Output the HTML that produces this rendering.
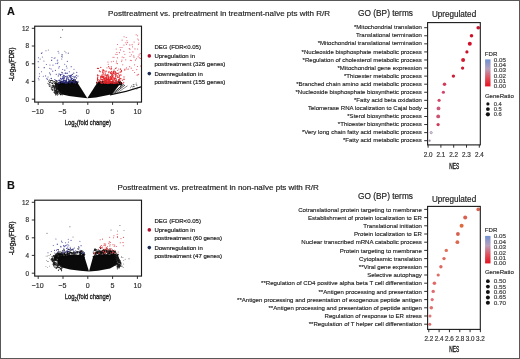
<!DOCTYPE html>
<html><head><meta charset="utf-8"><style>
html,body{margin:0;padding:0;background:#fff;}
body{width:520px;height:359px;position:relative;overflow:hidden;font-family:"Liberation Sans", sans-serif;}
</style></head><body>
<svg width="520" height="359" viewBox="0 0 520 359" style="position:absolute;left:0;top:0;will-change:transform">
<defs>
<clipPath id="clipV0"><rect x="35.2" y="26.7" width="105.8" height="74.9"/></clipPath>
<clipPath id="clipV174"><rect x="35.2" y="200.7" width="105.8" height="74.9"/></clipPath>
<linearGradient id="gA" x1="0" y1="0" x2="0" y2="1"><stop offset="0" stop-color="#6c8fd2"/><stop offset="0.35" stop-color="#b8a0bc"/><stop offset="0.68" stop-color="#e0505c"/><stop offset="1" stop-color="#e4101e"/></linearGradient>
<linearGradient id="gB" x1="0" y1="0" x2="0" y2="1"><stop offset="0" stop-color="#6c8fd2"/><stop offset="0.35" stop-color="#b8a0bc"/><stop offset="0.68" stop-color="#e0505c"/><stop offset="1" stop-color="#e4101e"/></linearGradient>
</defs>
<g font-family='"Liberation Sans", sans-serif'>
<rect x="0.5" y="0.5" width="519" height="358" fill="#fff" stroke="#585858" stroke-width="1"/>
<text x="6.90" y="14.80" font-size="10.9" text-anchor="start" fill="#111" font-weight="bold" stroke="#111" stroke-width="0.1" >A</text>
<text x="7.10" y="188.70" font-size="10.9" text-anchor="start" fill="#111" font-weight="bold" stroke="#111" stroke-width="0.1" >B</text>
<text x="108.10" y="15.80" font-size="8" text-anchor="start" fill="#222" font-weight="normal" stroke="#222" stroke-width="0.18" >Posttreatment vs. pretreatment in treatment-naïve pts with R/R</text>
<text x="117.40" y="190.20" font-size="8" text-anchor="start" fill="#222" font-weight="normal" stroke="#222" stroke-width="0.18" >Posttreatment vs. pretreatment in non-naïve pts with R/R</text>
<g clip-path="url(#clipV0)">
<path d="M55.6,83.7 L64.2,82.2 L73.8,81.7 L77.7,83.0 L87.3,98.3 L78.7,97.2 L69.0,95.9 L62.3,94.4 L57.5,89.6 L55.3,85.8Z" fill="#0a0a0a"/>
<path d="M87.3,98.3 L97.1,83.0 L105.0,82.6 L119.5,82.6 L120.5,83.4 L112.0,94.3 L96.0,97.5Z" fill="#0a0a0a"/>
<path d="M110.0,94.3 L126.0,90.7 L141.5,86.1 L141.5,87.4 L126.0,92.0 L110.0,95.5Z" fill="#0a0a0a"/>
<line x1="112.2" y1="94.0" x2="123.8" y2="84.0" stroke="#111" stroke-width="0.9"/>
<line x1="114.3" y1="93.6" x2="125.0" y2="85.0" stroke="#111" stroke-width="0.8"/>
<line x1="117.0" y1="93.0" x2="127.5" y2="85.8" stroke="#111" stroke-width="0.5"/>
<circle cx="73.20" cy="82.21" r="0.60" fill="#0a0a0a" />
<circle cx="73.41" cy="81.02" r="0.60" fill="#0a0a0a" />
<circle cx="55.78" cy="84.29" r="0.60" fill="#0a0a0a" />
<circle cx="60.82" cy="83.68" r="0.60" fill="#0a0a0a" />
<circle cx="60.90" cy="82.89" r="0.60" fill="#0a0a0a" />
<circle cx="75.47" cy="82.43" r="0.60" fill="#0a0a0a" />
<circle cx="58.21" cy="84.07" r="0.60" fill="#0a0a0a" />
<circle cx="69.50" cy="81.75" r="0.60" fill="#0a0a0a" />
<circle cx="75.94" cy="83.67" r="0.60" fill="#0a0a0a" />
<circle cx="60.11" cy="82.39" r="0.60" fill="#0a0a0a" />
<circle cx="75.26" cy="83.73" r="0.60" fill="#0a0a0a" />
<circle cx="67.67" cy="82.88" r="0.60" fill="#0a0a0a" />
<circle cx="56.16" cy="85.16" r="0.60" fill="#0a0a0a" />
<circle cx="70.94" cy="84.83" r="0.60" fill="#0a0a0a" />
<circle cx="60.19" cy="84.07" r="0.60" fill="#0a0a0a" />
<circle cx="68.40" cy="82.14" r="0.60" fill="#0a0a0a" />
<circle cx="76.28" cy="82.08" r="0.60" fill="#0a0a0a" />
<circle cx="74.45" cy="82.46" r="0.60" fill="#0a0a0a" />
<circle cx="63.25" cy="82.30" r="0.60" fill="#0a0a0a" />
<circle cx="74.01" cy="81.22" r="0.60" fill="#0a0a0a" />
<circle cx="77.82" cy="82.46" r="0.60" fill="#0a0a0a" />
<circle cx="72.17" cy="83.99" r="0.60" fill="#0a0a0a" />
<circle cx="65.92" cy="82.57" r="0.60" fill="#0a0a0a" />
<circle cx="65.45" cy="83.34" r="0.60" fill="#0a0a0a" />
<circle cx="64.49" cy="82.76" r="0.60" fill="#0a0a0a" />
<circle cx="62.86" cy="82.12" r="0.60" fill="#0a0a0a" />
<circle cx="73.51" cy="81.11" r="0.60" fill="#0a0a0a" />
<circle cx="57.03" cy="84.58" r="0.60" fill="#0a0a0a" />
<circle cx="55.83" cy="83.62" r="0.60" fill="#0a0a0a" />
<circle cx="63.90" cy="82.87" r="0.60" fill="#0a0a0a" />
<circle cx="75.60" cy="83.79" r="0.60" fill="#0a0a0a" />
<circle cx="76.33" cy="81.68" r="0.60" fill="#0a0a0a" />
<circle cx="76.60" cy="83.59" r="0.60" fill="#0a0a0a" />
<circle cx="59.53" cy="83.71" r="0.60" fill="#0a0a0a" />
<circle cx="59.81" cy="84.27" r="0.60" fill="#0a0a0a" />
<circle cx="55.71" cy="84.58" r="0.60" fill="#0a0a0a" />
<circle cx="70.34" cy="82.45" r="0.60" fill="#0a0a0a" />
<circle cx="65.62" cy="83.26" r="0.60" fill="#0a0a0a" />
<circle cx="69.10" cy="82.98" r="0.60" fill="#0a0a0a" />
<circle cx="68.73" cy="82.72" r="0.60" fill="#0a0a0a" />
<circle cx="75.07" cy="84.28" r="0.60" fill="#0a0a0a" />
<circle cx="60.31" cy="85.64" r="0.60" fill="#0a0a0a" />
<circle cx="65.52" cy="82.28" r="0.60" fill="#0a0a0a" />
<circle cx="74.85" cy="82.02" r="0.60" fill="#0a0a0a" />
<circle cx="69.49" cy="81.68" r="0.60" fill="#0a0a0a" />
<circle cx="60.25" cy="82.36" r="0.60" fill="#0a0a0a" />
<circle cx="61.03" cy="81.46" r="0.60" fill="#0a0a0a" />
<circle cx="62.81" cy="81.26" r="0.60" fill="#0a0a0a" />
<circle cx="56.67" cy="83.91" r="0.60" fill="#0a0a0a" />
<circle cx="62.14" cy="82.89" r="0.60" fill="#0a0a0a" />
<circle cx="76.64" cy="83.91" r="0.60" fill="#0a0a0a" />
<circle cx="73.18" cy="82.55" r="0.60" fill="#0a0a0a" />
<circle cx="59.40" cy="84.33" r="0.60" fill="#0a0a0a" />
<circle cx="76.50" cy="83.20" r="0.60" fill="#0a0a0a" />
<circle cx="73.66" cy="80.25" r="0.60" fill="#0a0a0a" />
<circle cx="76.48" cy="82.99" r="0.60" fill="#0a0a0a" />
<circle cx="75.43" cy="79.86" r="0.60" fill="#0a0a0a" />
<circle cx="68.64" cy="81.79" r="0.60" fill="#0a0a0a" />
<circle cx="57.22" cy="84.30" r="0.60" fill="#0a0a0a" />
<circle cx="72.40" cy="83.56" r="0.60" fill="#0a0a0a" />
<circle cx="70.21" cy="83.16" r="0.60" fill="#0a0a0a" />
<circle cx="55.98" cy="82.63" r="0.60" fill="#0a0a0a" />
<circle cx="60.52" cy="82.82" r="0.60" fill="#0a0a0a" />
<circle cx="62.78" cy="83.45" r="0.60" fill="#0a0a0a" />
<circle cx="69.04" cy="81.31" r="0.60" fill="#0a0a0a" />
<circle cx="76.03" cy="84.11" r="0.60" fill="#0a0a0a" />
<circle cx="72.43" cy="80.47" r="0.60" fill="#0a0a0a" />
<circle cx="75.85" cy="81.92" r="0.60" fill="#0a0a0a" />
<circle cx="73.58" cy="82.05" r="0.60" fill="#0a0a0a" />
<circle cx="60.87" cy="82.54" r="0.60" fill="#0a0a0a" />
<circle cx="59.59" cy="82.09" r="0.60" fill="#0a0a0a" />
<circle cx="70.30" cy="81.91" r="0.60" fill="#0a0a0a" />
<circle cx="63.44" cy="82.84" r="0.60" fill="#0a0a0a" />
<circle cx="61.73" cy="82.75" r="0.60" fill="#0a0a0a" />
<circle cx="59.05" cy="82.63" r="0.60" fill="#0a0a0a" />
<circle cx="74.50" cy="83.41" r="0.60" fill="#0a0a0a" />
<circle cx="69.08" cy="83.41" r="0.60" fill="#0a0a0a" />
<circle cx="73.27" cy="81.61" r="0.60" fill="#0a0a0a" />
<circle cx="65.83" cy="83.09" r="0.60" fill="#0a0a0a" />
<circle cx="61.12" cy="83.29" r="0.60" fill="#0a0a0a" />
<circle cx="71.91" cy="81.74" r="0.60" fill="#0a0a0a" />
<circle cx="76.11" cy="83.34" r="0.60" fill="#0a0a0a" />
<circle cx="64.11" cy="84.88" r="0.60" fill="#0a0a0a" />
<circle cx="73.00" cy="83.31" r="0.60" fill="#0a0a0a" />
<circle cx="56.55" cy="84.41" r="0.60" fill="#0a0a0a" />
<circle cx="68.14" cy="82.58" r="0.60" fill="#0a0a0a" />
<circle cx="63.98" cy="82.03" r="0.60" fill="#0a0a0a" />
<circle cx="58.57" cy="83.42" r="0.60" fill="#0a0a0a" />
<circle cx="56.82" cy="83.64" r="0.60" fill="#0a0a0a" />
<circle cx="56.20" cy="86.20" r="0.60" fill="#0a0a0a" />
<circle cx="58.21" cy="84.47" r="0.60" fill="#0a0a0a" />
<circle cx="76.98" cy="83.55" r="0.60" fill="#0a0a0a" />
<circle cx="75.97" cy="82.27" r="0.60" fill="#0a0a0a" />
<circle cx="62.82" cy="84.70" r="0.60" fill="#0a0a0a" />
<circle cx="72.73" cy="80.68" r="0.60" fill="#0a0a0a" />
<circle cx="60.88" cy="83.88" r="0.60" fill="#0a0a0a" />
<circle cx="59.23" cy="84.46" r="0.60" fill="#0a0a0a" />
<circle cx="70.77" cy="82.57" r="0.60" fill="#0a0a0a" />
<circle cx="63.92" cy="83.09" r="0.60" fill="#0a0a0a" />
<circle cx="69.97" cy="82.02" r="0.60" fill="#0a0a0a" />
<circle cx="69.16" cy="83.03" r="0.60" fill="#0a0a0a" />
<circle cx="64.23" cy="82.45" r="0.60" fill="#0a0a0a" />
<circle cx="76.12" cy="83.71" r="0.60" fill="#0a0a0a" />
<circle cx="65.40" cy="81.39" r="0.60" fill="#0a0a0a" />
<circle cx="70.25" cy="80.47" r="0.60" fill="#0a0a0a" />
<circle cx="71.17" cy="82.02" r="0.60" fill="#0a0a0a" />
<circle cx="77.41" cy="85.20" r="0.60" fill="#0a0a0a" />
<circle cx="63.36" cy="82.82" r="0.60" fill="#0a0a0a" />
<circle cx="68.89" cy="82.73" r="0.60" fill="#0a0a0a" />
<circle cx="72.40" cy="81.34" r="0.60" fill="#0a0a0a" />
<circle cx="61.80" cy="83.13" r="0.60" fill="#0a0a0a" />
<circle cx="68.39" cy="84.77" r="0.60" fill="#0a0a0a" />
<circle cx="75.87" cy="82.83" r="0.60" fill="#0a0a0a" />
<circle cx="59.06" cy="83.56" r="0.60" fill="#0a0a0a" />
<circle cx="66.71" cy="81.66" r="0.60" fill="#0a0a0a" />
<circle cx="56.47" cy="83.53" r="0.60" fill="#0a0a0a" />
<circle cx="74.30" cy="82.17" r="0.60" fill="#0a0a0a" />
<circle cx="57.08" cy="83.53" r="0.60" fill="#0a0a0a" />
<circle cx="61.08" cy="81.01" r="0.60" fill="#0a0a0a" />
<circle cx="71.45" cy="80.95" r="0.60" fill="#0a0a0a" />
<circle cx="71.08" cy="81.88" r="0.60" fill="#0a0a0a" />
<circle cx="76.83" cy="81.90" r="0.60" fill="#0a0a0a" />
<circle cx="73.87" cy="81.99" r="0.60" fill="#0a0a0a" />
<circle cx="61.98" cy="81.65" r="0.60" fill="#0a0a0a" />
<circle cx="77.42" cy="82.82" r="0.60" fill="#0a0a0a" />
<circle cx="56.62" cy="84.32" r="0.60" fill="#0a0a0a" />
<circle cx="69.17" cy="81.17" r="0.60" fill="#0a0a0a" />
<circle cx="74.72" cy="83.39" r="0.60" fill="#0a0a0a" />
<circle cx="61.54" cy="82.83" r="0.60" fill="#0a0a0a" />
<circle cx="75.84" cy="81.50" r="0.60" fill="#0a0a0a" />
<circle cx="62.94" cy="84.35" r="0.60" fill="#0a0a0a" />
<circle cx="62.42" cy="82.69" r="0.60" fill="#0a0a0a" />
<circle cx="65.22" cy="81.93" r="0.60" fill="#0a0a0a" />
<circle cx="60.81" cy="82.78" r="0.60" fill="#0a0a0a" />
<circle cx="58.10" cy="82.35" r="0.60" fill="#0a0a0a" />
<circle cx="76.16" cy="82.71" r="0.60" fill="#0a0a0a" />
<circle cx="73.76" cy="82.42" r="0.60" fill="#0a0a0a" />
<circle cx="66.55" cy="82.17" r="0.60" fill="#0a0a0a" />
<circle cx="72.07" cy="82.04" r="0.60" fill="#0a0a0a" />
<circle cx="73.66" cy="81.94" r="0.60" fill="#0a0a0a" />
<circle cx="63.64" cy="82.24" r="0.60" fill="#0a0a0a" />
<circle cx="68.71" cy="81.09" r="0.60" fill="#0a0a0a" />
<circle cx="60.91" cy="84.10" r="0.60" fill="#0a0a0a" />
<circle cx="65.68" cy="81.27" r="0.60" fill="#0a0a0a" />
<circle cx="61.75" cy="85.05" r="0.60" fill="#0a0a0a" />
<circle cx="68.51" cy="84.30" r="0.60" fill="#0a0a0a" />
<circle cx="75.49" cy="83.06" r="0.60" fill="#0a0a0a" />
<circle cx="68.07" cy="82.87" r="0.60" fill="#0a0a0a" />
<circle cx="71.51" cy="81.67" r="0.60" fill="#0a0a0a" />
<circle cx="62.00" cy="82.44" r="0.60" fill="#0a0a0a" />
<circle cx="64.20" cy="83.66" r="0.60" fill="#0a0a0a" />
<circle cx="58.41" cy="83.90" r="0.60" fill="#0a0a0a" />
<circle cx="58.57" cy="84.16" r="0.60" fill="#0a0a0a" />
<circle cx="77.45" cy="83.91" r="0.60" fill="#0a0a0a" />
<circle cx="75.13" cy="80.64" r="0.60" fill="#0a0a0a" />
<circle cx="72.90" cy="80.74" r="0.60" fill="#0a0a0a" />
<circle cx="75.92" cy="82.35" r="0.60" fill="#0a0a0a" />
<circle cx="75.24" cy="82.13" r="0.60" fill="#0a0a0a" />
<circle cx="69.29" cy="81.54" r="0.60" fill="#0a0a0a" />
<circle cx="59.47" cy="84.05" r="0.60" fill="#0a0a0a" />
<circle cx="120.37" cy="82.85" r="0.60" fill="#0a0a0a" />
<circle cx="99.10" cy="82.67" r="0.60" fill="#0a0a0a" />
<circle cx="102.60" cy="83.35" r="0.60" fill="#0a0a0a" />
<circle cx="112.64" cy="82.97" r="0.60" fill="#0a0a0a" />
<circle cx="110.91" cy="82.46" r="0.60" fill="#0a0a0a" />
<circle cx="100.05" cy="83.40" r="0.60" fill="#0a0a0a" />
<circle cx="116.76" cy="82.95" r="0.60" fill="#0a0a0a" />
<circle cx="110.54" cy="81.99" r="0.60" fill="#0a0a0a" />
<circle cx="110.20" cy="82.97" r="0.60" fill="#0a0a0a" />
<circle cx="106.26" cy="82.60" r="0.60" fill="#0a0a0a" />
<circle cx="98.15" cy="82.55" r="0.60" fill="#0a0a0a" />
<circle cx="120.91" cy="82.78" r="0.60" fill="#0a0a0a" />
<circle cx="97.50" cy="83.89" r="0.60" fill="#0a0a0a" />
<circle cx="118.88" cy="82.82" r="0.60" fill="#0a0a0a" />
<circle cx="121.08" cy="83.70" r="0.60" fill="#0a0a0a" />
<circle cx="99.49" cy="85.25" r="0.60" fill="#0a0a0a" />
<circle cx="104.44" cy="81.21" r="0.60" fill="#0a0a0a" />
<circle cx="106.24" cy="82.57" r="0.60" fill="#0a0a0a" />
<circle cx="99.44" cy="82.37" r="0.60" fill="#0a0a0a" />
<circle cx="118.61" cy="81.92" r="0.60" fill="#0a0a0a" />
<circle cx="115.25" cy="82.99" r="0.60" fill="#0a0a0a" />
<circle cx="121.03" cy="84.66" r="0.60" fill="#0a0a0a" />
<circle cx="118.20" cy="82.02" r="0.60" fill="#0a0a0a" />
<circle cx="118.39" cy="81.16" r="0.60" fill="#0a0a0a" />
<circle cx="112.54" cy="82.63" r="0.60" fill="#0a0a0a" />
<circle cx="115.19" cy="82.94" r="0.60" fill="#0a0a0a" />
<circle cx="117.73" cy="82.45" r="0.60" fill="#0a0a0a" />
<circle cx="102.63" cy="82.47" r="0.60" fill="#0a0a0a" />
<circle cx="102.52" cy="81.85" r="0.60" fill="#0a0a0a" />
<circle cx="108.06" cy="81.07" r="0.60" fill="#0a0a0a" />
<circle cx="119.33" cy="82.90" r="0.60" fill="#0a0a0a" />
<circle cx="99.04" cy="84.72" r="0.60" fill="#0a0a0a" />
<circle cx="106.19" cy="81.66" r="0.60" fill="#0a0a0a" />
<circle cx="101.05" cy="82.73" r="0.60" fill="#0a0a0a" />
<circle cx="119.50" cy="83.41" r="0.60" fill="#0a0a0a" />
<circle cx="119.85" cy="83.08" r="0.60" fill="#0a0a0a" />
<circle cx="111.44" cy="81.85" r="0.60" fill="#0a0a0a" />
<circle cx="105.31" cy="82.23" r="0.60" fill="#0a0a0a" />
<circle cx="101.81" cy="82.63" r="0.60" fill="#0a0a0a" />
<circle cx="114.35" cy="83.40" r="0.60" fill="#0a0a0a" />
<circle cx="111.54" cy="82.94" r="0.60" fill="#0a0a0a" />
<circle cx="100.07" cy="82.85" r="0.60" fill="#0a0a0a" />
<circle cx="100.14" cy="82.12" r="0.60" fill="#0a0a0a" />
<circle cx="106.20" cy="81.98" r="0.60" fill="#0a0a0a" />
<circle cx="121.01" cy="84.79" r="0.60" fill="#0a0a0a" />
<circle cx="104.82" cy="83.58" r="0.60" fill="#0a0a0a" />
<circle cx="105.73" cy="82.69" r="0.60" fill="#0a0a0a" />
<circle cx="99.12" cy="80.91" r="0.60" fill="#0a0a0a" />
<circle cx="109.76" cy="84.81" r="0.60" fill="#0a0a0a" />
<circle cx="99.10" cy="82.19" r="0.60" fill="#0a0a0a" />
<circle cx="109.22" cy="81.34" r="0.60" fill="#0a0a0a" />
<circle cx="121.61" cy="84.68" r="0.60" fill="#0a0a0a" />
<circle cx="101.81" cy="82.25" r="0.60" fill="#0a0a0a" />
<circle cx="117.08" cy="81.81" r="0.60" fill="#0a0a0a" />
<circle cx="104.73" cy="84.29" r="0.60" fill="#0a0a0a" />
<circle cx="119.87" cy="82.63" r="0.60" fill="#0a0a0a" />
<circle cx="99.53" cy="83.86" r="0.60" fill="#0a0a0a" />
<circle cx="119.84" cy="84.48" r="0.60" fill="#0a0a0a" />
<circle cx="100.05" cy="82.03" r="0.60" fill="#0a0a0a" />
<circle cx="120.81" cy="82.93" r="0.60" fill="#0a0a0a" />
<circle cx="99.35" cy="83.27" r="0.60" fill="#0a0a0a" />
<circle cx="119.58" cy="82.69" r="0.60" fill="#0a0a0a" />
<circle cx="99.96" cy="81.92" r="0.60" fill="#0a0a0a" />
<circle cx="120.41" cy="81.78" r="0.60" fill="#0a0a0a" />
<circle cx="108.91" cy="82.26" r="0.60" fill="#0a0a0a" />
<circle cx="119.65" cy="83.35" r="0.60" fill="#0a0a0a" />
<circle cx="98.70" cy="82.23" r="0.60" fill="#0a0a0a" />
<circle cx="105.94" cy="83.36" r="0.60" fill="#0a0a0a" />
<circle cx="120.06" cy="81.72" r="0.60" fill="#0a0a0a" />
<circle cx="97.18" cy="83.43" r="0.60" fill="#0a0a0a" />
<circle cx="118.58" cy="82.99" r="0.60" fill="#0a0a0a" />
<circle cx="96.89" cy="82.06" r="0.60" fill="#0a0a0a" />
<circle cx="103.89" cy="84.08" r="0.60" fill="#0a0a0a" />
<circle cx="113.84" cy="81.26" r="0.60" fill="#0a0a0a" />
<circle cx="97.48" cy="82.35" r="0.60" fill="#0a0a0a" />
<circle cx="97.33" cy="83.43" r="0.60" fill="#0a0a0a" />
<circle cx="105.46" cy="80.41" r="0.60" fill="#0a0a0a" />
<circle cx="103.24" cy="83.23" r="0.60" fill="#0a0a0a" />
<circle cx="120.17" cy="84.88" r="0.60" fill="#0a0a0a" />
<circle cx="119.63" cy="84.35" r="0.60" fill="#0a0a0a" />
<circle cx="120.21" cy="83.12" r="0.60" fill="#0a0a0a" />
<circle cx="100.08" cy="85.92" r="0.60" fill="#0a0a0a" />
<circle cx="120.29" cy="82.92" r="0.60" fill="#0a0a0a" />
<circle cx="120.76" cy="83.96" r="0.60" fill="#0a0a0a" />
<circle cx="114.03" cy="83.37" r="0.60" fill="#0a0a0a" />
<circle cx="100.64" cy="83.35" r="0.60" fill="#0a0a0a" />
<circle cx="100.64" cy="82.21" r="0.60" fill="#0a0a0a" />
<circle cx="98.34" cy="83.30" r="0.60" fill="#0a0a0a" />
<circle cx="106.01" cy="81.95" r="0.60" fill="#0a0a0a" />
<circle cx="119.62" cy="83.49" r="0.60" fill="#0a0a0a" />
<circle cx="104.77" cy="83.38" r="0.60" fill="#0a0a0a" />
<circle cx="99.54" cy="82.76" r="0.60" fill="#0a0a0a" />
<circle cx="109.12" cy="81.77" r="0.60" fill="#0a0a0a" />
<circle cx="103.70" cy="81.38" r="0.60" fill="#0a0a0a" />
<circle cx="102.50" cy="81.72" r="0.60" fill="#0a0a0a" />
<circle cx="120.89" cy="83.26" r="0.60" fill="#0a0a0a" />
<circle cx="97.65" cy="82.96" r="0.60" fill="#0a0a0a" />
<circle cx="106.80" cy="84.23" r="0.60" fill="#0a0a0a" />
<circle cx="96.80" cy="82.53" r="0.60" fill="#0a0a0a" />
<circle cx="102.20" cy="83.69" r="0.60" fill="#0a0a0a" />
<circle cx="112.74" cy="82.10" r="0.60" fill="#0a0a0a" />
<circle cx="109.47" cy="83.65" r="0.60" fill="#0a0a0a" />
<circle cx="111.40" cy="82.77" r="0.60" fill="#0a0a0a" />
<circle cx="120.55" cy="84.22" r="0.60" fill="#0a0a0a" />
<circle cx="120.43" cy="83.90" r="0.60" fill="#0a0a0a" />
<circle cx="111.15" cy="83.07" r="0.60" fill="#0a0a0a" />
<circle cx="105.88" cy="83.04" r="0.60" fill="#0a0a0a" />
<circle cx="98.04" cy="84.83" r="0.60" fill="#0a0a0a" />
<circle cx="116.14" cy="82.73" r="0.60" fill="#0a0a0a" />
<circle cx="120.44" cy="82.44" r="0.60" fill="#0a0a0a" />
<circle cx="104.52" cy="82.65" r="0.60" fill="#0a0a0a" />
<circle cx="99.09" cy="82.95" r="0.60" fill="#0a0a0a" />
<circle cx="102.47" cy="82.09" r="0.60" fill="#0a0a0a" />
<circle cx="113.85" cy="83.61" r="0.60" fill="#0a0a0a" />
<circle cx="120.00" cy="82.62" r="0.60" fill="#0a0a0a" />
<circle cx="120.42" cy="84.12" r="0.60" fill="#0a0a0a" />
<circle cx="120.21" cy="83.66" r="0.60" fill="#0a0a0a" />
<circle cx="100.08" cy="82.35" r="0.60" fill="#0a0a0a" />
<circle cx="118.33" cy="84.31" r="0.60" fill="#0a0a0a" />
<circle cx="103.92" cy="83.33" r="0.60" fill="#0a0a0a" />
<circle cx="112.32" cy="81.71" r="0.60" fill="#0a0a0a" />
<circle cx="98.32" cy="82.61" r="0.60" fill="#0a0a0a" />
<circle cx="120.58" cy="86.80" r="0.60" fill="#0a0a0a" />
<circle cx="119.64" cy="83.34" r="0.60" fill="#0a0a0a" />
<circle cx="98.49" cy="82.78" r="0.60" fill="#0a0a0a" />
<circle cx="119.14" cy="80.90" r="0.60" fill="#0a0a0a" />
<circle cx="121.41" cy="82.92" r="0.60" fill="#0a0a0a" />
<circle cx="119.88" cy="83.96" r="0.60" fill="#0a0a0a" />
<circle cx="110.97" cy="82.92" r="0.60" fill="#0a0a0a" />
<circle cx="108.25" cy="82.47" r="0.60" fill="#0a0a0a" />
<circle cx="101.42" cy="84.01" r="0.60" fill="#0a0a0a" />
<circle cx="119.37" cy="82.40" r="0.60" fill="#0a0a0a" />
<circle cx="100.10" cy="82.46" r="0.60" fill="#0a0a0a" />
<circle cx="104.51" cy="83.21" r="0.60" fill="#0a0a0a" />
<circle cx="97.97" cy="84.33" r="0.60" fill="#0a0a0a" />
<circle cx="110.82" cy="82.83" r="0.60" fill="#0a0a0a" />
<circle cx="121.15" cy="82.95" r="0.60" fill="#0a0a0a" />
<circle cx="120.77" cy="82.71" r="0.60" fill="#0a0a0a" />
<circle cx="98.55" cy="83.10" r="0.60" fill="#0a0a0a" />
<circle cx="100.32" cy="83.30" r="0.60" fill="#0a0a0a" />
<circle cx="54.43" cy="83.18" r="0.55" fill="#111" />
<circle cx="55.44" cy="86.28" r="0.55" fill="#111" />
<circle cx="61.26" cy="94.58" r="0.55" fill="#111" />
<circle cx="60.90" cy="92.74" r="0.55" fill="#111" />
<circle cx="61.50" cy="93.31" r="0.55" fill="#111" />
<circle cx="57.24" cy="89.74" r="0.55" fill="#111" />
<circle cx="55.74" cy="85.08" r="0.55" fill="#111" />
<circle cx="60.50" cy="94.72" r="0.55" fill="#111" />
<circle cx="61.54" cy="91.49" r="0.55" fill="#111" />
<circle cx="60.54" cy="92.71" r="0.55" fill="#111" />
<circle cx="56.52" cy="83.72" r="0.55" fill="#111" />
<circle cx="56.91" cy="88.60" r="0.55" fill="#111" />
<circle cx="58.71" cy="94.09" r="0.55" fill="#111" />
<circle cx="59.31" cy="92.10" r="0.55" fill="#111" />
<circle cx="56.06" cy="85.08" r="0.55" fill="#111" />
<circle cx="60.45" cy="94.55" r="0.55" fill="#111" />
<circle cx="55.94" cy="84.96" r="0.55" fill="#111" />
<circle cx="56.09" cy="86.29" r="0.55" fill="#111" />
<circle cx="55.62" cy="84.55" r="0.55" fill="#111" />
<circle cx="57.19" cy="89.06" r="0.55" fill="#111" />
<circle cx="58.57" cy="90.48" r="0.55" fill="#111" />
<circle cx="56.85" cy="87.39" r="0.55" fill="#111" />
<circle cx="57.60" cy="91.04" r="0.55" fill="#111" />
<circle cx="57.61" cy="88.63" r="0.55" fill="#111" />
<circle cx="56.47" cy="88.22" r="0.55" fill="#111" />
<circle cx="55.88" cy="83.13" r="0.55" fill="#111" />
<circle cx="58.51" cy="91.55" r="0.55" fill="#111" />
<circle cx="62.42" cy="94.79" r="0.55" fill="#111" />
<circle cx="60.41" cy="92.65" r="0.55" fill="#111" />
<circle cx="60.58" cy="93.02" r="0.55" fill="#111" />
<circle cx="60.03" cy="93.12" r="0.55" fill="#111" />
<circle cx="56.51" cy="89.56" r="0.55" fill="#111" />
<circle cx="56.24" cy="88.70" r="0.55" fill="#111" />
<circle cx="55.93" cy="85.33" r="0.55" fill="#111" />
<circle cx="58.60" cy="92.32" r="0.55" fill="#111" />
<circle cx="55.94" cy="88.15" r="0.55" fill="#111" />
<circle cx="60.37" cy="94.45" r="0.55" fill="#111" />
<circle cx="56.77" cy="88.08" r="0.55" fill="#111" />
<circle cx="56.85" cy="86.86" r="0.55" fill="#111" />
<circle cx="56.14" cy="88.73" r="0.55" fill="#111" />
<circle cx="61.44" cy="92.76" r="0.55" fill="#111" />
<circle cx="55.89" cy="87.43" r="0.55" fill="#111" />
<circle cx="56.33" cy="85.69" r="0.55" fill="#111" />
<circle cx="57.03" cy="89.55" r="0.55" fill="#111" />
<circle cx="55.89" cy="86.71" r="0.55" fill="#111" />
<circle cx="60.30" cy="92.25" r="0.55" fill="#111" />
<circle cx="60.43" cy="93.97" r="0.55" fill="#111" />
<circle cx="59.58" cy="91.49" r="0.55" fill="#111" />
<circle cx="55.93" cy="83.36" r="0.55" fill="#111" />
<circle cx="57.34" cy="88.04" r="0.55" fill="#111" />
<circle cx="57.66" cy="91.41" r="0.55" fill="#111" />
<circle cx="55.57" cy="84.33" r="0.55" fill="#111" />
<circle cx="57.19" cy="88.03" r="0.55" fill="#111" />
<circle cx="59.19" cy="92.91" r="0.55" fill="#111" />
<circle cx="57.94" cy="91.13" r="0.55" fill="#111" />
<circle cx="60.96" cy="94.18" r="0.55" fill="#111" />
<circle cx="59.73" cy="93.35" r="0.55" fill="#111" />
<circle cx="57.07" cy="92.37" r="0.55" fill="#111" />
<circle cx="60.89" cy="92.29" r="0.55" fill="#111" />
<circle cx="56.19" cy="87.05" r="0.55" fill="#111" />
<circle cx="105.74" cy="75.06" r="0.60" fill="#e3262b" />
<circle cx="114.11" cy="79.59" r="0.60" fill="#e3262b" />
<circle cx="110.92" cy="73.44" r="0.60" fill="#e3262b" />
<circle cx="105.88" cy="79.91" r="0.60" fill="#e3262b" />
<circle cx="103.14" cy="80.19" r="0.60" fill="#e3262b" />
<circle cx="104.55" cy="78.89" r="0.60" fill="#e3262b" />
<circle cx="102.73" cy="70.13" r="0.60" fill="#e3262b" />
<circle cx="112.57" cy="74.85" r="0.60" fill="#e3262b" />
<circle cx="110.05" cy="77.15" r="0.60" fill="#e3262b" />
<circle cx="97.50" cy="82.38" r="0.60" fill="#e3262b" />
<circle cx="116.30" cy="81.57" r="0.60" fill="#e3262b" />
<circle cx="114.56" cy="73.89" r="0.60" fill="#e3262b" />
<circle cx="115.76" cy="80.63" r="0.60" fill="#e3262b" />
<circle cx="115.31" cy="78.46" r="0.60" fill="#e3262b" />
<circle cx="99.78" cy="80.87" r="0.60" fill="#e3262b" />
<circle cx="100.46" cy="82.79" r="0.60" fill="#e3262b" />
<circle cx="112.47" cy="76.56" r="0.60" fill="#e3262b" />
<circle cx="97.50" cy="75.06" r="0.60" fill="#e3262b" />
<circle cx="111.26" cy="73.94" r="0.60" fill="#e3262b" />
<circle cx="101.06" cy="76.61" r="0.60" fill="#e3262b" />
<circle cx="121.44" cy="70.45" r="0.60" fill="#e3262b" />
<circle cx="107.74" cy="81.75" r="0.60" fill="#e3262b" />
<circle cx="108.08" cy="77.01" r="0.60" fill="#e3262b" />
<circle cx="115.23" cy="82.93" r="0.60" fill="#e3262b" />
<circle cx="100.85" cy="78.68" r="0.60" fill="#e3262b" />
<circle cx="106.18" cy="79.41" r="0.60" fill="#e3262b" />
<circle cx="110.58" cy="72.95" r="0.60" fill="#e3262b" />
<circle cx="115.83" cy="80.57" r="0.60" fill="#e3262b" />
<circle cx="111.09" cy="72.03" r="0.60" fill="#e3262b" />
<circle cx="105.78" cy="80.68" r="0.60" fill="#e3262b" />
<circle cx="116.14" cy="75.33" r="0.60" fill="#e3262b" />
<circle cx="112.11" cy="74.92" r="0.60" fill="#e3262b" />
<circle cx="101.43" cy="81.89" r="0.60" fill="#e3262b" />
<circle cx="111.32" cy="66.94" r="0.60" fill="#e3262b" />
<circle cx="103.83" cy="76.10" r="0.60" fill="#e3262b" />
<circle cx="113.62" cy="72.64" r="0.60" fill="#e3262b" />
<circle cx="104.09" cy="82.42" r="0.60" fill="#e3262b" />
<circle cx="106.04" cy="82.50" r="0.60" fill="#e3262b" />
<circle cx="111.82" cy="78.24" r="0.60" fill="#e3262b" />
<circle cx="111.80" cy="79.36" r="0.60" fill="#e3262b" />
<circle cx="105.73" cy="80.01" r="0.60" fill="#e3262b" />
<circle cx="105.56" cy="81.63" r="0.60" fill="#e3262b" />
<circle cx="118.60" cy="83.32" r="0.60" fill="#e3262b" />
<circle cx="108.12" cy="78.72" r="0.60" fill="#e3262b" />
<circle cx="106.81" cy="76.46" r="0.60" fill="#e3262b" />
<circle cx="101.30" cy="79.48" r="0.60" fill="#e3262b" />
<circle cx="105.93" cy="78.31" r="0.60" fill="#e3262b" />
<circle cx="119.62" cy="77.97" r="0.60" fill="#e3262b" />
<circle cx="119.54" cy="79.22" r="0.60" fill="#e3262b" />
<circle cx="117.72" cy="77.15" r="0.60" fill="#e3262b" />
<circle cx="116.19" cy="74.03" r="0.60" fill="#e3262b" />
<circle cx="108.30" cy="82.66" r="0.60" fill="#e3262b" />
<circle cx="123.74" cy="82.35" r="0.60" fill="#e3262b" />
<circle cx="106.46" cy="79.41" r="0.60" fill="#e3262b" />
<circle cx="111.68" cy="81.35" r="0.60" fill="#e3262b" />
<circle cx="110.07" cy="72.31" r="0.60" fill="#e3262b" />
<circle cx="107.03" cy="80.42" r="0.60" fill="#e3262b" />
<circle cx="117.76" cy="76.97" r="0.60" fill="#e3262b" />
<circle cx="115.23" cy="71.59" r="0.60" fill="#e3262b" />
<circle cx="100.87" cy="76.37" r="0.60" fill="#e3262b" />
<circle cx="102.77" cy="71.50" r="0.60" fill="#e3262b" />
<circle cx="111.72" cy="71.43" r="0.60" fill="#e3262b" />
<circle cx="111.99" cy="74.05" r="0.60" fill="#e3262b" />
<circle cx="99.31" cy="81.44" r="0.60" fill="#e3262b" />
<circle cx="97.50" cy="78.44" r="0.60" fill="#e3262b" />
<circle cx="104.58" cy="81.77" r="0.60" fill="#e3262b" />
<circle cx="109.33" cy="79.96" r="0.60" fill="#e3262b" />
<circle cx="106.92" cy="83.40" r="0.60" fill="#e3262b" />
<circle cx="105.72" cy="82.75" r="0.60" fill="#e3262b" />
<circle cx="101.96" cy="83.09" r="0.60" fill="#e3262b" />
<circle cx="97.50" cy="80.31" r="0.60" fill="#e3262b" />
<circle cx="120.49" cy="82.98" r="0.60" fill="#e3262b" />
<circle cx="101.44" cy="81.83" r="0.60" fill="#e3262b" />
<circle cx="103.17" cy="72.77" r="0.60" fill="#e3262b" />
<circle cx="104.58" cy="78.71" r="0.60" fill="#e3262b" />
<circle cx="111.30" cy="82.87" r="0.60" fill="#e3262b" />
<circle cx="103.44" cy="76.49" r="0.60" fill="#e3262b" />
<circle cx="117.10" cy="81.91" r="0.60" fill="#e3262b" />
<circle cx="103.29" cy="69.78" r="0.60" fill="#e3262b" />
<circle cx="100.78" cy="67.41" r="0.60" fill="#e3262b" />
<circle cx="102.11" cy="83.00" r="0.60" fill="#e3262b" />
<circle cx="110.26" cy="82.48" r="0.60" fill="#e3262b" />
<circle cx="107.33" cy="74.57" r="0.60" fill="#e3262b" />
<circle cx="102.69" cy="72.52" r="0.60" fill="#e3262b" />
<circle cx="104.46" cy="78.00" r="0.60" fill="#e3262b" />
<circle cx="98.84" cy="81.72" r="0.60" fill="#e3262b" />
<circle cx="110.57" cy="76.76" r="0.60" fill="#e3262b" />
<circle cx="102.26" cy="79.63" r="0.60" fill="#e3262b" />
<circle cx="111.32" cy="78.71" r="0.60" fill="#e3262b" />
<circle cx="111.86" cy="77.66" r="0.60" fill="#e3262b" />
<circle cx="104.22" cy="83.38" r="0.60" fill="#e3262b" />
<circle cx="97.50" cy="82.79" r="0.60" fill="#e3262b" />
<circle cx="103.00" cy="73.99" r="0.60" fill="#e3262b" />
<circle cx="106.45" cy="78.54" r="0.60" fill="#e3262b" />
<circle cx="106.57" cy="75.27" r="0.60" fill="#e3262b" />
<circle cx="102.04" cy="74.97" r="0.60" fill="#e3262b" />
<circle cx="118.31" cy="80.91" r="0.60" fill="#e3262b" />
<circle cx="114.67" cy="78.13" r="0.60" fill="#e3262b" />
<circle cx="113.83" cy="81.81" r="0.60" fill="#e3262b" />
<circle cx="112.89" cy="83.34" r="0.60" fill="#e3262b" />
<circle cx="116.24" cy="79.28" r="0.60" fill="#e3262b" />
<circle cx="103.22" cy="73.90" r="0.60" fill="#e3262b" />
<circle cx="115.96" cy="78.70" r="0.60" fill="#e3262b" />
<circle cx="102.74" cy="77.39" r="0.60" fill="#e3262b" />
<circle cx="106.33" cy="75.24" r="0.60" fill="#e3262b" />
<circle cx="107.26" cy="79.42" r="0.60" fill="#e3262b" />
<circle cx="105.69" cy="77.26" r="0.60" fill="#e3262b" />
<circle cx="109.22" cy="80.50" r="0.60" fill="#e3262b" />
<circle cx="109.69" cy="81.88" r="0.60" fill="#e3262b" />
<circle cx="111.04" cy="69.27" r="0.60" fill="#e3262b" />
<circle cx="105.79" cy="78.33" r="0.60" fill="#e3262b" />
<circle cx="113.65" cy="73.24" r="0.60" fill="#e3262b" />
<circle cx="104.71" cy="81.59" r="0.60" fill="#e3262b" />
<circle cx="106.98" cy="77.06" r="0.60" fill="#e3262b" />
<circle cx="106.34" cy="77.23" r="0.60" fill="#e3262b" />
<circle cx="100.21" cy="71.72" r="0.60" fill="#e3262b" />
<circle cx="116.32" cy="80.67" r="0.60" fill="#e3262b" />
<circle cx="111.93" cy="82.70" r="0.60" fill="#e3262b" />
<circle cx="111.91" cy="75.60" r="0.60" fill="#e3262b" />
<circle cx="114.69" cy="80.04" r="0.60" fill="#e3262b" />
<circle cx="114.91" cy="82.93" r="0.60" fill="#e3262b" />
<circle cx="97.50" cy="75.13" r="0.60" fill="#e3262b" />
<circle cx="115.77" cy="82.61" r="0.60" fill="#e3262b" />
<circle cx="106.63" cy="81.92" r="0.60" fill="#e3262b" />
<circle cx="106.45" cy="79.96" r="0.60" fill="#e3262b" />
<circle cx="109.61" cy="82.56" r="0.60" fill="#e3262b" />
<circle cx="118.10" cy="83.20" r="0.60" fill="#e3262b" />
<circle cx="120.28" cy="71.78" r="0.60" fill="#e3262b" />
<circle cx="119.30" cy="76.60" r="0.60" fill="#e3262b" />
<circle cx="109.78" cy="82.61" r="0.60" fill="#e3262b" />
<circle cx="108.14" cy="78.75" r="0.60" fill="#e3262b" />
<circle cx="108.60" cy="79.33" r="0.60" fill="#e3262b" />
<circle cx="118.84" cy="80.03" r="0.60" fill="#e3262b" />
<circle cx="106.32" cy="71.05" r="0.60" fill="#e3262b" />
<circle cx="108.68" cy="80.79" r="0.60" fill="#e3262b" />
<circle cx="102.49" cy="76.11" r="0.60" fill="#e3262b" />
<circle cx="97.50" cy="79.80" r="0.60" fill="#e3262b" />
<circle cx="108.61" cy="66.72" r="0.60" fill="#e3262b" />
<circle cx="108.81" cy="82.54" r="0.60" fill="#e3262b" />
<circle cx="117.67" cy="82.63" r="0.60" fill="#e3262b" />
<circle cx="110.00" cy="81.08" r="0.60" fill="#e3262b" />
<circle cx="105.37" cy="73.75" r="0.60" fill="#e3262b" />
<circle cx="115.00" cy="72.35" r="0.60" fill="#e3262b" />
<circle cx="106.90" cy="83.30" r="0.60" fill="#e3262b" />
<circle cx="103.72" cy="77.21" r="0.60" fill="#e3262b" />
<circle cx="100.64" cy="79.83" r="0.60" fill="#e3262b" />
<circle cx="115.58" cy="74.33" r="0.60" fill="#e3262b" />
<circle cx="103.36" cy="76.42" r="0.60" fill="#e3262b" />
<circle cx="104.72" cy="78.58" r="0.60" fill="#e3262b" />
<circle cx="101.06" cy="75.99" r="0.60" fill="#e3262b" />
<circle cx="118.89" cy="79.64" r="0.60" fill="#e3262b" />
<circle cx="104.44" cy="81.30" r="0.60" fill="#e3262b" />
<circle cx="124.00" cy="76.97" r="0.60" fill="#e3262b" />
<circle cx="105.74" cy="71.84" r="0.60" fill="#e3262b" />
<circle cx="104.96" cy="75.78" r="0.60" fill="#e3262b" />
<circle cx="120.21" cy="81.77" r="0.60" fill="#e3262b" />
<circle cx="104.85" cy="80.19" r="0.60" fill="#e3262b" />
<circle cx="97.69" cy="77.60" r="0.60" fill="#e3262b" />
<circle cx="102.49" cy="76.59" r="0.60" fill="#e3262b" />
<circle cx="98.75" cy="75.24" r="0.60" fill="#e3262b" />
<circle cx="110.73" cy="78.54" r="0.60" fill="#e3262b" />
<circle cx="113.69" cy="83.45" r="0.60" fill="#e3262b" />
<circle cx="101.95" cy="79.46" r="0.60" fill="#e3262b" />
<circle cx="114.05" cy="71.07" r="0.60" fill="#e3262b" />
<circle cx="119.96" cy="80.27" r="0.60" fill="#e3262b" />
<circle cx="113.56" cy="71.41" r="0.60" fill="#e3262b" />
<circle cx="104.68" cy="81.23" r="0.60" fill="#e3262b" />
<circle cx="115.46" cy="74.01" r="0.60" fill="#e3262b" />
<circle cx="103.70" cy="70.31" r="0.60" fill="#e3262b" />
<circle cx="107.55" cy="81.25" r="0.60" fill="#e3262b" />
<circle cx="98.88" cy="79.66" r="0.60" fill="#e3262b" />
<circle cx="112.06" cy="73.19" r="0.60" fill="#e3262b" />
<circle cx="112.98" cy="81.53" r="0.60" fill="#e3262b" />
<circle cx="101.93" cy="77.41" r="0.60" fill="#e3262b" />
<circle cx="105.01" cy="82.54" r="0.60" fill="#e3262b" />
<circle cx="108.70" cy="72.66" r="0.60" fill="#e3262b" />
<circle cx="110.72" cy="76.53" r="0.60" fill="#e3262b" />
<circle cx="118.27" cy="77.33" r="0.60" fill="#e3262b" />
<circle cx="109.61" cy="78.81" r="0.60" fill="#e3262b" />
<circle cx="97.78" cy="76.86" r="0.60" fill="#e3262b" />
<circle cx="114.47" cy="78.28" r="0.60" fill="#e3262b" />
<circle cx="101.08" cy="82.23" r="0.60" fill="#e3262b" />
<circle cx="110.46" cy="79.56" r="0.60" fill="#e3262b" />
<circle cx="112.93" cy="74.34" r="0.60" fill="#e3262b" />
<circle cx="103.96" cy="77.14" r="0.60" fill="#e3262b" />
<circle cx="103.08" cy="78.99" r="0.60" fill="#e3262b" />
<circle cx="110.07" cy="81.92" r="0.60" fill="#e3262b" />
<circle cx="114.81" cy="83.39" r="0.60" fill="#e3262b" />
<circle cx="115.67" cy="77.81" r="0.60" fill="#e3262b" />
<circle cx="109.81" cy="79.82" r="0.60" fill="#e3262b" />
<circle cx="104.48" cy="80.07" r="0.60" fill="#e3262b" />
<circle cx="107.79" cy="83.34" r="0.60" fill="#e3262b" />
<circle cx="124.00" cy="79.35" r="0.60" fill="#e3262b" />
<circle cx="113.62" cy="77.91" r="0.60" fill="#e3262b" />
<circle cx="104.74" cy="81.43" r="0.60" fill="#e3262b" />
<circle cx="110.15" cy="76.77" r="0.60" fill="#e3262b" />
<circle cx="118.67" cy="79.84" r="0.60" fill="#e3262b" />
<circle cx="115.47" cy="68.32" r="0.60" fill="#e3262b" />
<circle cx="108.96" cy="81.69" r="0.60" fill="#e3262b" />
<circle cx="110.15" cy="79.59" r="0.60" fill="#e3262b" />
<circle cx="110.68" cy="82.44" r="0.60" fill="#e3262b" />
<circle cx="97.64" cy="78.86" r="0.60" fill="#e3262b" />
<circle cx="97.50" cy="79.41" r="0.60" fill="#e3262b" />
<circle cx="110.84" cy="82.23" r="0.60" fill="#e3262b" />
<circle cx="104.07" cy="79.72" r="0.60" fill="#e3262b" />
<circle cx="120.07" cy="72.25" r="0.60" fill="#e3262b" />
<circle cx="108.65" cy="75.13" r="0.60" fill="#e3262b" />
<circle cx="99.47" cy="70.92" r="0.60" fill="#e3262b" />
<circle cx="106.10" cy="77.81" r="0.60" fill="#e3262b" />
<circle cx="105.65" cy="82.28" r="0.60" fill="#e3262b" />
<circle cx="124.00" cy="79.20" r="0.60" fill="#e3262b" />
<circle cx="109.30" cy="81.70" r="0.60" fill="#e3262b" />
<circle cx="108.79" cy="77.45" r="0.60" fill="#e3262b" />
<circle cx="119.65" cy="75.42" r="0.60" fill="#e3262b" />
<circle cx="109.97" cy="81.78" r="0.60" fill="#e3262b" />
<circle cx="111.14" cy="73.54" r="0.60" fill="#e3262b" />
<circle cx="98.45" cy="68.44" r="0.60" fill="#e3262b" />
<circle cx="112.15" cy="82.25" r="0.60" fill="#e3262b" />
<circle cx="109.44" cy="68.12" r="0.60" fill="#e3262b" />
<circle cx="106.76" cy="78.59" r="0.60" fill="#e3262b" />
<circle cx="100.52" cy="77.55" r="0.60" fill="#e3262b" />
<circle cx="113.19" cy="79.96" r="0.60" fill="#e3262b" />
<circle cx="108.86" cy="80.16" r="0.60" fill="#e3262b" />
<circle cx="105.38" cy="83.04" r="0.60" fill="#e3262b" />
<circle cx="109.24" cy="79.90" r="0.60" fill="#e3262b" />
<circle cx="108.58" cy="82.57" r="0.60" fill="#e3262b" />
<circle cx="108.19" cy="79.31" r="0.60" fill="#e3262b" />
<circle cx="122.40" cy="80.16" r="0.60" fill="#e3262b" />
<circle cx="111.57" cy="68.60" r="0.60" fill="#e3262b" />
<circle cx="117.42" cy="73.38" r="0.60" fill="#e3262b" />
<circle cx="113.17" cy="78.05" r="0.60" fill="#e3262b" />
<circle cx="120.31" cy="74.95" r="0.60" fill="#e3262b" />
<circle cx="113.62" cy="75.85" r="0.60" fill="#e3262b" />
<circle cx="103.78" cy="81.75" r="0.60" fill="#e3262b" />
<circle cx="112.03" cy="76.86" r="0.60" fill="#e3262b" />
<circle cx="106.69" cy="80.90" r="0.60" fill="#e3262b" />
<circle cx="109.36" cy="81.31" r="0.60" fill="#e3262b" />
<circle cx="107.28" cy="75.46" r="0.60" fill="#e3262b" />
<circle cx="116.46" cy="73.13" r="0.60" fill="#e3262b" />
<circle cx="108.36" cy="76.84" r="0.60" fill="#e3262b" />
<circle cx="111.67" cy="79.21" r="0.60" fill="#e3262b" />
<circle cx="111.89" cy="78.54" r="0.60" fill="#e3262b" />
<circle cx="112.44" cy="76.93" r="0.60" fill="#e3262b" />
<circle cx="103.62" cy="70.72" r="0.60" fill="#e3262b" />
<circle cx="121.54" cy="71.65" r="0.60" fill="#e3262b" />
<circle cx="120.94" cy="78.67" r="0.60" fill="#e3262b" />
<circle cx="106.97" cy="79.60" r="0.60" fill="#e3262b" />
<circle cx="104.12" cy="82.75" r="0.60" fill="#e3262b" />
<circle cx="108.80" cy="79.14" r="0.60" fill="#e3262b" />
<circle cx="97.50" cy="68.47" r="0.60" fill="#e3262b" />
<circle cx="122.66" cy="83.32" r="0.60" fill="#e3262b" />
<circle cx="113.06" cy="80.41" r="0.60" fill="#e3262b" />
<circle cx="110.64" cy="82.14" r="0.60" fill="#e3262b" />
<circle cx="108.26" cy="78.14" r="0.60" fill="#e3262b" />
<circle cx="110.07" cy="83.34" r="0.60" fill="#e3262b" />
<circle cx="110.92" cy="77.94" r="0.60" fill="#e3262b" />
<circle cx="109.24" cy="83.19" r="0.60" fill="#e3262b" />
<circle cx="112.63" cy="76.59" r="0.60" fill="#e3262b" />
<circle cx="111.52" cy="77.11" r="0.60" fill="#e3262b" />
<circle cx="112.58" cy="81.10" r="0.60" fill="#e3262b" />
<circle cx="106.05" cy="81.96" r="0.60" fill="#e3262b" />
<circle cx="113.38" cy="73.41" r="0.60" fill="#e3262b" />
<circle cx="108.05" cy="79.32" r="0.60" fill="#e3262b" />
<circle cx="111.25" cy="82.17" r="0.60" fill="#e3262b" />
<circle cx="103.55" cy="78.71" r="0.60" fill="#e3262b" />
<circle cx="108.39" cy="79.13" r="0.60" fill="#e3262b" />
<circle cx="101.84" cy="76.88" r="0.60" fill="#e3262b" />
<circle cx="111.99" cy="75.54" r="0.60" fill="#e3262b" />
<circle cx="109.65" cy="81.21" r="0.60" fill="#e3262b" />
<circle cx="108.33" cy="76.88" r="0.60" fill="#e3262b" />
<circle cx="108.64" cy="81.34" r="0.60" fill="#e3262b" />
<circle cx="111.02" cy="78.05" r="0.60" fill="#e3262b" />
<circle cx="115.55" cy="72.61" r="0.60" fill="#e3262b" />
<circle cx="107.94" cy="83.45" r="0.60" fill="#e3262b" />
<circle cx="114.77" cy="79.55" r="0.60" fill="#e3262b" />
<circle cx="112.28" cy="79.82" r="0.60" fill="#e3262b" />
<circle cx="113.43" cy="72.21" r="0.60" fill="#e3262b" />
<circle cx="106.59" cy="80.62" r="0.60" fill="#e3262b" />
<circle cx="103.44" cy="77.17" r="0.60" fill="#e3262b" />
<circle cx="116.26" cy="83.27" r="0.60" fill="#e3262b" />
<circle cx="102.19" cy="80.88" r="0.60" fill="#e3262b" />
<circle cx="115.89" cy="76.42" r="0.60" fill="#e3262b" />
<circle cx="113.88" cy="71.60" r="0.60" fill="#e3262b" />
<circle cx="104.92" cy="74.26" r="0.60" fill="#e3262b" />
<circle cx="101.64" cy="76.15" r="0.60" fill="#e3262b" />
<circle cx="120.29" cy="78.55" r="0.60" fill="#e3262b" />
<circle cx="115.72" cy="81.34" r="0.60" fill="#e3262b" />
<circle cx="101.65" cy="82.83" r="0.60" fill="#e3262b" />
<circle cx="107.81" cy="83.19" r="0.60" fill="#e3262b" />
<circle cx="113.18" cy="82.56" r="0.60" fill="#e3262b" />
<circle cx="110.15" cy="80.74" r="0.60" fill="#e3262b" />
<circle cx="108.97" cy="71.52" r="0.60" fill="#e3262b" />
<circle cx="111.65" cy="82.95" r="0.60" fill="#e3262b" />
<circle cx="107.75" cy="79.44" r="0.60" fill="#e3262b" />
<circle cx="117.07" cy="82.52" r="0.60" fill="#e3262b" />
<circle cx="102.53" cy="79.84" r="0.60" fill="#e3262b" />
<circle cx="108.18" cy="80.60" r="0.60" fill="#e3262b" />
<circle cx="115.51" cy="75.95" r="0.60" fill="#e3262b" />
<circle cx="111.95" cy="82.57" r="0.60" fill="#e3262b" />
<circle cx="101.93" cy="83.19" r="0.60" fill="#e3262b" />
<circle cx="126.44" cy="44.30" r="0.55" fill="#e4505a" />
<circle cx="124.93" cy="69.89" r="0.55" fill="#e4505a" />
<circle cx="134.60" cy="64.85" r="0.55" fill="#e4505a" />
<circle cx="118.40" cy="73.25" r="0.55" fill="#e4505a" />
<circle cx="118.76" cy="68.95" r="0.55" fill="#e4505a" />
<circle cx="115.23" cy="73.42" r="0.55" fill="#e4505a" />
<circle cx="127.64" cy="42.58" r="0.55" fill="#e4505a" />
<circle cx="137.09" cy="75.17" r="0.55" fill="#e4505a" />
<circle cx="106.97" cy="67.86" r="0.55" fill="#e4505a" />
<circle cx="118.51" cy="73.11" r="0.55" fill="#e4505a" />
<circle cx="125.76" cy="59.84" r="0.55" fill="#e4505a" />
<circle cx="115.88" cy="54.21" r="0.55" fill="#e4505a" />
<circle cx="138.05" cy="74.67" r="0.55" fill="#e4505a" />
<circle cx="104.81" cy="70.91" r="0.55" fill="#e4505a" />
<circle cx="130.33" cy="60.23" r="0.55" fill="#e4505a" />
<circle cx="112.14" cy="72.67" r="0.55" fill="#e4505a" />
<circle cx="139.08" cy="54.89" r="0.55" fill="#e4505a" />
<circle cx="132.10" cy="44.65" r="0.55" fill="#e4505a" />
<circle cx="112.31" cy="74.07" r="0.55" fill="#e4505a" />
<circle cx="116.86" cy="52.52" r="0.55" fill="#e4505a" />
<circle cx="126.21" cy="37.45" r="0.55" fill="#e4505a" />
<circle cx="120.49" cy="49.89" r="0.55" fill="#e4505a" />
<circle cx="125.04" cy="68.95" r="0.55" fill="#e4505a" />
<circle cx="131.29" cy="60.62" r="0.55" fill="#e4505a" />
<circle cx="129.80" cy="52.28" r="0.55" fill="#e4505a" />
<circle cx="119.42" cy="52.63" r="0.55" fill="#e4505a" />
<circle cx="124.34" cy="69.92" r="0.55" fill="#e4505a" />
<circle cx="140.15" cy="53.62" r="0.55" fill="#e4505a" />
<circle cx="137.80" cy="38.98" r="0.55" fill="#e4505a" />
<circle cx="123.86" cy="51.36" r="0.55" fill="#e4505a" />
<circle cx="107.86" cy="74.21" r="0.55" fill="#e4505a" />
<circle cx="132.41" cy="46.83" r="0.55" fill="#e4505a" />
<circle cx="131.21" cy="68.13" r="0.55" fill="#e4505a" />
<circle cx="122.74" cy="64.70" r="0.55" fill="#e4505a" />
<circle cx="137.53" cy="66.54" r="0.55" fill="#e4505a" />
<circle cx="139.37" cy="57.78" r="0.55" fill="#e4505a" />
<circle cx="133.99" cy="57.17" r="0.55" fill="#e4505a" />
<circle cx="117.73" cy="70.40" r="0.55" fill="#e4505a" />
<circle cx="132.90" cy="51.90" r="0.55" fill="#e4505a" />
<circle cx="129.85" cy="44.89" r="0.55" fill="#e4505a" />
<circle cx="134.97" cy="48.92" r="0.55" fill="#e4505a" />
<circle cx="120.38" cy="69.38" r="0.55" fill="#e4505a" />
<circle cx="122.07" cy="40.11" r="0.55" fill="#e4505a" />
<circle cx="112.99" cy="57.32" r="0.55" fill="#e4505a" />
<circle cx="134.59" cy="72.49" r="0.55" fill="#e4505a" />
<circle cx="104.75" cy="72.07" r="0.55" fill="#e4505a" />
<circle cx="138.12" cy="56.86" r="0.55" fill="#e4505a" />
<circle cx="140.44" cy="66.03" r="0.55" fill="#e4505a" />
<circle cx="131.41" cy="54.77" r="0.55" fill="#e4505a" />
<circle cx="129.93" cy="49.14" r="0.55" fill="#e4505a" />
<circle cx="111.32" cy="61.76" r="0.55" fill="#e4505a" />
<circle cx="129.21" cy="48.47" r="0.55" fill="#e4505a" />
<circle cx="118.82" cy="74.44" r="0.55" fill="#e4505a" />
<circle cx="116.33" cy="67.90" r="0.55" fill="#e4505a" />
<circle cx="121.48" cy="75.05" r="0.55" fill="#e4505a" />
<circle cx="117.75" cy="75.57" r="0.55" fill="#e4505a" />
<circle cx="117.15" cy="54.51" r="0.55" fill="#e4505a" />
<circle cx="140.31" cy="58.54" r="0.55" fill="#e4505a" />
<circle cx="121.96" cy="60.01" r="0.55" fill="#e4505a" />
<circle cx="129.73" cy="66.66" r="0.55" fill="#e4505a" />
<circle cx="128.54" cy="69.05" r="0.55" fill="#e4505a" />
<circle cx="130.02" cy="56.34" r="0.55" fill="#e4505a" />
<circle cx="114.02" cy="57.28" r="0.55" fill="#e4505a" />
<circle cx="124.04" cy="36.69" r="0.55" fill="#e4505a" />
<circle cx="136.17" cy="34.73" r="0.55" fill="#e4505a" />
<circle cx="121.96" cy="47.57" r="0.55" fill="#e4505a" />
<circle cx="123.82" cy="57.62" r="0.55" fill="#e4505a" />
<circle cx="137.66" cy="48.97" r="0.55" fill="#e4505a" />
<circle cx="138.91" cy="42.97" r="0.55" fill="#e4505a" />
<circle cx="136.83" cy="69.61" r="0.55" fill="#e4505a" />
<circle cx="126.41" cy="67.90" r="0.55" fill="#e4505a" />
<circle cx="138.56" cy="74.24" r="0.55" fill="#e4505a" />
<circle cx="117.49" cy="63.61" r="0.55" fill="#e4505a" />
<circle cx="132.88" cy="70.51" r="0.55" fill="#e4505a" />
<circle cx="125.84" cy="42.71" r="0.55" fill="#e4505a" />
<circle cx="116.22" cy="48.97" r="0.55" fill="#e4505a" />
<circle cx="120.10" cy="47.45" r="0.55" fill="#e4505a" />
<circle cx="117.59" cy="44.48" r="0.55" fill="#e4505a" />
<circle cx="113.39" cy="61.23" r="0.55" fill="#e4505a" />
<circle cx="116.38" cy="63.06" r="0.55" fill="#e4505a" />
<circle cx="120.53" cy="68.74" r="0.55" fill="#e4505a" />
<circle cx="110.32" cy="68.80" r="0.55" fill="#e4505a" />
<circle cx="124.84" cy="54.21" r="0.55" fill="#e4505a" />
<circle cx="117.57" cy="57.85" r="0.55" fill="#e4505a" />
<circle cx="136.56" cy="58.76" r="0.55" fill="#e4505a" />
<circle cx="133.78" cy="55.87" r="0.55" fill="#e4505a" />
<circle cx="122.20" cy="56.98" r="0.55" fill="#e4505a" />
<circle cx="137.61" cy="35.79" r="0.55" fill="#e4505a" />
<circle cx="123.95" cy="45.07" r="0.55" fill="#e4505a" />
<circle cx="134.13" cy="41.96" r="0.55" fill="#e4505a" />
<circle cx="138.34" cy="44.42" r="0.55" fill="#e4505a" />
<circle cx="114.13" cy="69.90" r="0.55" fill="#e4505a" />
<circle cx="121.64" cy="61.20" r="0.55" fill="#e4505a" />
<circle cx="116.45" cy="61.00" r="0.55" fill="#e4505a" />
<circle cx="127.09" cy="69.26" r="0.55" fill="#e4505a" />
<circle cx="138.62" cy="39.99" r="0.55" fill="#e4505a" />
<circle cx="108.21" cy="64.30" r="0.55" fill="#e4505a" />
<circle cx="126.96" cy="40.72" r="0.55" fill="#e4505a" />
<circle cx="135.44" cy="60.09" r="0.55" fill="#e4505a" />
<circle cx="107.98" cy="62.11" r="0.55" fill="#e4505a" />
<circle cx="71.25" cy="75.28" r="0.55" fill="#303088" />
<circle cx="65.60" cy="81.91" r="0.55" fill="#303088" />
<circle cx="70.99" cy="77.53" r="0.55" fill="#303088" />
<circle cx="70.30" cy="82.29" r="0.55" fill="#303088" />
<circle cx="74.13" cy="77.24" r="0.55" fill="#303088" />
<circle cx="69.30" cy="71.68" r="0.55" fill="#303088" />
<circle cx="65.99" cy="81.17" r="0.55" fill="#303088" />
<circle cx="63.96" cy="78.33" r="0.55" fill="#303088" />
<circle cx="65.83" cy="73.17" r="0.55" fill="#303088" />
<circle cx="65.49" cy="81.16" r="0.55" fill="#303088" />
<circle cx="71.95" cy="81.59" r="0.55" fill="#303088" />
<circle cx="74.33" cy="79.92" r="0.55" fill="#303088" />
<circle cx="65.19" cy="73.17" r="0.55" fill="#303088" />
<circle cx="61.43" cy="79.15" r="0.55" fill="#303088" />
<circle cx="74.75" cy="80.65" r="0.55" fill="#303088" />
<circle cx="59.53" cy="80.63" r="0.55" fill="#303088" />
<circle cx="68.82" cy="82.25" r="0.55" fill="#303088" />
<circle cx="66.13" cy="81.86" r="0.55" fill="#303088" />
<circle cx="62.82" cy="73.98" r="0.55" fill="#303088" />
<circle cx="65.47" cy="76.60" r="0.55" fill="#303088" />
<circle cx="74.39" cy="82.00" r="0.55" fill="#303088" />
<circle cx="61.62" cy="82.36" r="0.55" fill="#303088" />
<circle cx="71.26" cy="81.61" r="0.55" fill="#303088" />
<circle cx="62.58" cy="81.56" r="0.55" fill="#303088" />
<circle cx="64.79" cy="80.73" r="0.55" fill="#303088" />
<circle cx="63.61" cy="75.60" r="0.55" fill="#303088" />
<circle cx="66.34" cy="79.42" r="0.55" fill="#303088" />
<circle cx="59.52" cy="82.92" r="0.55" fill="#303088" />
<circle cx="71.14" cy="81.49" r="0.55" fill="#303088" />
<circle cx="62.19" cy="72.61" r="0.55" fill="#303088" />
<circle cx="70.85" cy="77.99" r="0.55" fill="#303088" />
<circle cx="60.47" cy="74.75" r="0.55" fill="#303088" />
<circle cx="56.32" cy="80.72" r="0.55" fill="#303088" />
<circle cx="70.32" cy="76.38" r="0.55" fill="#303088" />
<circle cx="60.57" cy="79.95" r="0.55" fill="#303088" />
<circle cx="67.15" cy="73.18" r="0.55" fill="#303088" />
<circle cx="69.73" cy="80.50" r="0.55" fill="#303088" />
<circle cx="63.39" cy="80.63" r="0.55" fill="#303088" />
<circle cx="70.53" cy="81.85" r="0.55" fill="#303088" />
<circle cx="69.04" cy="75.41" r="0.55" fill="#303088" />
<circle cx="63.22" cy="82.64" r="0.55" fill="#303088" />
<circle cx="62.96" cy="77.98" r="0.55" fill="#303088" />
<circle cx="63.63" cy="80.97" r="0.55" fill="#303088" />
<circle cx="66.80" cy="83.15" r="0.55" fill="#303088" />
<circle cx="75.98" cy="83.05" r="0.55" fill="#303088" />
<circle cx="74.24" cy="79.10" r="0.55" fill="#303088" />
<circle cx="73.67" cy="82.62" r="0.55" fill="#303088" />
<circle cx="71.39" cy="79.48" r="0.55" fill="#303088" />
<circle cx="62.43" cy="82.07" r="0.55" fill="#303088" />
<circle cx="65.25" cy="83.31" r="0.55" fill="#303088" />
<circle cx="73.55" cy="79.67" r="0.55" fill="#303088" />
<circle cx="56.25" cy="74.24" r="0.55" fill="#303088" />
<circle cx="63.38" cy="80.07" r="0.55" fill="#303088" />
<circle cx="66.08" cy="80.50" r="0.55" fill="#303088" />
<circle cx="76.20" cy="81.86" r="0.55" fill="#303088" />
<circle cx="68.68" cy="79.60" r="0.55" fill="#303088" />
<circle cx="69.36" cy="76.29" r="0.55" fill="#303088" />
<circle cx="73.76" cy="73.13" r="0.55" fill="#303088" />
<circle cx="71.15" cy="75.10" r="0.55" fill="#303088" />
<circle cx="70.78" cy="75.57" r="0.55" fill="#303088" />
<circle cx="64.22" cy="80.39" r="0.55" fill="#303088" />
<circle cx="68.40" cy="79.20" r="0.55" fill="#303088" />
<circle cx="60.85" cy="78.38" r="0.55" fill="#303088" />
<circle cx="58.29" cy="75.90" r="0.55" fill="#303088" />
<circle cx="66.12" cy="81.91" r="0.55" fill="#303088" />
<circle cx="58.29" cy="80.34" r="0.55" fill="#303088" />
<circle cx="69.98" cy="75.71" r="0.55" fill="#303088" />
<circle cx="77.96" cy="76.07" r="0.55" fill="#303088" />
<circle cx="58.94" cy="83.27" r="0.55" fill="#303088" />
<circle cx="68.78" cy="79.62" r="0.55" fill="#303088" />
<circle cx="63.86" cy="82.40" r="0.55" fill="#303088" />
<circle cx="64.64" cy="80.46" r="0.55" fill="#303088" />
<circle cx="51.13" cy="78.42" r="0.55" fill="#303088" />
<circle cx="67.45" cy="82.66" r="0.55" fill="#303088" />
<circle cx="62.37" cy="82.17" r="0.55" fill="#303088" />
<circle cx="65.92" cy="83.09" r="0.55" fill="#303088" />
<circle cx="72.37" cy="74.40" r="0.55" fill="#303088" />
<circle cx="67.45" cy="77.86" r="0.55" fill="#303088" />
<circle cx="64.17" cy="75.58" r="0.55" fill="#303088" />
<circle cx="59.75" cy="82.97" r="0.55" fill="#303088" />
<circle cx="62.59" cy="78.48" r="0.55" fill="#303088" />
<circle cx="60.35" cy="74.61" r="0.55" fill="#303088" />
<circle cx="68.96" cy="81.63" r="0.55" fill="#303088" />
<circle cx="64.16" cy="77.79" r="0.55" fill="#303088" />
<circle cx="60.88" cy="81.53" r="0.55" fill="#303088" />
<circle cx="66.85" cy="81.32" r="0.55" fill="#303088" />
<circle cx="63.02" cy="78.03" r="0.55" fill="#303088" />
<circle cx="78.00" cy="81.34" r="0.55" fill="#303088" />
<circle cx="76.77" cy="72.36" r="0.55" fill="#303088" />
<circle cx="74.11" cy="81.68" r="0.55" fill="#303088" />
<circle cx="66.79" cy="81.71" r="0.55" fill="#303088" />
<circle cx="62.33" cy="76.75" r="0.55" fill="#303088" />
<circle cx="63.73" cy="76.65" r="0.55" fill="#303088" />
<circle cx="72.57" cy="81.66" r="0.55" fill="#303088" />
<circle cx="62.96" cy="79.79" r="0.55" fill="#303088" />
<circle cx="59.09" cy="73.97" r="0.55" fill="#303088" />
<circle cx="69.82" cy="82.88" r="0.55" fill="#303088" />
<circle cx="63.17" cy="78.10" r="0.55" fill="#303088" />
<circle cx="73.59" cy="79.38" r="0.55" fill="#303088" />
<circle cx="60.51" cy="78.28" r="0.55" fill="#303088" />
<circle cx="59.62" cy="80.11" r="0.55" fill="#303088" />
<circle cx="60.46" cy="81.31" r="0.55" fill="#303088" />
<circle cx="68.85" cy="81.22" r="0.55" fill="#303088" />
<circle cx="71.83" cy="79.08" r="0.55" fill="#303088" />
<circle cx="75.09" cy="76.40" r="0.55" fill="#303088" />
<circle cx="65.94" cy="81.04" r="0.55" fill="#303088" />
<circle cx="61.52" cy="82.70" r="0.55" fill="#303088" />
<circle cx="58.39" cy="83.03" r="0.55" fill="#303088" />
<circle cx="67.15" cy="76.41" r="0.55" fill="#303088" />
<circle cx="71.46" cy="79.20" r="0.55" fill="#303088" />
<circle cx="63.92" cy="82.31" r="0.55" fill="#303088" />
<circle cx="64.04" cy="82.33" r="0.55" fill="#303088" />
<circle cx="54.88" cy="79.43" r="0.55" fill="#303088" />
<circle cx="56.97" cy="80.78" r="0.55" fill="#303088" />
<circle cx="66.13" cy="80.79" r="0.55" fill="#303088" />
<circle cx="75.58" cy="82.98" r="0.55" fill="#303088" />
<circle cx="75.05" cy="77.30" r="0.55" fill="#303088" />
<circle cx="63.14" cy="81.38" r="0.55" fill="#303088" />
<circle cx="73.48" cy="81.74" r="0.55" fill="#303088" />
<circle cx="66.51" cy="80.55" r="0.55" fill="#303088" />
<circle cx="66.34" cy="81.63" r="0.55" fill="#303088" />
<circle cx="66.48" cy="78.21" r="0.55" fill="#303088" />
<circle cx="74.02" cy="82.80" r="0.55" fill="#303088" />
<circle cx="67.16" cy="78.98" r="0.55" fill="#303088" />
<circle cx="64.33" cy="77.91" r="0.55" fill="#303088" />
<circle cx="72.40" cy="78.56" r="0.55" fill="#303088" />
<circle cx="71.36" cy="78.41" r="0.55" fill="#303088" />
<circle cx="76.54" cy="77.99" r="0.55" fill="#303088" />
<circle cx="70.89" cy="75.58" r="0.55" fill="#303088" />
<circle cx="60.46" cy="75.66" r="0.55" fill="#303088" />
<circle cx="61.26" cy="74.18" r="0.55" fill="#303088" />
<circle cx="70.16" cy="79.80" r="0.55" fill="#303088" />
<circle cx="64.83" cy="70.17" r="0.55" fill="#303088" />
<circle cx="65.68" cy="81.89" r="0.55" fill="#303088" />
<circle cx="63.82" cy="81.97" r="0.55" fill="#303088" />
<circle cx="55.69" cy="80.51" r="0.55" fill="#303088" />
<circle cx="76.37" cy="75.33" r="0.55" fill="#303088" />
<circle cx="63.92" cy="79.74" r="0.55" fill="#303088" />
<circle cx="68.28" cy="77.89" r="0.55" fill="#303088" />
<circle cx="70.17" cy="77.33" r="0.55" fill="#303088" />
<circle cx="41.39" cy="53.41" r="0.55" fill="#5656a6" />
<circle cx="59.01" cy="74.02" r="0.55" fill="#5656a6" />
<circle cx="67.32" cy="61.42" r="0.55" fill="#5656a6" />
<circle cx="66.41" cy="66.15" r="0.55" fill="#5656a6" />
<circle cx="51.51" cy="78.46" r="0.55" fill="#5656a6" />
<circle cx="39.37" cy="76.19" r="0.55" fill="#5656a6" />
<circle cx="55.43" cy="70.39" r="0.55" fill="#5656a6" />
<circle cx="49.83" cy="68.33" r="0.55" fill="#5656a6" />
<circle cx="44.06" cy="67.68" r="0.55" fill="#5656a6" />
<circle cx="57.21" cy="60.83" r="0.55" fill="#5656a6" />
<circle cx="38.20" cy="61.64" r="0.55" fill="#5656a6" />
<circle cx="38.73" cy="67.37" r="0.55" fill="#5656a6" />
<circle cx="58.11" cy="51.36" r="0.55" fill="#5656a6" />
<circle cx="54.18" cy="58.18" r="0.55" fill="#5656a6" />
<circle cx="55.03" cy="57.86" r="0.55" fill="#5656a6" />
<circle cx="67.11" cy="73.13" r="0.55" fill="#5656a6" />
<circle cx="51.12" cy="68.99" r="0.55" fill="#5656a6" />
<circle cx="64.34" cy="76.18" r="0.55" fill="#5656a6" />
<circle cx="61.67" cy="72.19" r="0.55" fill="#5656a6" />
<circle cx="51.47" cy="60.51" r="0.55" fill="#5656a6" />
<circle cx="46.41" cy="64.44" r="0.55" fill="#5656a6" />
<circle cx="42.34" cy="57.04" r="0.55" fill="#5656a6" />
<circle cx="57.48" cy="63.59" r="0.55" fill="#5656a6" />
<circle cx="40.17" cy="59.07" r="0.55" fill="#5656a6" />
<circle cx="61.74" cy="59.04" r="0.55" fill="#5656a6" />
<circle cx="44.37" cy="67.50" r="0.55" fill="#5656a6" />
<circle cx="48.03" cy="76.97" r="0.55" fill="#5656a6" />
<circle cx="45.97" cy="50.69" r="0.55" fill="#5656a6" />
<circle cx="52.74" cy="71.13" r="0.55" fill="#5656a6" />
<circle cx="45.59" cy="75.92" r="0.55" fill="#5656a6" />
<circle cx="66.99" cy="68.03" r="0.55" fill="#5656a6" />
<circle cx="43.29" cy="76.27" r="0.55" fill="#5656a6" />
<circle cx="73.71" cy="76.26" r="0.55" fill="#5656a6" />
<circle cx="61.77" cy="56.37" r="0.55" fill="#5656a6" />
<circle cx="62.66" cy="69.47" r="0.55" fill="#5656a6" />
<circle cx="51.69" cy="60.13" r="0.55" fill="#5656a6" />
<circle cx="57.74" cy="60.04" r="0.55" fill="#5656a6" />
<circle cx="38.44" cy="57.71" r="0.55" fill="#5656a6" />
<circle cx="76.73" cy="77.76" r="0.55" fill="#5656a6" />
<circle cx="41.47" cy="71.72" r="0.55" fill="#5656a6" />
<circle cx="61.89" cy="54.69" r="0.55" fill="#5656a6" />
<circle cx="57.98" cy="62.70" r="0.55" fill="#5656a6" />
<circle cx="59.25" cy="66.65" r="0.55" fill="#5656a6" />
<circle cx="49.60" cy="72.90" r="0.55" fill="#5656a6" />
<circle cx="55.93" cy="63.59" r="0.55" fill="#5656a6" />
<circle cx="38.36" cy="78.23" r="0.55" fill="#5656a6" />
<circle cx="64.71" cy="64.27" r="0.55" fill="#5656a6" />
<circle cx="42.08" cy="52.70" r="0.55" fill="#5656a6" />
<circle cx="71.20" cy="66.66" r="0.55" fill="#5656a6" />
<circle cx="43.92" cy="60.97" r="0.55" fill="#5656a6" />
<circle cx="62.28" cy="54.86" r="0.55" fill="#5656a6" />
<circle cx="49.96" cy="64.97" r="0.55" fill="#5656a6" />
<circle cx="50.28" cy="74.02" r="0.55" fill="#5656a6" />
<circle cx="66.59" cy="77.11" r="0.55" fill="#5656a6" />
<circle cx="46.83" cy="78.35" r="0.55" fill="#5656a6" />
<circle cx="51.94" cy="57.56" r="0.55" fill="#5656a6" />
<circle cx="62.24" cy="56.94" r="0.55" fill="#5656a6" />
<circle cx="74.04" cy="69.28" r="0.55" fill="#5656a6" />
<circle cx="67.03" cy="76.08" r="0.55" fill="#5656a6" />
<circle cx="50.64" cy="74.68" r="0.55" fill="#5656a6" />
<circle cx="58.72" cy="67.93" r="0.55" fill="#5656a6" />
<circle cx="72.26" cy="76.49" r="0.55" fill="#5656a6" />
<circle cx="71.32" cy="75.90" r="0.55" fill="#5656a6" />
<circle cx="38.98" cy="79.84" r="0.55" fill="#5656a6" />
<circle cx="58.84" cy="52.93" r="0.55" fill="#5656a6" />
<circle cx="65.97" cy="52.71" r="0.55" fill="#5656a6" />
<circle cx="47.33" cy="79.39" r="0.55" fill="#5656a6" />
<circle cx="39.43" cy="73.76" r="0.55" fill="#5656a6" />
<circle cx="52.98" cy="65.14" r="0.55" fill="#5656a6" />
<circle cx="68.32" cy="53.15" r="0.55" fill="#5656a6" />
<circle cx="49.97" cy="84.75" r="0.55" fill="#1a1a1a" />
<circle cx="53.25" cy="81.81" r="0.55" fill="#1a1a1a" />
<circle cx="53.95" cy="82.04" r="0.55" fill="#1a1a1a" />
<circle cx="51.22" cy="82.68" r="0.55" fill="#1a1a1a" />
<circle cx="50.38" cy="82.22" r="0.55" fill="#1a1a1a" />
<circle cx="57.08" cy="87.51" r="0.55" fill="#1a1a1a" />
<circle cx="54.06" cy="85.30" r="0.55" fill="#1a1a1a" />
<circle cx="56.72" cy="93.78" r="0.55" fill="#1a1a1a" />
<circle cx="48.01" cy="83.23" r="0.55" fill="#1a1a1a" />
<circle cx="55.24" cy="93.25" r="0.55" fill="#1a1a1a" />
<circle cx="56.52" cy="84.09" r="0.55" fill="#1a1a1a" />
<circle cx="57.21" cy="83.97" r="0.55" fill="#1a1a1a" />
<circle cx="52.69" cy="80.65" r="0.55" fill="#1a1a1a" />
<circle cx="53.76" cy="86.12" r="0.55" fill="#1a1a1a" />
<circle cx="57.48" cy="85.44" r="0.55" fill="#1a1a1a" />
<circle cx="54.46" cy="90.32" r="0.55" fill="#1a1a1a" />
<circle cx="54.43" cy="88.16" r="0.55" fill="#1a1a1a" />
<circle cx="52.35" cy="90.35" r="0.55" fill="#1a1a1a" />
<circle cx="55.24" cy="93.11" r="0.55" fill="#1a1a1a" />
<circle cx="55.67" cy="85.99" r="0.55" fill="#1a1a1a" />
<circle cx="49.86" cy="86.29" r="0.55" fill="#1a1a1a" />
<circle cx="55.12" cy="85.81" r="0.55" fill="#1a1a1a" />
<circle cx="56.86" cy="86.15" r="0.55" fill="#1a1a1a" />
<circle cx="57.50" cy="94.98" r="0.55" fill="#1a1a1a" />
<circle cx="52.00" cy="89.12" r="0.55" fill="#1a1a1a" />
<circle cx="52.49" cy="83.82" r="0.55" fill="#1a1a1a" />
<circle cx="56.19" cy="85.65" r="0.55" fill="#1a1a1a" />
<circle cx="56.89" cy="82.98" r="0.55" fill="#1a1a1a" />
<circle cx="54.75" cy="92.65" r="0.55" fill="#1a1a1a" />
<circle cx="57.44" cy="93.63" r="0.55" fill="#1a1a1a" />
<circle cx="56.29" cy="90.41" r="0.55" fill="#1a1a1a" />
<circle cx="54.89" cy="89.69" r="0.55" fill="#1a1a1a" />
<circle cx="48.91" cy="84.73" r="0.55" fill="#1a1a1a" />
<circle cx="49.30" cy="80.01" r="0.55" fill="#1a1a1a" />
<circle cx="55.97" cy="92.80" r="0.55" fill="#1a1a1a" />
<circle cx="51.32" cy="88.88" r="0.55" fill="#1a1a1a" />
<circle cx="52.18" cy="83.52" r="0.55" fill="#1a1a1a" />
<circle cx="56.15" cy="91.15" r="0.55" fill="#1a1a1a" />
<circle cx="56.00" cy="90.68" r="0.55" fill="#1a1a1a" />
<circle cx="53.87" cy="87.89" r="0.55" fill="#1a1a1a" />
<circle cx="56.26" cy="90.16" r="0.55" fill="#1a1a1a" />
<circle cx="54.85" cy="89.43" r="0.55" fill="#1a1a1a" />
<circle cx="52.31" cy="83.35" r="0.55" fill="#1a1a1a" />
<circle cx="49.18" cy="83.97" r="0.55" fill="#1a1a1a" />
<circle cx="52.67" cy="87.10" r="0.55" fill="#1a1a1a" />
<circle cx="54.86" cy="87.83" r="0.55" fill="#1a1a1a" />
<circle cx="56.72" cy="83.32" r="0.55" fill="#1a1a1a" />
<circle cx="56.21" cy="93.91" r="0.55" fill="#1a1a1a" />
<circle cx="54.50" cy="87.86" r="0.55" fill="#1a1a1a" />
<circle cx="56.87" cy="92.20" r="0.55" fill="#1a1a1a" />
<circle cx="49.50" cy="82.59" r="0.55" fill="#1a1a1a" />
<circle cx="53.29" cy="86.90" r="0.55" fill="#1a1a1a" />
<circle cx="54.10" cy="92.41" r="0.55" fill="#1a1a1a" />
<circle cx="57.44" cy="93.02" r="0.55" fill="#1a1a1a" />
<circle cx="50.98" cy="85.72" r="0.55" fill="#1a1a1a" />
<circle cx="57.24" cy="92.27" r="0.55" fill="#1a1a1a" />
<circle cx="55.75" cy="82.31" r="0.55" fill="#1a1a1a" />
<circle cx="54.62" cy="81.54" r="0.55" fill="#1a1a1a" />
<circle cx="55.71" cy="92.05" r="0.55" fill="#1a1a1a" />
<circle cx="57.18" cy="86.79" r="0.55" fill="#1a1a1a" />
<circle cx="49.39" cy="85.93" r="0.55" fill="#1a1a1a" />
<circle cx="55.65" cy="90.43" r="0.55" fill="#1a1a1a" />
<circle cx="52.03" cy="87.18" r="0.55" fill="#1a1a1a" />
<circle cx="57.11" cy="91.38" r="0.55" fill="#1a1a1a" />
<circle cx="56.04" cy="90.20" r="0.55" fill="#1a1a1a" />
<circle cx="56.43" cy="87.81" r="0.55" fill="#1a1a1a" />
<circle cx="55.44" cy="85.56" r="0.55" fill="#1a1a1a" />
<circle cx="57.46" cy="85.72" r="0.55" fill="#1a1a1a" />
<circle cx="52.66" cy="83.01" r="0.55" fill="#1a1a1a" />
<circle cx="56.28" cy="80.87" r="0.55" fill="#1a1a1a" />
<circle cx="56.57" cy="90.77" r="0.55" fill="#1a1a1a" />
<circle cx="56.10" cy="84.86" r="0.55" fill="#1a1a1a" />
<circle cx="57.33" cy="92.51" r="0.55" fill="#1a1a1a" />
<circle cx="52.74" cy="89.54" r="0.55" fill="#1a1a1a" />
<circle cx="54.22" cy="83.03" r="0.55" fill="#1a1a1a" />
<circle cx="55.21" cy="91.88" r="0.55" fill="#1a1a1a" />
<circle cx="57.36" cy="85.57" r="0.55" fill="#1a1a1a" />
<circle cx="55.41" cy="86.64" r="0.55" fill="#1a1a1a" />
<circle cx="56.47" cy="90.69" r="0.55" fill="#1a1a1a" />
<circle cx="52.93" cy="86.12" r="0.55" fill="#1a1a1a" />
<circle cx="56.44" cy="92.16" r="0.55" fill="#1a1a1a" />
<circle cx="53.45" cy="85.78" r="0.55" fill="#1a1a1a" />
<circle cx="57.15" cy="93.87" r="0.55" fill="#1a1a1a" />
<circle cx="55.87" cy="94.57" r="0.55" fill="#1a1a1a" />
<circle cx="52.57" cy="85.59" r="0.55" fill="#1a1a1a" />
<circle cx="57.22" cy="84.94" r="0.55" fill="#1a1a1a" />
<circle cx="56.19" cy="91.34" r="0.55" fill="#1a1a1a" />
<circle cx="54.73" cy="87.89" r="0.55" fill="#1a1a1a" />
<circle cx="55.26" cy="93.52" r="0.55" fill="#1a1a1a" />
<circle cx="51.55" cy="80.38" r="0.55" fill="#1a1a1a" />
<circle cx="54.75" cy="86.94" r="0.55" fill="#1a1a1a" />
<circle cx="56.28" cy="92.59" r="0.55" fill="#1a1a1a" />
<circle cx="51.15" cy="87.10" r="0.55" fill="#1a1a1a" />
<circle cx="54.44" cy="86.60" r="0.55" fill="#1a1a1a" />
<circle cx="52.04" cy="87.68" r="0.55" fill="#1a1a1a" />
<circle cx="53.80" cy="90.06" r="0.55" fill="#1a1a1a" />
<circle cx="57.37" cy="86.03" r="0.55" fill="#1a1a1a" />
<circle cx="55.01" cy="90.20" r="0.55" fill="#1a1a1a" />
<circle cx="54.30" cy="91.54" r="0.55" fill="#1a1a1a" />
<circle cx="55.98" cy="81.77" r="0.55" fill="#1a1a1a" />
<circle cx="48.84" cy="81.16" r="0.55" fill="#1a1a1a" />
<circle cx="57.03" cy="81.53" r="0.55" fill="#1a1a1a" />
<circle cx="55.29" cy="91.30" r="0.55" fill="#1a1a1a" />
<circle cx="50.54" cy="80.83" r="0.55" fill="#1a1a1a" />
<circle cx="55.53" cy="90.67" r="0.55" fill="#1a1a1a" />
<circle cx="50.41" cy="80.82" r="0.55" fill="#1a1a1a" />
<circle cx="53.56" cy="86.27" r="0.55" fill="#1a1a1a" />
<circle cx="55.76" cy="94.97" r="0.55" fill="#1a1a1a" />
<circle cx="57.21" cy="93.08" r="0.55" fill="#1a1a1a" />
<circle cx="53.78" cy="85.02" r="0.55" fill="#1a1a1a" />
<circle cx="136.14" cy="83.04" r="0.45" fill="#333" />
<circle cx="134.09" cy="84.84" r="0.45" fill="#333" />
<circle cx="132.37" cy="89.01" r="0.45" fill="#333" />
<circle cx="133.19" cy="85.94" r="0.45" fill="#333" />
<circle cx="136.34" cy="89.07" r="0.45" fill="#333" />
<circle cx="133.07" cy="84.80" r="0.45" fill="#333" />
<circle cx="133.64" cy="86.76" r="0.45" fill="#333" />
<circle cx="133.16" cy="86.42" r="0.45" fill="#333" />
<circle cx="137.12" cy="88.61" r="0.45" fill="#333" />
<circle cx="132.28" cy="86.89" r="0.45" fill="#333" />
<circle cx="134.48" cy="86.73" r="0.45" fill="#333" />
<circle cx="136.80" cy="85.26" r="0.45" fill="#333" />
<circle cx="136.90" cy="85.04" r="0.45" fill="#333" />
<circle cx="137.43" cy="87.14" r="0.45" fill="#333" />
<circle cx="131.24" cy="86.11" r="0.45" fill="#333" />
<circle cx="131.29" cy="86.04" r="0.45" fill="#333" />
<circle cx="133.33" cy="89.04" r="0.45" fill="#333" />
<circle cx="136.07" cy="84.26" r="0.45" fill="#333" />
<circle cx="134.44" cy="88.60" r="0.45" fill="#333" />
<circle cx="130.44" cy="87.72" r="0.45" fill="#333" />
<circle cx="137.07" cy="88.87" r="0.45" fill="#333" />
<circle cx="133.77" cy="84.45" r="0.45" fill="#333" />
<circle cx="62.60" cy="29.80" r="0.60" fill="#555" />
<circle cx="60.80" cy="37.30" r="0.60" fill="#555" />
<circle cx="48.30" cy="50.10" r="0.50" fill="#666" />
<circle cx="64.90" cy="51.30" r="0.50" fill="#666" />
</g>
<rect x="34.7" y="26.2" width="106.80" height="75.90" fill="none" stroke="#1a1a1a" stroke-width="1.15"/>
<line x1="31.8" y1="28.30" x2="34.7" y2="28.30" stroke="#1a1a1a" stroke-width="0.9"/>
<text x="29.00" y="30.60" font-size="6.4" text-anchor="end" fill="#333" font-weight="normal" stroke="#333" stroke-width="0.18" >12</text>
<line x1="31.8" y1="46.00" x2="34.7" y2="46.00" stroke="#1a1a1a" stroke-width="0.9"/>
<text x="29.00" y="48.30" font-size="6.4" text-anchor="end" fill="#333" font-weight="normal" stroke="#333" stroke-width="0.18" >8</text>
<line x1="31.8" y1="63.80" x2="34.7" y2="63.80" stroke="#1a1a1a" stroke-width="0.9"/>
<text x="29.00" y="66.10" font-size="6.4" text-anchor="end" fill="#333" font-weight="normal" stroke="#333" stroke-width="0.18" >6</text>
<line x1="31.8" y1="81.40" x2="34.7" y2="81.40" stroke="#1a1a1a" stroke-width="0.9"/>
<text x="29.00" y="83.70" font-size="6.4" text-anchor="end" fill="#333" font-weight="normal" stroke="#333" stroke-width="0.18" >4</text>
<line x1="31.8" y1="99.20" x2="34.7" y2="99.20" stroke="#1a1a1a" stroke-width="0.9"/>
<text x="29.00" y="101.50" font-size="6.4" text-anchor="end" fill="#333" font-weight="normal" stroke="#333" stroke-width="0.18" >0</text>
<line x1="38.2" y1="102.1" x2="38.2" y2="104.90" stroke="#1a1a1a" stroke-width="0.9"/>
<text x="37.60" y="113.80" font-size="7.1" text-anchor="middle" fill="#333" font-weight="normal" stroke="#333" stroke-width="0.18" >−10</text>
<line x1="63.0" y1="102.1" x2="63.0" y2="104.90" stroke="#1a1a1a" stroke-width="0.9"/>
<text x="62.40" y="113.80" font-size="7.1" text-anchor="middle" fill="#333" font-weight="normal" stroke="#333" stroke-width="0.18" >−5</text>
<line x1="87.8" y1="102.1" x2="87.8" y2="104.90" stroke="#1a1a1a" stroke-width="0.9"/>
<text x="87.80" y="113.80" font-size="7.1" text-anchor="middle" fill="#333" font-weight="normal" stroke="#333" stroke-width="0.18" >0</text>
<line x1="112.6" y1="102.1" x2="112.6" y2="104.90" stroke="#1a1a1a" stroke-width="0.9"/>
<text x="112.60" y="113.80" font-size="7.1" text-anchor="middle" fill="#333" font-weight="normal" stroke="#333" stroke-width="0.18" >5</text>
<line x1="137.4" y1="102.1" x2="137.4" y2="104.90" stroke="#1a1a1a" stroke-width="0.9"/>
<text x="137.40" y="113.80" font-size="7.1" text-anchor="middle" fill="#333" font-weight="normal" stroke="#333" stroke-width="0.18" >10</text>
<text x="64.8" y="125.40" font-size="8" fill="#222" stroke="#222" stroke-width="0.35" textLength="46.2" lengthAdjust="spacingAndGlyphs">Log<tspan font-size="5.5" dy="1.6">2</tspan><tspan dy="-1.6">(fold change)</tspan></text>
<text transform="translate(13.9,64.30) rotate(-90)" x="0" y="0" font-size="7" text-anchor="middle" fill="#222" stroke="#222" stroke-width="0.35" textLength="33.5" lengthAdjust="spacingAndGlyphs">-Log<tspan font-size="5" dy="1.4">10</tspan><tspan dy="-1.4">(FDR)</tspan></text>
<g clip-path="url(#clipV174)">
<path d="M60.0,256.5 L66.0,255.2 L72.0,254.8 L80.0,254.8 L84.0,255.5 L89.0,271.5 L80.0,270.8 L70.0,269.6 L62.0,267.5 L58.0,264.0 L57.0,260.0Z" fill="#0a0a0a"/>
<path d="M89.0,271.5 L93.3,256.0 L100.0,254.3 L108.0,254.3 L112.0,255.0 L116.0,258.5 L118.0,264.0 L110.0,268.6 L98.0,270.8Z" fill="#0a0a0a"/>
<circle cx="56.79" cy="257.65" r="0.60" fill="#0a0a0a" />
<circle cx="66.86" cy="254.54" r="0.60" fill="#0a0a0a" />
<circle cx="58.01" cy="257.11" r="0.60" fill="#0a0a0a" />
<circle cx="73.05" cy="256.04" r="0.60" fill="#0a0a0a" />
<circle cx="67.52" cy="252.10" r="0.60" fill="#0a0a0a" />
<circle cx="64.84" cy="253.21" r="0.60" fill="#0a0a0a" />
<circle cx="60.33" cy="255.81" r="0.60" fill="#0a0a0a" />
<circle cx="63.45" cy="254.03" r="0.60" fill="#0a0a0a" />
<circle cx="71.78" cy="255.10" r="0.60" fill="#0a0a0a" />
<circle cx="71.34" cy="252.57" r="0.60" fill="#0a0a0a" />
<circle cx="62.89" cy="253.60" r="0.60" fill="#0a0a0a" />
<circle cx="67.31" cy="254.40" r="0.60" fill="#0a0a0a" />
<circle cx="54.67" cy="260.07" r="0.60" fill="#0a0a0a" />
<circle cx="82.54" cy="254.21" r="0.60" fill="#0a0a0a" />
<circle cx="68.31" cy="249.42" r="0.60" fill="#0a0a0a" />
<circle cx="84.76" cy="254.49" r="0.60" fill="#0a0a0a" />
<circle cx="56.48" cy="256.97" r="0.60" fill="#0a0a0a" />
<circle cx="54.15" cy="260.34" r="0.60" fill="#0a0a0a" />
<circle cx="68.55" cy="256.93" r="0.60" fill="#0a0a0a" />
<circle cx="68.33" cy="251.52" r="0.60" fill="#0a0a0a" />
<circle cx="80.87" cy="254.99" r="0.60" fill="#0a0a0a" />
<circle cx="53.77" cy="258.82" r="0.60" fill="#0a0a0a" />
<circle cx="59.83" cy="254.70" r="0.60" fill="#0a0a0a" />
<circle cx="59.26" cy="254.72" r="0.60" fill="#0a0a0a" />
<circle cx="58.01" cy="254.84" r="0.60" fill="#0a0a0a" />
<circle cx="59.51" cy="256.52" r="0.60" fill="#0a0a0a" />
<circle cx="59.59" cy="255.03" r="0.60" fill="#0a0a0a" />
<circle cx="72.25" cy="253.18" r="0.60" fill="#0a0a0a" />
<circle cx="65.20" cy="256.06" r="0.60" fill="#0a0a0a" />
<circle cx="63.03" cy="252.76" r="0.60" fill="#0a0a0a" />
<circle cx="82.12" cy="253.38" r="0.60" fill="#0a0a0a" />
<circle cx="56.22" cy="255.02" r="0.60" fill="#0a0a0a" />
<circle cx="59.08" cy="259.25" r="0.60" fill="#0a0a0a" />
<circle cx="55.42" cy="257.05" r="0.60" fill="#0a0a0a" />
<circle cx="84.47" cy="255.24" r="0.60" fill="#0a0a0a" />
<circle cx="59.12" cy="253.27" r="0.60" fill="#0a0a0a" />
<circle cx="57.94" cy="257.34" r="0.60" fill="#0a0a0a" />
<circle cx="53.26" cy="256.80" r="0.60" fill="#0a0a0a" />
<circle cx="65.07" cy="252.09" r="0.60" fill="#0a0a0a" />
<circle cx="58.81" cy="255.23" r="0.60" fill="#0a0a0a" />
<circle cx="70.43" cy="252.39" r="0.60" fill="#0a0a0a" />
<circle cx="83.14" cy="255.24" r="0.60" fill="#0a0a0a" />
<circle cx="59.90" cy="254.31" r="0.60" fill="#0a0a0a" />
<circle cx="58.23" cy="253.80" r="0.60" fill="#0a0a0a" />
<circle cx="75.11" cy="254.01" r="0.60" fill="#0a0a0a" />
<circle cx="82.90" cy="256.37" r="0.60" fill="#0a0a0a" />
<circle cx="69.36" cy="255.46" r="0.60" fill="#0a0a0a" />
<circle cx="66.97" cy="251.72" r="0.60" fill="#0a0a0a" />
<circle cx="72.24" cy="249.31" r="0.60" fill="#0a0a0a" />
<circle cx="57.69" cy="253.64" r="0.60" fill="#0a0a0a" />
<circle cx="79.80" cy="255.21" r="0.60" fill="#0a0a0a" />
<circle cx="82.15" cy="252.84" r="0.60" fill="#0a0a0a" />
<circle cx="54.57" cy="255.27" r="0.60" fill="#0a0a0a" />
<circle cx="58.08" cy="254.30" r="0.60" fill="#0a0a0a" />
<circle cx="77.28" cy="251.62" r="0.60" fill="#0a0a0a" />
<circle cx="55.87" cy="254.35" r="0.60" fill="#0a0a0a" />
<circle cx="68.32" cy="254.15" r="0.60" fill="#0a0a0a" />
<circle cx="68.00" cy="252.64" r="0.60" fill="#0a0a0a" />
<circle cx="61.89" cy="254.52" r="0.60" fill="#0a0a0a" />
<circle cx="56.70" cy="256.68" r="0.60" fill="#0a0a0a" />
<circle cx="65.38" cy="255.23" r="0.60" fill="#0a0a0a" />
<circle cx="64.95" cy="254.22" r="0.60" fill="#0a0a0a" />
<circle cx="62.54" cy="257.49" r="0.60" fill="#0a0a0a" />
<circle cx="73.50" cy="253.02" r="0.60" fill="#0a0a0a" />
<circle cx="62.17" cy="255.94" r="0.60" fill="#0a0a0a" />
<circle cx="59.33" cy="256.41" r="0.60" fill="#0a0a0a" />
<circle cx="59.74" cy="253.91" r="0.60" fill="#0a0a0a" />
<circle cx="72.40" cy="257.12" r="0.60" fill="#0a0a0a" />
<circle cx="80.99" cy="252.31" r="0.60" fill="#0a0a0a" />
<circle cx="80.26" cy="252.46" r="0.60" fill="#0a0a0a" />
<circle cx="60.04" cy="253.90" r="0.60" fill="#0a0a0a" />
<circle cx="68.71" cy="253.51" r="0.60" fill="#0a0a0a" />
<circle cx="83.55" cy="256.24" r="0.60" fill="#0a0a0a" />
<circle cx="68.32" cy="255.12" r="0.60" fill="#0a0a0a" />
<circle cx="72.47" cy="255.06" r="0.60" fill="#0a0a0a" />
<circle cx="79.48" cy="252.56" r="0.60" fill="#0a0a0a" />
<circle cx="74.88" cy="253.00" r="0.60" fill="#0a0a0a" />
<circle cx="54.97" cy="258.40" r="0.60" fill="#0a0a0a" />
<circle cx="60.92" cy="254.37" r="0.60" fill="#0a0a0a" />
<circle cx="67.74" cy="254.23" r="0.60" fill="#0a0a0a" />
<circle cx="62.26" cy="252.98" r="0.60" fill="#0a0a0a" />
<circle cx="58.48" cy="258.37" r="0.60" fill="#0a0a0a" />
<circle cx="67.09" cy="257.31" r="0.60" fill="#0a0a0a" />
<circle cx="56.83" cy="257.34" r="0.60" fill="#0a0a0a" />
<circle cx="75.68" cy="253.05" r="0.60" fill="#0a0a0a" />
<circle cx="65.06" cy="252.15" r="0.60" fill="#0a0a0a" />
<circle cx="56.92" cy="257.52" r="0.60" fill="#0a0a0a" />
<circle cx="83.87" cy="254.49" r="0.60" fill="#0a0a0a" />
<circle cx="80.58" cy="253.95" r="0.60" fill="#0a0a0a" />
<circle cx="69.90" cy="251.67" r="0.60" fill="#0a0a0a" />
<circle cx="59.79" cy="254.16" r="0.60" fill="#0a0a0a" />
<circle cx="80.93" cy="253.82" r="0.60" fill="#0a0a0a" />
<circle cx="64.29" cy="257.35" r="0.60" fill="#0a0a0a" />
<circle cx="73.17" cy="257.61" r="0.60" fill="#0a0a0a" />
<circle cx="74.62" cy="253.99" r="0.60" fill="#0a0a0a" />
<circle cx="62.17" cy="256.89" r="0.60" fill="#0a0a0a" />
<circle cx="83.12" cy="254.30" r="0.60" fill="#0a0a0a" />
<circle cx="74.48" cy="252.17" r="0.60" fill="#0a0a0a" />
<circle cx="69.44" cy="255.16" r="0.60" fill="#0a0a0a" />
<circle cx="54.64" cy="256.58" r="0.60" fill="#0a0a0a" />
<circle cx="65.39" cy="258.23" r="0.60" fill="#0a0a0a" />
<circle cx="58.40" cy="257.92" r="0.60" fill="#0a0a0a" />
<circle cx="77.91" cy="248.77" r="0.60" fill="#0a0a0a" />
<circle cx="61.69" cy="254.45" r="0.60" fill="#0a0a0a" />
<circle cx="55.60" cy="259.60" r="0.60" fill="#0a0a0a" />
<circle cx="64.47" cy="254.10" r="0.60" fill="#0a0a0a" />
<circle cx="61.66" cy="257.49" r="0.60" fill="#0a0a0a" />
<circle cx="77.04" cy="252.68" r="0.60" fill="#0a0a0a" />
<circle cx="67.72" cy="253.48" r="0.60" fill="#0a0a0a" />
<circle cx="56.89" cy="254.16" r="0.60" fill="#0a0a0a" />
<circle cx="71.95" cy="249.96" r="0.60" fill="#0a0a0a" />
<circle cx="57.97" cy="252.82" r="0.60" fill="#0a0a0a" />
<circle cx="80.46" cy="253.81" r="0.60" fill="#0a0a0a" />
<circle cx="79.63" cy="255.53" r="0.60" fill="#0a0a0a" />
<circle cx="76.08" cy="254.05" r="0.60" fill="#0a0a0a" />
<circle cx="81.33" cy="253.53" r="0.60" fill="#0a0a0a" />
<circle cx="58.58" cy="257.54" r="0.60" fill="#0a0a0a" />
<circle cx="55.34" cy="257.19" r="0.60" fill="#0a0a0a" />
<circle cx="62.44" cy="255.17" r="0.60" fill="#0a0a0a" />
<circle cx="73.56" cy="254.21" r="0.60" fill="#0a0a0a" />
<circle cx="83.36" cy="254.18" r="0.60" fill="#0a0a0a" />
<circle cx="71.29" cy="256.25" r="0.60" fill="#0a0a0a" />
<circle cx="69.15" cy="253.26" r="0.60" fill="#0a0a0a" />
<circle cx="83.56" cy="257.53" r="0.60" fill="#0a0a0a" />
<circle cx="83.51" cy="254.29" r="0.60" fill="#0a0a0a" />
<circle cx="57.16" cy="258.49" r="0.60" fill="#0a0a0a" />
<circle cx="67.10" cy="252.75" r="0.60" fill="#0a0a0a" />
<circle cx="82.82" cy="255.57" r="0.60" fill="#0a0a0a" />
<circle cx="57.91" cy="256.16" r="0.60" fill="#0a0a0a" />
<circle cx="62.15" cy="254.58" r="0.60" fill="#0a0a0a" />
<circle cx="80.50" cy="251.32" r="0.60" fill="#0a0a0a" />
<circle cx="59.67" cy="257.38" r="0.60" fill="#0a0a0a" />
<circle cx="69.59" cy="255.71" r="0.60" fill="#0a0a0a" />
<circle cx="56.16" cy="260.64" r="0.60" fill="#0a0a0a" />
<circle cx="61.50" cy="258.04" r="0.60" fill="#0a0a0a" />
<circle cx="69.69" cy="252.32" r="0.60" fill="#0a0a0a" />
<circle cx="83.38" cy="254.30" r="0.60" fill="#0a0a0a" />
<circle cx="56.51" cy="253.92" r="0.60" fill="#0a0a0a" />
<circle cx="80.76" cy="254.35" r="0.60" fill="#0a0a0a" />
<circle cx="69.85" cy="254.07" r="0.60" fill="#0a0a0a" />
<circle cx="60.59" cy="255.20" r="0.60" fill="#0a0a0a" />
<circle cx="76.86" cy="256.57" r="0.60" fill="#0a0a0a" />
<circle cx="65.82" cy="254.82" r="0.60" fill="#0a0a0a" />
<circle cx="66.89" cy="254.26" r="0.60" fill="#0a0a0a" />
<circle cx="60.80" cy="254.46" r="0.60" fill="#0a0a0a" />
<circle cx="72.09" cy="253.85" r="0.60" fill="#0a0a0a" />
<circle cx="62.96" cy="253.04" r="0.60" fill="#0a0a0a" />
<circle cx="77.67" cy="252.10" r="0.60" fill="#0a0a0a" />
<circle cx="71.89" cy="253.57" r="0.60" fill="#0a0a0a" />
<circle cx="83.57" cy="254.26" r="0.60" fill="#0a0a0a" />
<circle cx="57.47" cy="258.73" r="0.60" fill="#0a0a0a" />
<circle cx="84.11" cy="252.52" r="0.60" fill="#0a0a0a" />
<circle cx="82.40" cy="254.19" r="0.60" fill="#0a0a0a" />
<circle cx="58.24" cy="257.78" r="0.60" fill="#0a0a0a" />
<circle cx="55.78" cy="255.36" r="0.60" fill="#0a0a0a" />
<circle cx="73.59" cy="251.91" r="0.60" fill="#0a0a0a" />
<circle cx="76.46" cy="251.91" r="0.60" fill="#0a0a0a" />
<circle cx="70.77" cy="250.20" r="0.60" fill="#0a0a0a" />
<circle cx="59.25" cy="255.71" r="0.60" fill="#0a0a0a" />
<circle cx="81.48" cy="251.85" r="0.60" fill="#0a0a0a" />
<circle cx="57.32" cy="252.91" r="0.60" fill="#0a0a0a" />
<circle cx="55.92" cy="254.20" r="0.60" fill="#0a0a0a" />
<circle cx="55.42" cy="257.54" r="0.60" fill="#0a0a0a" />
<circle cx="54.72" cy="259.33" r="0.60" fill="#0a0a0a" />
<circle cx="62.08" cy="255.54" r="0.60" fill="#0a0a0a" />
<circle cx="83.64" cy="255.09" r="0.60" fill="#0a0a0a" />
<circle cx="57.22" cy="256.65" r="0.60" fill="#0a0a0a" />
<circle cx="54.92" cy="257.32" r="0.60" fill="#0a0a0a" />
<circle cx="79.29" cy="253.15" r="0.60" fill="#0a0a0a" />
<circle cx="80.73" cy="253.28" r="0.60" fill="#0a0a0a" />
<circle cx="83.48" cy="255.03" r="0.60" fill="#0a0a0a" />
<circle cx="82.48" cy="252.91" r="0.60" fill="#0a0a0a" />
<circle cx="55.98" cy="255.55" r="0.60" fill="#0a0a0a" />
<circle cx="56.37" cy="258.57" r="0.60" fill="#0a0a0a" />
<circle cx="82.85" cy="254.12" r="0.60" fill="#0a0a0a" />
<circle cx="61.78" cy="254.70" r="0.60" fill="#0a0a0a" />
<circle cx="55.97" cy="258.07" r="0.60" fill="#0a0a0a" />
<circle cx="61.61" cy="253.97" r="0.60" fill="#0a0a0a" />
<circle cx="63.95" cy="255.79" r="0.60" fill="#0a0a0a" />
<circle cx="77.42" cy="252.86" r="0.60" fill="#0a0a0a" />
<circle cx="55.48" cy="259.58" r="0.60" fill="#0a0a0a" />
<circle cx="79.13" cy="257.16" r="0.60" fill="#0a0a0a" />
<circle cx="82.63" cy="256.93" r="0.60" fill="#0a0a0a" />
<circle cx="58.31" cy="253.55" r="0.60" fill="#0a0a0a" />
<circle cx="57.84" cy="260.29" r="0.60" fill="#0a0a0a" />
<circle cx="55.53" cy="257.70" r="0.60" fill="#0a0a0a" />
<circle cx="58.78" cy="257.38" r="0.60" fill="#0a0a0a" />
<circle cx="65.31" cy="255.13" r="0.60" fill="#0a0a0a" />
<circle cx="78.96" cy="247.78" r="0.60" fill="#0a0a0a" />
<circle cx="64.19" cy="256.29" r="0.60" fill="#0a0a0a" />
<circle cx="54.64" cy="257.47" r="0.60" fill="#0a0a0a" />
<circle cx="62.09" cy="253.03" r="0.60" fill="#0a0a0a" />
<circle cx="67.99" cy="253.52" r="0.60" fill="#0a0a0a" />
<circle cx="65.25" cy="254.70" r="0.60" fill="#0a0a0a" />
<circle cx="58.38" cy="258.19" r="0.60" fill="#0a0a0a" />
<circle cx="82.59" cy="251.10" r="0.60" fill="#0a0a0a" />
<circle cx="83.10" cy="253.58" r="0.60" fill="#0a0a0a" />
<circle cx="58.93" cy="251.51" r="0.60" fill="#0a0a0a" />
<circle cx="66.88" cy="257.36" r="0.60" fill="#0a0a0a" />
<circle cx="81.28" cy="250.72" r="0.60" fill="#0a0a0a" />
<circle cx="68.03" cy="255.29" r="0.60" fill="#0a0a0a" />
<circle cx="55.13" cy="256.59" r="0.60" fill="#0a0a0a" />
<circle cx="83.19" cy="251.88" r="0.60" fill="#0a0a0a" />
<circle cx="56.16" cy="255.60" r="0.60" fill="#0a0a0a" />
<circle cx="56.61" cy="256.64" r="0.60" fill="#0a0a0a" />
<circle cx="55.28" cy="260.09" r="0.60" fill="#0a0a0a" />
<circle cx="82.55" cy="257.14" r="0.60" fill="#0a0a0a" />
<circle cx="61.57" cy="256.65" r="0.60" fill="#0a0a0a" />
<circle cx="59.73" cy="254.45" r="0.60" fill="#0a0a0a" />
<circle cx="73.52" cy="252.96" r="0.60" fill="#0a0a0a" />
<circle cx="58.62" cy="257.64" r="0.60" fill="#0a0a0a" />
<circle cx="64.74" cy="254.30" r="0.60" fill="#0a0a0a" />
<circle cx="54.06" cy="256.29" r="0.60" fill="#0a0a0a" />
<circle cx="63.67" cy="255.03" r="0.60" fill="#0a0a0a" />
<circle cx="54.93" cy="255.73" r="0.60" fill="#0a0a0a" />
<circle cx="58.07" cy="257.42" r="0.60" fill="#0a0a0a" />
<circle cx="61.13" cy="256.57" r="0.60" fill="#0a0a0a" />
<circle cx="58.70" cy="254.31" r="0.60" fill="#0a0a0a" />
<circle cx="62.49" cy="250.86" r="0.60" fill="#0a0a0a" />
<circle cx="58.14" cy="257.89" r="0.60" fill="#0a0a0a" />
<circle cx="61.62" cy="252.81" r="0.60" fill="#0a0a0a" />
<circle cx="64.42" cy="253.29" r="0.60" fill="#0a0a0a" />
<circle cx="53.42" cy="255.59" r="0.60" fill="#0a0a0a" />
<circle cx="58.22" cy="255.97" r="0.60" fill="#0a0a0a" />
<circle cx="55.75" cy="256.76" r="0.60" fill="#0a0a0a" />
<circle cx="57.49" cy="255.51" r="0.60" fill="#0a0a0a" />
<circle cx="74.62" cy="253.88" r="0.60" fill="#0a0a0a" />
<circle cx="65.60" cy="255.87" r="0.60" fill="#0a0a0a" />
<circle cx="54.51" cy="262.04" r="0.60" fill="#0a0a0a" />
<circle cx="84.28" cy="253.69" r="0.60" fill="#0a0a0a" />
<circle cx="72.02" cy="252.62" r="0.60" fill="#0a0a0a" />
<circle cx="59.39" cy="255.10" r="0.60" fill="#0a0a0a" />
<circle cx="54.16" cy="263.27" r="0.60" fill="#0a0a0a" />
<circle cx="78.83" cy="255.93" r="0.60" fill="#0a0a0a" />
<circle cx="62.51" cy="257.87" r="0.60" fill="#0a0a0a" />
<circle cx="55.39" cy="258.41" r="0.60" fill="#0a0a0a" />
<circle cx="59.02" cy="252.61" r="0.60" fill="#0a0a0a" />
<circle cx="56.50" cy="256.60" r="0.60" fill="#0a0a0a" />
<circle cx="60.87" cy="253.90" r="0.60" fill="#0a0a0a" />
<circle cx="63.80" cy="249.80" r="0.60" fill="#0a0a0a" />
<circle cx="56.27" cy="259.62" r="0.60" fill="#0a0a0a" />
<circle cx="61.68" cy="255.17" r="0.60" fill="#0a0a0a" />
<circle cx="56.18" cy="256.33" r="0.60" fill="#0a0a0a" />
<circle cx="61.12" cy="256.38" r="0.60" fill="#0a0a0a" />
<circle cx="60.77" cy="256.33" r="0.60" fill="#0a0a0a" />
<circle cx="55.15" cy="257.99" r="0.60" fill="#0a0a0a" />
<circle cx="66.98" cy="253.25" r="0.60" fill="#0a0a0a" />
<circle cx="60.80" cy="258.77" r="0.60" fill="#0a0a0a" />
<circle cx="59.38" cy="253.98" r="0.60" fill="#0a0a0a" />
<circle cx="62.62" cy="256.32" r="0.60" fill="#0a0a0a" />
<circle cx="56.35" cy="255.83" r="0.60" fill="#0a0a0a" />
<circle cx="55.03" cy="256.01" r="0.60" fill="#0a0a0a" />
<circle cx="75.52" cy="252.27" r="0.60" fill="#0a0a0a" />
<circle cx="60.12" cy="257.21" r="0.60" fill="#0a0a0a" />
<circle cx="62.46" cy="255.82" r="0.60" fill="#0a0a0a" />
<circle cx="54.38" cy="258.88" r="0.60" fill="#0a0a0a" />
<circle cx="77.88" cy="255.86" r="0.60" fill="#0a0a0a" />
<circle cx="62.05" cy="254.29" r="0.60" fill="#0a0a0a" />
<circle cx="69.59" cy="254.93" r="0.60" fill="#0a0a0a" />
<circle cx="58.83" cy="257.72" r="0.60" fill="#0a0a0a" />
<circle cx="60.62" cy="255.88" r="0.60" fill="#0a0a0a" />
<circle cx="67.91" cy="251.72" r="0.60" fill="#0a0a0a" />
<circle cx="54.80" cy="257.67" r="0.60" fill="#0a0a0a" />
<circle cx="69.70" cy="253.29" r="0.60" fill="#0a0a0a" />
<circle cx="56.35" cy="259.19" r="0.60" fill="#0a0a0a" />
<circle cx="65.44" cy="256.48" r="0.60" fill="#0a0a0a" />
<circle cx="68.60" cy="255.29" r="0.60" fill="#0a0a0a" />
<circle cx="82.90" cy="255.48" r="0.60" fill="#0a0a0a" />
<circle cx="55.05" cy="260.52" r="0.60" fill="#0a0a0a" />
<circle cx="58.90" cy="260.06" r="0.60" fill="#0a0a0a" />
<circle cx="71.87" cy="253.02" r="0.60" fill="#0a0a0a" />
<circle cx="80.09" cy="252.36" r="0.60" fill="#0a0a0a" />
<circle cx="64.28" cy="254.19" r="0.60" fill="#0a0a0a" />
<circle cx="60.84" cy="254.36" r="0.60" fill="#0a0a0a" />
<circle cx="79.85" cy="254.47" r="0.60" fill="#0a0a0a" />
<circle cx="55.19" cy="258.10" r="0.60" fill="#0a0a0a" />
<circle cx="81.18" cy="251.43" r="0.60" fill="#0a0a0a" />
<circle cx="60.83" cy="251.97" r="0.60" fill="#0a0a0a" />
<circle cx="60.41" cy="257.30" r="0.60" fill="#0a0a0a" />
<circle cx="67.97" cy="251.45" r="0.60" fill="#0a0a0a" />
<circle cx="84.32" cy="257.19" r="0.60" fill="#0a0a0a" />
<circle cx="67.34" cy="254.48" r="0.60" fill="#0a0a0a" />
<circle cx="79.25" cy="251.36" r="0.60" fill="#0a0a0a" />
<circle cx="60.91" cy="253.49" r="0.60" fill="#0a0a0a" />
<circle cx="81.16" cy="253.50" r="0.60" fill="#0a0a0a" />
<circle cx="58.35" cy="257.11" r="0.60" fill="#0a0a0a" />
<circle cx="58.49" cy="249.87" r="0.60" fill="#0a0a0a" />
<circle cx="54.39" cy="259.35" r="0.60" fill="#0a0a0a" />
<circle cx="58.10" cy="257.87" r="0.60" fill="#0a0a0a" />
<circle cx="64.31" cy="250.13" r="0.60" fill="#0a0a0a" />
<circle cx="62.85" cy="255.04" r="0.60" fill="#0a0a0a" />
<circle cx="56.29" cy="260.55" r="0.60" fill="#0a0a0a" />
<circle cx="61.07" cy="253.00" r="0.60" fill="#0a0a0a" />
<circle cx="69.50" cy="249.75" r="0.60" fill="#0a0a0a" />
<circle cx="57.45" cy="254.97" r="0.60" fill="#0a0a0a" />
<circle cx="67.92" cy="257.33" r="0.60" fill="#0a0a0a" />
<circle cx="70.50" cy="252.80" r="0.60" fill="#0a0a0a" />
<circle cx="78.19" cy="251.86" r="0.60" fill="#0a0a0a" />
<circle cx="56.46" cy="256.90" r="0.60" fill="#0a0a0a" />
<circle cx="54.44" cy="257.95" r="0.60" fill="#0a0a0a" />
<circle cx="113.92" cy="256.44" r="0.60" fill="#0a0a0a" />
<circle cx="118.37" cy="259.50" r="0.60" fill="#0a0a0a" />
<circle cx="94.65" cy="256.43" r="0.60" fill="#0a0a0a" />
<circle cx="115.90" cy="254.87" r="0.60" fill="#0a0a0a" />
<circle cx="113.32" cy="252.86" r="0.60" fill="#0a0a0a" />
<circle cx="95.17" cy="249.95" r="0.60" fill="#0a0a0a" />
<circle cx="109.31" cy="252.65" r="0.60" fill="#0a0a0a" />
<circle cx="117.60" cy="260.60" r="0.60" fill="#0a0a0a" />
<circle cx="102.70" cy="250.79" r="0.60" fill="#0a0a0a" />
<circle cx="112.52" cy="256.77" r="0.60" fill="#0a0a0a" />
<circle cx="118.82" cy="260.13" r="0.60" fill="#0a0a0a" />
<circle cx="112.12" cy="253.75" r="0.60" fill="#0a0a0a" />
<circle cx="116.07" cy="256.50" r="0.60" fill="#0a0a0a" />
<circle cx="117.18" cy="260.40" r="0.60" fill="#0a0a0a" />
<circle cx="115.48" cy="257.77" r="0.60" fill="#0a0a0a" />
<circle cx="111.79" cy="254.47" r="0.60" fill="#0a0a0a" />
<circle cx="109.87" cy="248.91" r="0.60" fill="#0a0a0a" />
<circle cx="116.24" cy="258.37" r="0.60" fill="#0a0a0a" />
<circle cx="111.99" cy="250.81" r="0.60" fill="#0a0a0a" />
<circle cx="110.87" cy="253.96" r="0.60" fill="#0a0a0a" />
<circle cx="98.14" cy="252.42" r="0.60" fill="#0a0a0a" />
<circle cx="104.03" cy="250.84" r="0.60" fill="#0a0a0a" />
<circle cx="118.02" cy="261.44" r="0.60" fill="#0a0a0a" />
<circle cx="115.41" cy="256.99" r="0.60" fill="#0a0a0a" />
<circle cx="98.31" cy="253.32" r="0.60" fill="#0a0a0a" />
<circle cx="95.09" cy="249.40" r="0.60" fill="#0a0a0a" />
<circle cx="115.94" cy="254.42" r="0.60" fill="#0a0a0a" />
<circle cx="111.37" cy="254.09" r="0.60" fill="#0a0a0a" />
<circle cx="106.79" cy="251.32" r="0.60" fill="#0a0a0a" />
<circle cx="117.86" cy="260.57" r="0.60" fill="#0a0a0a" />
<circle cx="115.52" cy="251.20" r="0.60" fill="#0a0a0a" />
<circle cx="118.42" cy="261.85" r="0.60" fill="#0a0a0a" />
<circle cx="111.27" cy="252.61" r="0.60" fill="#0a0a0a" />
<circle cx="99.01" cy="252.57" r="0.60" fill="#0a0a0a" />
<circle cx="112.62" cy="250.19" r="0.60" fill="#0a0a0a" />
<circle cx="108.46" cy="256.49" r="0.60" fill="#0a0a0a" />
<circle cx="108.92" cy="251.45" r="0.60" fill="#0a0a0a" />
<circle cx="108.80" cy="256.95" r="0.60" fill="#0a0a0a" />
<circle cx="116.15" cy="253.58" r="0.60" fill="#0a0a0a" />
<circle cx="106.37" cy="251.98" r="0.60" fill="#0a0a0a" />
<circle cx="106.27" cy="251.09" r="0.60" fill="#0a0a0a" />
<circle cx="110.13" cy="251.98" r="0.60" fill="#0a0a0a" />
<circle cx="118.65" cy="260.69" r="0.60" fill="#0a0a0a" />
<circle cx="107.10" cy="251.74" r="0.60" fill="#0a0a0a" />
<circle cx="120.17" cy="262.12" r="0.60" fill="#0a0a0a" />
<circle cx="120.30" cy="262.13" r="0.60" fill="#0a0a0a" />
<circle cx="116.51" cy="255.22" r="0.60" fill="#0a0a0a" />
<circle cx="110.17" cy="253.25" r="0.60" fill="#0a0a0a" />
<circle cx="100.13" cy="252.95" r="0.60" fill="#0a0a0a" />
<circle cx="117.14" cy="256.08" r="0.60" fill="#0a0a0a" />
<circle cx="115.22" cy="257.85" r="0.60" fill="#0a0a0a" />
<circle cx="113.10" cy="251.45" r="0.60" fill="#0a0a0a" />
<circle cx="113.42" cy="257.78" r="0.60" fill="#0a0a0a" />
<circle cx="111.70" cy="254.72" r="0.60" fill="#0a0a0a" />
<circle cx="117.05" cy="257.51" r="0.60" fill="#0a0a0a" />
<circle cx="101.17" cy="253.95" r="0.60" fill="#0a0a0a" />
<circle cx="96.95" cy="252.09" r="0.60" fill="#0a0a0a" />
<circle cx="117.91" cy="257.52" r="0.60" fill="#0a0a0a" />
<circle cx="94.45" cy="256.05" r="0.60" fill="#0a0a0a" />
<circle cx="108.80" cy="249.98" r="0.60" fill="#0a0a0a" />
<circle cx="96.78" cy="249.48" r="0.60" fill="#0a0a0a" />
<circle cx="113.42" cy="253.45" r="0.60" fill="#0a0a0a" />
<circle cx="113.58" cy="255.90" r="0.60" fill="#0a0a0a" />
<circle cx="103.93" cy="252.20" r="0.60" fill="#0a0a0a" />
<circle cx="103.75" cy="255.12" r="0.60" fill="#0a0a0a" />
<circle cx="102.32" cy="251.15" r="0.60" fill="#0a0a0a" />
<circle cx="97.97" cy="256.16" r="0.60" fill="#0a0a0a" />
<circle cx="105.31" cy="250.23" r="0.60" fill="#0a0a0a" />
<circle cx="105.02" cy="251.45" r="0.60" fill="#0a0a0a" />
<circle cx="101.04" cy="252.69" r="0.60" fill="#0a0a0a" />
<circle cx="104.78" cy="254.10" r="0.60" fill="#0a0a0a" />
<circle cx="113.68" cy="253.78" r="0.60" fill="#0a0a0a" />
<circle cx="99.11" cy="252.11" r="0.60" fill="#0a0a0a" />
<circle cx="104.48" cy="256.19" r="0.60" fill="#0a0a0a" />
<circle cx="105.27" cy="251.74" r="0.60" fill="#0a0a0a" />
<circle cx="119.49" cy="262.75" r="0.60" fill="#0a0a0a" />
<circle cx="118.56" cy="265.04" r="0.60" fill="#0a0a0a" />
<circle cx="117.94" cy="256.57" r="0.60" fill="#0a0a0a" />
<circle cx="99.97" cy="251.16" r="0.60" fill="#0a0a0a" />
<circle cx="112.46" cy="254.71" r="0.60" fill="#0a0a0a" />
<circle cx="117.90" cy="257.52" r="0.60" fill="#0a0a0a" />
<circle cx="102.33" cy="251.13" r="0.60" fill="#0a0a0a" />
<circle cx="114.51" cy="255.76" r="0.60" fill="#0a0a0a" />
<circle cx="94.08" cy="253.24" r="0.60" fill="#0a0a0a" />
<circle cx="108.06" cy="252.96" r="0.60" fill="#0a0a0a" />
<circle cx="119.07" cy="259.15" r="0.60" fill="#0a0a0a" />
<circle cx="102.83" cy="252.37" r="0.60" fill="#0a0a0a" />
<circle cx="99.96" cy="247.52" r="0.60" fill="#0a0a0a" />
<circle cx="113.33" cy="252.05" r="0.60" fill="#0a0a0a" />
<circle cx="114.10" cy="256.58" r="0.60" fill="#0a0a0a" />
<circle cx="117.77" cy="254.42" r="0.60" fill="#0a0a0a" />
<circle cx="110.26" cy="250.08" r="0.60" fill="#0a0a0a" />
<circle cx="116.12" cy="258.09" r="0.60" fill="#0a0a0a" />
<circle cx="100.14" cy="254.09" r="0.60" fill="#0a0a0a" />
<circle cx="115.15" cy="254.66" r="0.60" fill="#0a0a0a" />
<circle cx="112.57" cy="255.41" r="0.60" fill="#0a0a0a" />
<circle cx="103.42" cy="255.77" r="0.60" fill="#0a0a0a" />
<circle cx="97.81" cy="251.05" r="0.60" fill="#0a0a0a" />
<circle cx="110.40" cy="251.73" r="0.60" fill="#0a0a0a" />
<circle cx="118.12" cy="265.95" r="0.60" fill="#0a0a0a" />
<circle cx="94.83" cy="255.29" r="0.60" fill="#0a0a0a" />
<circle cx="108.18" cy="251.81" r="0.60" fill="#0a0a0a" />
<circle cx="117.54" cy="256.03" r="0.60" fill="#0a0a0a" />
<circle cx="113.58" cy="253.67" r="0.60" fill="#0a0a0a" />
<circle cx="101.64" cy="251.40" r="0.60" fill="#0a0a0a" />
<circle cx="109.73" cy="253.28" r="0.60" fill="#0a0a0a" />
<circle cx="97.94" cy="251.16" r="0.60" fill="#0a0a0a" />
<circle cx="99.43" cy="255.91" r="0.60" fill="#0a0a0a" />
<circle cx="98.86" cy="251.35" r="0.60" fill="#0a0a0a" />
<circle cx="97.46" cy="251.84" r="0.60" fill="#0a0a0a" />
<circle cx="108.08" cy="252.66" r="0.60" fill="#0a0a0a" />
<circle cx="93.18" cy="256.66" r="0.60" fill="#0a0a0a" />
<circle cx="101.16" cy="253.58" r="0.60" fill="#0a0a0a" />
<circle cx="118.39" cy="258.67" r="0.60" fill="#0a0a0a" />
<circle cx="99.13" cy="253.33" r="0.60" fill="#0a0a0a" />
<circle cx="110.05" cy="252.99" r="0.60" fill="#0a0a0a" />
<circle cx="102.44" cy="250.28" r="0.60" fill="#0a0a0a" />
<circle cx="95.15" cy="250.31" r="0.60" fill="#0a0a0a" />
<circle cx="115.29" cy="255.19" r="0.60" fill="#0a0a0a" />
<circle cx="115.94" cy="255.51" r="0.60" fill="#0a0a0a" />
<circle cx="115.20" cy="255.79" r="0.60" fill="#0a0a0a" />
<circle cx="117.07" cy="260.16" r="0.60" fill="#0a0a0a" />
<circle cx="106.96" cy="252.60" r="0.60" fill="#0a0a0a" />
<circle cx="119.77" cy="261.06" r="0.60" fill="#0a0a0a" />
<circle cx="104.45" cy="250.47" r="0.60" fill="#0a0a0a" />
<circle cx="117.82" cy="255.65" r="0.60" fill="#0a0a0a" />
<circle cx="113.40" cy="259.31" r="0.60" fill="#0a0a0a" />
<circle cx="106.69" cy="248.89" r="0.60" fill="#0a0a0a" />
<circle cx="118.16" cy="264.19" r="0.60" fill="#0a0a0a" />
<circle cx="111.46" cy="255.53" r="0.60" fill="#0a0a0a" />
<circle cx="117.94" cy="264.40" r="0.60" fill="#0a0a0a" />
<circle cx="96.82" cy="252.72" r="0.60" fill="#0a0a0a" />
<circle cx="114.48" cy="254.22" r="0.60" fill="#0a0a0a" />
<circle cx="118.25" cy="259.87" r="0.60" fill="#0a0a0a" />
<circle cx="119.46" cy="262.63" r="0.60" fill="#0a0a0a" />
<circle cx="95.92" cy="254.73" r="0.60" fill="#0a0a0a" />
<circle cx="107.68" cy="253.19" r="0.60" fill="#0a0a0a" />
<circle cx="96.61" cy="251.89" r="0.60" fill="#0a0a0a" />
<circle cx="108.15" cy="256.04" r="0.60" fill="#0a0a0a" />
<circle cx="118.56" cy="264.14" r="0.60" fill="#0a0a0a" />
<circle cx="110.81" cy="251.42" r="0.60" fill="#0a0a0a" />
<circle cx="118.29" cy="257.95" r="0.60" fill="#0a0a0a" />
<circle cx="109.26" cy="252.37" r="0.60" fill="#0a0a0a" />
<circle cx="103.75" cy="249.32" r="0.60" fill="#0a0a0a" />
<circle cx="112.97" cy="253.79" r="0.60" fill="#0a0a0a" />
<circle cx="94.46" cy="249.87" r="0.60" fill="#0a0a0a" />
<circle cx="102.47" cy="253.12" r="0.60" fill="#0a0a0a" />
<circle cx="110.18" cy="252.32" r="0.60" fill="#0a0a0a" />
<circle cx="105.22" cy="249.62" r="0.60" fill="#0a0a0a" />
<circle cx="118.54" cy="262.30" r="0.60" fill="#0a0a0a" />
<circle cx="103.93" cy="251.02" r="0.60" fill="#0a0a0a" />
<circle cx="95.85" cy="252.14" r="0.60" fill="#0a0a0a" />
<circle cx="96.06" cy="252.25" r="0.60" fill="#0a0a0a" />
<circle cx="113.07" cy="255.37" r="0.60" fill="#0a0a0a" />
<circle cx="111.39" cy="251.73" r="0.60" fill="#0a0a0a" />
<circle cx="114.40" cy="254.94" r="0.60" fill="#0a0a0a" />
<circle cx="108.39" cy="250.33" r="0.60" fill="#0a0a0a" />
<circle cx="118.03" cy="254.43" r="0.60" fill="#0a0a0a" />
<circle cx="114.89" cy="257.13" r="0.60" fill="#0a0a0a" />
<circle cx="118.95" cy="259.70" r="0.60" fill="#0a0a0a" />
<circle cx="111.06" cy="257.13" r="0.60" fill="#0a0a0a" />
<circle cx="103.84" cy="254.25" r="0.60" fill="#0a0a0a" />
<circle cx="118.29" cy="260.73" r="0.60" fill="#0a0a0a" />
<circle cx="104.52" cy="251.91" r="0.60" fill="#0a0a0a" />
<circle cx="111.97" cy="252.09" r="0.60" fill="#0a0a0a" />
<circle cx="110.88" cy="252.41" r="0.60" fill="#0a0a0a" />
<circle cx="102.35" cy="251.47" r="0.60" fill="#0a0a0a" />
<circle cx="104.96" cy="251.42" r="0.60" fill="#0a0a0a" />
<circle cx="104.69" cy="254.79" r="0.60" fill="#0a0a0a" />
<circle cx="98.43" cy="253.83" r="0.60" fill="#0a0a0a" />
<circle cx="113.84" cy="253.28" r="0.60" fill="#0a0a0a" />
<circle cx="95.57" cy="253.47" r="0.60" fill="#0a0a0a" />
<circle cx="109.47" cy="252.70" r="0.60" fill="#0a0a0a" />
<circle cx="114.16" cy="252.33" r="0.60" fill="#0a0a0a" />
<circle cx="100.25" cy="253.70" r="0.60" fill="#0a0a0a" />
<circle cx="101.39" cy="251.85" r="0.60" fill="#0a0a0a" />
<circle cx="119.03" cy="260.98" r="0.60" fill="#0a0a0a" />
<circle cx="95.03" cy="248.96" r="0.60" fill="#0a0a0a" />
<circle cx="99.64" cy="251.25" r="0.60" fill="#0a0a0a" />
<circle cx="113.41" cy="250.56" r="0.60" fill="#0a0a0a" />
<circle cx="99.13" cy="250.47" r="0.60" fill="#0a0a0a" />
<circle cx="102.69" cy="253.30" r="0.60" fill="#0a0a0a" />
<circle cx="109.57" cy="253.67" r="0.60" fill="#0a0a0a" />
<circle cx="101.00" cy="251.51" r="0.60" fill="#0a0a0a" />
<circle cx="109.60" cy="251.85" r="0.60" fill="#0a0a0a" />
<circle cx="114.85" cy="251.90" r="0.60" fill="#0a0a0a" />
<circle cx="103.49" cy="255.85" r="0.60" fill="#0a0a0a" />
<circle cx="106.30" cy="255.19" r="0.60" fill="#0a0a0a" />
<circle cx="114.53" cy="256.54" r="0.60" fill="#0a0a0a" />
<circle cx="94.21" cy="250.34" r="0.60" fill="#0a0a0a" />
<circle cx="116.97" cy="257.51" r="0.60" fill="#0a0a0a" />
<circle cx="101.50" cy="255.94" r="0.60" fill="#0a0a0a" />
<circle cx="96.88" cy="255.09" r="0.60" fill="#0a0a0a" />
<circle cx="97.38" cy="252.65" r="0.60" fill="#0a0a0a" />
<circle cx="99.69" cy="254.42" r="0.60" fill="#0a0a0a" />
<circle cx="97.66" cy="253.46" r="0.60" fill="#0a0a0a" />
<circle cx="98.04" cy="253.05" r="0.60" fill="#0a0a0a" />
<circle cx="106.71" cy="250.91" r="0.60" fill="#0a0a0a" />
<circle cx="96.73" cy="255.47" r="0.60" fill="#0a0a0a" />
<circle cx="104.67" cy="255.09" r="0.60" fill="#0a0a0a" />
<circle cx="113.47" cy="254.83" r="0.60" fill="#0a0a0a" />
<circle cx="113.15" cy="255.50" r="0.60" fill="#0a0a0a" />
<circle cx="102.62" cy="252.13" r="0.60" fill="#0a0a0a" />
<circle cx="109.55" cy="255.80" r="0.60" fill="#0a0a0a" />
<circle cx="98.97" cy="254.43" r="0.60" fill="#0a0a0a" />
<circle cx="95.42" cy="254.84" r="0.60" fill="#0a0a0a" />
<circle cx="113.36" cy="254.81" r="0.60" fill="#0a0a0a" />
<circle cx="115.49" cy="257.04" r="0.60" fill="#0a0a0a" />
<circle cx="118.54" cy="266.35" r="0.60" fill="#0a0a0a" />
<circle cx="114.29" cy="254.82" r="0.60" fill="#0a0a0a" />
<circle cx="96.10" cy="250.37" r="0.60" fill="#0a0a0a" />
<circle cx="98.71" cy="252.05" r="0.60" fill="#0a0a0a" />
<circle cx="109.55" cy="257.53" r="0.60" fill="#0a0a0a" />
<circle cx="109.48" cy="251.05" r="0.60" fill="#0a0a0a" />
<circle cx="108.34" cy="253.14" r="0.60" fill="#0a0a0a" />
<circle cx="100.49" cy="248.54" r="0.60" fill="#0a0a0a" />
<circle cx="105.25" cy="253.50" r="0.60" fill="#0a0a0a" />
<circle cx="113.45" cy="254.96" r="0.60" fill="#0a0a0a" />
<circle cx="108.05" cy="255.09" r="0.60" fill="#0a0a0a" />
<circle cx="117.37" cy="259.41" r="0.60" fill="#0a0a0a" />
<circle cx="118.13" cy="261.45" r="0.60" fill="#0a0a0a" />
<circle cx="108.01" cy="254.65" r="0.60" fill="#0a0a0a" />
<circle cx="104.73" cy="251.62" r="0.60" fill="#0a0a0a" />
<circle cx="95.96" cy="252.27" r="0.60" fill="#0a0a0a" />
<circle cx="118.56" cy="260.67" r="0.60" fill="#0a0a0a" />
<circle cx="115.52" cy="256.07" r="0.60" fill="#0a0a0a" />
<circle cx="117.72" cy="259.80" r="0.60" fill="#0a0a0a" />
<circle cx="97.53" cy="253.13" r="0.60" fill="#0a0a0a" />
<circle cx="106.65" cy="250.11" r="0.60" fill="#0a0a0a" />
<circle cx="114.48" cy="251.51" r="0.60" fill="#0a0a0a" />
<circle cx="107.45" cy="252.28" r="0.60" fill="#0a0a0a" />
<circle cx="110.95" cy="251.64" r="0.60" fill="#0a0a0a" />
<circle cx="95.00" cy="254.64" r="0.60" fill="#0a0a0a" />
<circle cx="117.31" cy="255.58" r="0.60" fill="#0a0a0a" />
<circle cx="101.47" cy="253.05" r="0.60" fill="#0a0a0a" />
<circle cx="103.47" cy="253.66" r="0.60" fill="#0a0a0a" />
<circle cx="113.67" cy="254.99" r="0.60" fill="#0a0a0a" />
<circle cx="115.69" cy="257.32" r="0.60" fill="#0a0a0a" />
<circle cx="107.97" cy="250.20" r="0.60" fill="#0a0a0a" />
<circle cx="110.79" cy="250.94" r="0.60" fill="#0a0a0a" />
<circle cx="108.31" cy="253.13" r="0.60" fill="#0a0a0a" />
<circle cx="113.88" cy="252.25" r="0.60" fill="#0a0a0a" />
<circle cx="94.09" cy="256.20" r="0.60" fill="#0a0a0a" />
<circle cx="120.27" cy="262.76" r="0.60" fill="#0a0a0a" />
<circle cx="103.80" cy="252.63" r="0.60" fill="#0a0a0a" />
<circle cx="109.19" cy="250.30" r="0.60" fill="#0a0a0a" />
<circle cx="100.74" cy="251.25" r="0.60" fill="#0a0a0a" />
<circle cx="102.83" cy="256.24" r="0.60" fill="#0a0a0a" />
<circle cx="100.97" cy="251.15" r="0.60" fill="#0a0a0a" />
<circle cx="107.74" cy="251.57" r="0.60" fill="#0a0a0a" />
<circle cx="116.65" cy="257.90" r="0.60" fill="#0a0a0a" />
<circle cx="113.59" cy="255.54" r="0.60" fill="#0a0a0a" />
<circle cx="101.52" cy="252.37" r="0.60" fill="#0a0a0a" />
<circle cx="113.31" cy="253.34" r="0.60" fill="#0a0a0a" />
<circle cx="96.23" cy="252.69" r="0.60" fill="#0a0a0a" />
<circle cx="113.77" cy="256.99" r="0.60" fill="#0a0a0a" />
<circle cx="96.76" cy="253.65" r="0.60" fill="#0a0a0a" />
<circle cx="106.78" cy="250.39" r="0.60" fill="#0a0a0a" />
<circle cx="115.78" cy="252.55" r="0.60" fill="#0a0a0a" />
<circle cx="117.25" cy="255.59" r="0.60" fill="#0a0a0a" />
<circle cx="107.13" cy="254.29" r="0.60" fill="#0a0a0a" />
<circle cx="102.08" cy="253.48" r="0.60" fill="#0a0a0a" />
<circle cx="112.15" cy="254.99" r="0.60" fill="#0a0a0a" />
<circle cx="100.41" cy="252.33" r="0.60" fill="#0a0a0a" />
<circle cx="112.72" cy="257.33" r="0.60" fill="#0a0a0a" />
<circle cx="111.42" cy="251.82" r="0.60" fill="#0a0a0a" />
<circle cx="111.14" cy="255.31" r="0.60" fill="#0a0a0a" />
<circle cx="110.68" cy="257.64" r="0.60" fill="#0a0a0a" />
<circle cx="108.51" cy="251.76" r="0.60" fill="#0a0a0a" />
<circle cx="104.07" cy="251.99" r="0.60" fill="#0a0a0a" />
<circle cx="113.55" cy="253.50" r="0.60" fill="#0a0a0a" />
<circle cx="117.63" cy="260.49" r="0.60" fill="#0a0a0a" />
<circle cx="114.93" cy="252.24" r="0.60" fill="#0a0a0a" />
<circle cx="94.07" cy="258.95" r="0.60" fill="#0a0a0a" />
<circle cx="114.80" cy="255.91" r="0.60" fill="#0a0a0a" />
<circle cx="104.78" cy="253.01" r="0.60" fill="#0a0a0a" />
<circle cx="101.80" cy="251.65" r="0.60" fill="#0a0a0a" />
<circle cx="118.05" cy="258.23" r="0.60" fill="#0a0a0a" />
<circle cx="111.37" cy="254.77" r="0.60" fill="#0a0a0a" />
<circle cx="117.18" cy="259.34" r="0.60" fill="#0a0a0a" />
<circle cx="103.34" cy="250.17" r="0.60" fill="#0a0a0a" />
<circle cx="118.46" cy="259.09" r="0.60" fill="#0a0a0a" />
<circle cx="110.85" cy="251.16" r="0.60" fill="#0a0a0a" />
<circle cx="115.34" cy="256.02" r="0.60" fill="#0a0a0a" />
<circle cx="93.27" cy="251.99" r="0.60" fill="#0a0a0a" />
<circle cx="118.65" cy="265.21" r="0.60" fill="#0a0a0a" />
<circle cx="107.41" cy="252.36" r="0.60" fill="#0a0a0a" />
<circle cx="117.82" cy="263.73" r="0.60" fill="#0a0a0a" />
<circle cx="115.48" cy="254.34" r="0.60" fill="#0a0a0a" />
<circle cx="111.54" cy="254.53" r="0.60" fill="#0a0a0a" />
<circle cx="93.60" cy="253.33" r="0.60" fill="#0a0a0a" />
<circle cx="110.95" cy="256.26" r="0.60" fill="#0a0a0a" />
<circle cx="100.02" cy="252.56" r="0.60" fill="#0a0a0a" />
<circle cx="111.04" cy="253.08" r="0.60" fill="#0a0a0a" />
<circle cx="110.67" cy="255.20" r="0.60" fill="#0a0a0a" />
<circle cx="116.87" cy="257.45" r="0.60" fill="#0a0a0a" />
<circle cx="114.43" cy="256.74" r="0.60" fill="#0a0a0a" />
<circle cx="116.84" cy="255.88" r="0.60" fill="#0a0a0a" />
<circle cx="112.02" cy="251.93" r="0.60" fill="#0a0a0a" />
<circle cx="110.07" cy="254.28" r="0.60" fill="#0a0a0a" />
<circle cx="57.81" cy="267.35" r="0.60" fill="#1a1a1a" />
<circle cx="58.21" cy="267.19" r="0.60" fill="#1a1a1a" />
<circle cx="56.15" cy="262.95" r="0.60" fill="#1a1a1a" />
<circle cx="52.29" cy="261.24" r="0.60" fill="#1a1a1a" />
<circle cx="53.97" cy="264.35" r="0.60" fill="#1a1a1a" />
<circle cx="52.60" cy="260.98" r="0.60" fill="#1a1a1a" />
<circle cx="57.24" cy="264.98" r="0.60" fill="#1a1a1a" />
<circle cx="61.03" cy="266.25" r="0.60" fill="#1a1a1a" />
<circle cx="52.94" cy="260.42" r="0.60" fill="#1a1a1a" />
<circle cx="54.56" cy="264.60" r="0.60" fill="#1a1a1a" />
<circle cx="53.85" cy="260.29" r="0.60" fill="#1a1a1a" />
<circle cx="60.68" cy="265.67" r="0.60" fill="#1a1a1a" />
<circle cx="53.11" cy="262.79" r="0.60" fill="#1a1a1a" />
<circle cx="56.97" cy="263.71" r="0.60" fill="#1a1a1a" />
<circle cx="52.08" cy="256.48" r="0.60" fill="#1a1a1a" />
<circle cx="52.76" cy="260.97" r="0.60" fill="#1a1a1a" />
<circle cx="62.33" cy="267.73" r="0.60" fill="#1a1a1a" />
<circle cx="54.04" cy="259.75" r="0.60" fill="#1a1a1a" />
<circle cx="53.84" cy="264.42" r="0.60" fill="#1a1a1a" />
<circle cx="58.16" cy="264.40" r="0.60" fill="#1a1a1a" />
<circle cx="53.44" cy="263.56" r="0.60" fill="#1a1a1a" />
<circle cx="55.24" cy="265.05" r="0.60" fill="#1a1a1a" />
<circle cx="58.82" cy="265.47" r="0.60" fill="#1a1a1a" />
<circle cx="52.73" cy="261.17" r="0.60" fill="#1a1a1a" />
<circle cx="52.79" cy="260.34" r="0.60" fill="#1a1a1a" />
<circle cx="56.62" cy="268.17" r="0.60" fill="#1a1a1a" />
<circle cx="55.81" cy="264.66" r="0.60" fill="#1a1a1a" />
<circle cx="59.54" cy="267.55" r="0.60" fill="#1a1a1a" />
<circle cx="55.03" cy="264.40" r="0.60" fill="#1a1a1a" />
<circle cx="58.46" cy="264.98" r="0.60" fill="#1a1a1a" />
<circle cx="57.07" cy="263.70" r="0.60" fill="#1a1a1a" />
<circle cx="59.06" cy="265.71" r="0.60" fill="#1a1a1a" />
<circle cx="57.58" cy="262.03" r="0.60" fill="#1a1a1a" />
<circle cx="56.90" cy="265.18" r="0.60" fill="#1a1a1a" />
<circle cx="54.66" cy="263.93" r="0.60" fill="#1a1a1a" />
<circle cx="61.22" cy="267.69" r="0.60" fill="#1a1a1a" />
<circle cx="58.56" cy="264.24" r="0.60" fill="#1a1a1a" />
<circle cx="61.21" cy="266.06" r="0.60" fill="#1a1a1a" />
<circle cx="52.39" cy="259.78" r="0.60" fill="#1a1a1a" />
<circle cx="54.62" cy="264.60" r="0.60" fill="#1a1a1a" />
<circle cx="53.67" cy="262.40" r="0.60" fill="#1a1a1a" />
<circle cx="54.98" cy="266.91" r="0.60" fill="#1a1a1a" />
<circle cx="52.32" cy="258.98" r="0.60" fill="#1a1a1a" />
<circle cx="55.08" cy="262.59" r="0.60" fill="#1a1a1a" />
<circle cx="53.16" cy="260.09" r="0.60" fill="#1a1a1a" />
<circle cx="51.63" cy="260.00" r="0.60" fill="#1a1a1a" />
<circle cx="57.26" cy="265.99" r="0.60" fill="#1a1a1a" />
<circle cx="52.23" cy="258.20" r="0.60" fill="#1a1a1a" />
<circle cx="57.50" cy="265.03" r="0.60" fill="#1a1a1a" />
<circle cx="53.84" cy="265.88" r="0.60" fill="#1a1a1a" />
<circle cx="53.36" cy="259.92" r="0.60" fill="#1a1a1a" />
<circle cx="53.98" cy="262.82" r="0.60" fill="#1a1a1a" />
<circle cx="61.34" cy="269.64" r="0.60" fill="#1a1a1a" />
<circle cx="54.86" cy="262.78" r="0.60" fill="#1a1a1a" />
<circle cx="60.37" cy="268.65" r="0.60" fill="#1a1a1a" />
<circle cx="55.19" cy="264.48" r="0.60" fill="#1a1a1a" />
<circle cx="53.68" cy="265.21" r="0.60" fill="#1a1a1a" />
<circle cx="52.31" cy="260.00" r="0.60" fill="#1a1a1a" />
<circle cx="53.62" cy="262.37" r="0.60" fill="#1a1a1a" />
<circle cx="52.70" cy="258.19" r="0.60" fill="#1a1a1a" />
<circle cx="58.47" cy="270.16" r="0.60" fill="#1a1a1a" />
<circle cx="53.33" cy="260.58" r="0.60" fill="#1a1a1a" />
<circle cx="54.78" cy="263.66" r="0.60" fill="#1a1a1a" />
<circle cx="53.67" cy="260.67" r="0.60" fill="#1a1a1a" />
<circle cx="56.91" cy="265.01" r="0.60" fill="#1a1a1a" />
<circle cx="58.94" cy="267.56" r="0.60" fill="#1a1a1a" />
<circle cx="51.70" cy="259.32" r="0.60" fill="#1a1a1a" />
<circle cx="55.05" cy="264.36" r="0.60" fill="#1a1a1a" />
<circle cx="56.47" cy="267.27" r="0.60" fill="#1a1a1a" />
<circle cx="58.78" cy="265.69" r="0.60" fill="#1a1a1a" />
<circle cx="61.55" cy="270.71" r="0.60" fill="#1a1a1a" />
<circle cx="52.08" cy="259.43" r="0.60" fill="#1a1a1a" />
<circle cx="52.50" cy="258.65" r="0.60" fill="#1a1a1a" />
<circle cx="60.41" cy="266.07" r="0.60" fill="#1a1a1a" />
<circle cx="54.92" cy="263.90" r="0.60" fill="#1a1a1a" />
<circle cx="52.06" cy="258.39" r="0.60" fill="#1a1a1a" />
<circle cx="55.89" cy="267.96" r="0.60" fill="#1a1a1a" />
<circle cx="60.11" cy="268.98" r="0.60" fill="#1a1a1a" />
<circle cx="57.12" cy="264.79" r="0.60" fill="#1a1a1a" />
<circle cx="53.66" cy="262.44" r="0.60" fill="#1a1a1a" />
<circle cx="60.75" cy="268.63" r="0.60" fill="#1a1a1a" />
<circle cx="54.78" cy="263.36" r="0.60" fill="#1a1a1a" />
<circle cx="54.87" cy="262.30" r="0.60" fill="#1a1a1a" />
<circle cx="58.09" cy="267.32" r="0.60" fill="#1a1a1a" />
<circle cx="54.34" cy="262.37" r="0.60" fill="#1a1a1a" />
<circle cx="53.96" cy="263.12" r="0.60" fill="#1a1a1a" />
<circle cx="54.08" cy="263.21" r="0.60" fill="#1a1a1a" />
<circle cx="61.73" cy="268.52" r="0.60" fill="#1a1a1a" />
<circle cx="53.87" cy="261.10" r="0.60" fill="#1a1a1a" />
<circle cx="57.42" cy="266.69" r="0.60" fill="#1a1a1a" />
<circle cx="116.91" cy="257.18" r="0.60" fill="#1a1a1a" />
<circle cx="116.81" cy="258.46" r="0.60" fill="#1a1a1a" />
<circle cx="116.65" cy="262.33" r="0.60" fill="#1a1a1a" />
<circle cx="119.33" cy="266.26" r="0.60" fill="#1a1a1a" />
<circle cx="117.52" cy="259.89" r="0.60" fill="#1a1a1a" />
<circle cx="118.48" cy="264.90" r="0.60" fill="#1a1a1a" />
<circle cx="118.91" cy="265.34" r="0.60" fill="#1a1a1a" />
<circle cx="119.11" cy="264.59" r="0.60" fill="#1a1a1a" />
<circle cx="119.19" cy="264.13" r="0.60" fill="#1a1a1a" />
<circle cx="116.98" cy="256.21" r="0.60" fill="#1a1a1a" />
<circle cx="118.91" cy="265.06" r="0.60" fill="#1a1a1a" />
<circle cx="117.94" cy="265.72" r="0.60" fill="#1a1a1a" />
<circle cx="118.88" cy="262.43" r="0.60" fill="#1a1a1a" />
<circle cx="117.05" cy="260.48" r="0.60" fill="#1a1a1a" />
<circle cx="120.41" cy="263.61" r="0.60" fill="#1a1a1a" />
<circle cx="119.22" cy="264.74" r="0.60" fill="#1a1a1a" />
<circle cx="117.91" cy="260.27" r="0.60" fill="#1a1a1a" />
<circle cx="117.53" cy="266.21" r="0.60" fill="#1a1a1a" />
<circle cx="119.54" cy="261.12" r="0.60" fill="#1a1a1a" />
<circle cx="116.96" cy="258.32" r="0.60" fill="#1a1a1a" />
<circle cx="118.09" cy="261.48" r="0.60" fill="#1a1a1a" />
<circle cx="119.35" cy="264.79" r="0.60" fill="#1a1a1a" />
<circle cx="120.04" cy="260.69" r="0.60" fill="#1a1a1a" />
<circle cx="118.95" cy="265.53" r="0.60" fill="#1a1a1a" />
<circle cx="118.81" cy="265.85" r="0.60" fill="#1a1a1a" />
<circle cx="119.41" cy="264.81" r="0.60" fill="#1a1a1a" />
<circle cx="120.36" cy="265.50" r="0.60" fill="#1a1a1a" />
<circle cx="118.04" cy="264.40" r="0.60" fill="#1a1a1a" />
<circle cx="117.99" cy="262.58" r="0.60" fill="#1a1a1a" />
<circle cx="120.46" cy="262.71" r="0.60" fill="#1a1a1a" />
<circle cx="118.63" cy="266.03" r="0.60" fill="#1a1a1a" />
<circle cx="117.15" cy="259.59" r="0.60" fill="#1a1a1a" />
<circle cx="116.09" cy="258.46" r="0.60" fill="#1a1a1a" />
<circle cx="115.66" cy="264.98" r="0.60" fill="#1a1a1a" />
<circle cx="118.31" cy="258.68" r="0.60" fill="#1a1a1a" />
<circle cx="117.71" cy="261.64" r="0.60" fill="#1a1a1a" />
<circle cx="118.91" cy="261.86" r="0.60" fill="#1a1a1a" />
<circle cx="117.58" cy="263.86" r="0.60" fill="#1a1a1a" />
<circle cx="115.52" cy="255.20" r="0.60" fill="#1a1a1a" />
<circle cx="119.41" cy="260.15" r="0.60" fill="#1a1a1a" />
<circle cx="118.79" cy="267.81" r="0.60" fill="#1a1a1a" />
<circle cx="116.44" cy="258.59" r="0.60" fill="#1a1a1a" />
<circle cx="118.52" cy="265.32" r="0.60" fill="#1a1a1a" />
<circle cx="117.64" cy="266.94" r="0.60" fill="#1a1a1a" />
<circle cx="120.61" cy="266.01" r="0.60" fill="#1a1a1a" />
<circle cx="116.36" cy="258.83" r="0.60" fill="#1a1a1a" />
<circle cx="117.80" cy="259.88" r="0.60" fill="#1a1a1a" />
<circle cx="119.49" cy="266.35" r="0.60" fill="#1a1a1a" />
<circle cx="119.12" cy="267.55" r="0.60" fill="#1a1a1a" />
<circle cx="117.82" cy="257.57" r="0.60" fill="#1a1a1a" />
<circle cx="120.78" cy="264.35" r="0.60" fill="#1a1a1a" />
<circle cx="119.81" cy="261.89" r="0.60" fill="#1a1a1a" />
<circle cx="117.31" cy="267.58" r="0.60" fill="#1a1a1a" />
<circle cx="118.37" cy="264.58" r="0.60" fill="#1a1a1a" />
<circle cx="117.30" cy="265.87" r="0.60" fill="#1a1a1a" />
<circle cx="117.37" cy="268.83" r="0.60" fill="#1a1a1a" />
<circle cx="116.78" cy="258.56" r="0.60" fill="#1a1a1a" />
<circle cx="119.51" cy="266.65" r="0.60" fill="#1a1a1a" />
<circle cx="116.99" cy="266.04" r="0.60" fill="#1a1a1a" />
<circle cx="117.64" cy="258.87" r="0.60" fill="#1a1a1a" />
<circle cx="120.96" cy="263.66" r="0.60" fill="#1a1a1a" />
<circle cx="119.77" cy="266.32" r="0.60" fill="#1a1a1a" />
<circle cx="118.54" cy="266.82" r="0.60" fill="#1a1a1a" />
<circle cx="117.18" cy="256.54" r="0.60" fill="#1a1a1a" />
<circle cx="118.31" cy="264.90" r="0.60" fill="#1a1a1a" />
<circle cx="119.39" cy="264.77" r="0.60" fill="#1a1a1a" />
<circle cx="116.65" cy="259.51" r="0.60" fill="#1a1a1a" />
<circle cx="118.91" cy="264.49" r="0.60" fill="#1a1a1a" />
<circle cx="116.78" cy="259.01" r="0.60" fill="#1a1a1a" />
<circle cx="118.20" cy="266.11" r="0.60" fill="#1a1a1a" />
<circle cx="64.09" cy="246.00" r="0.55" fill="#4a4aa2" />
<circle cx="62.16" cy="253.25" r="0.55" fill="#4a4aa2" />
<circle cx="84.00" cy="253.06" r="0.55" fill="#4a4aa2" />
<circle cx="79.93" cy="241.32" r="0.55" fill="#4a4aa2" />
<circle cx="60.89" cy="246.93" r="0.55" fill="#4a4aa2" />
<circle cx="54.49" cy="250.40" r="0.55" fill="#4a4aa2" />
<circle cx="75.75" cy="250.73" r="0.55" fill="#4a4aa2" />
<circle cx="73.15" cy="248.81" r="0.55" fill="#4a4aa2" />
<circle cx="73.52" cy="249.99" r="0.55" fill="#4a4aa2" />
<circle cx="71.59" cy="249.54" r="0.55" fill="#4a4aa2" />
<circle cx="78.71" cy="246.62" r="0.55" fill="#4a4aa2" />
<circle cx="57.52" cy="249.46" r="0.55" fill="#4a4aa2" />
<circle cx="63.98" cy="251.16" r="0.55" fill="#4a4aa2" />
<circle cx="67.74" cy="247.02" r="0.55" fill="#4a4aa2" />
<circle cx="82.08" cy="252.64" r="0.55" fill="#4a4aa2" />
<circle cx="70.15" cy="249.29" r="0.55" fill="#4a4aa2" />
<circle cx="57.72" cy="252.04" r="0.55" fill="#4a4aa2" />
<circle cx="81.06" cy="245.65" r="0.55" fill="#4a4aa2" />
<circle cx="66.37" cy="253.01" r="0.55" fill="#4a4aa2" />
<circle cx="82.53" cy="253.25" r="0.55" fill="#4a4aa2" />
<circle cx="63.62" cy="245.61" r="0.55" fill="#4a4aa2" />
<circle cx="78.70" cy="249.19" r="0.55" fill="#4a4aa2" />
<circle cx="75.75" cy="253.27" r="0.55" fill="#4a4aa2" />
<circle cx="70.54" cy="248.43" r="0.55" fill="#4a4aa2" />
<circle cx="60.81" cy="246.38" r="0.55" fill="#4a4aa2" />
<circle cx="58.80" cy="251.84" r="0.55" fill="#4a4aa2" />
<circle cx="63.06" cy="250.98" r="0.55" fill="#4a4aa2" />
<circle cx="66.40" cy="250.96" r="0.55" fill="#4a4aa2" />
<circle cx="67.93" cy="244.21" r="0.55" fill="#4a4aa2" />
<circle cx="80.19" cy="250.34" r="0.55" fill="#4a4aa2" />
<circle cx="56.49" cy="250.17" r="0.55" fill="#4a4aa2" />
<circle cx="68.80" cy="245.79" r="0.55" fill="#4a4aa2" />
<circle cx="48.00" cy="252.74" r="0.55" fill="#4a4aa2" />
<circle cx="63.75" cy="248.74" r="0.55" fill="#4a4aa2" />
<circle cx="82.59" cy="253.47" r="0.55" fill="#4a4aa2" />
<circle cx="78.30" cy="252.00" r="0.55" fill="#4a4aa2" />
<circle cx="54.78" cy="252.94" r="0.55" fill="#4a4aa2" />
<circle cx="69.19" cy="251.77" r="0.55" fill="#4a4aa2" />
<circle cx="66.92" cy="251.37" r="0.55" fill="#4a4aa2" />
<circle cx="70.27" cy="247.19" r="0.55" fill="#4a4aa2" />
<circle cx="62.18" cy="242.24" r="0.55" fill="#4a4aa2" />
<circle cx="64.97" cy="252.31" r="0.55" fill="#4a4aa2" />
<circle cx="67.37" cy="250.13" r="0.55" fill="#4a4aa2" />
<circle cx="69.05" cy="251.17" r="0.55" fill="#4a4aa2" />
<circle cx="74.32" cy="247.98" r="0.55" fill="#4a4aa2" />
<circle cx="67.85" cy="248.29" r="0.55" fill="#4a4aa2" />
<circle cx="73.02" cy="249.71" r="0.55" fill="#4a4aa2" />
<circle cx="63.83" cy="252.26" r="0.55" fill="#4a4aa2" />
<circle cx="68.28" cy="239.18" r="0.55" fill="#5858a8" />
<circle cx="57.26" cy="244.05" r="0.55" fill="#5858a8" />
<circle cx="62.37" cy="252.77" r="0.55" fill="#5858a8" />
<circle cx="71.06" cy="240.39" r="0.55" fill="#5858a8" />
<circle cx="51.31" cy="251.51" r="0.55" fill="#5858a8" />
<circle cx="70.21" cy="248.72" r="0.55" fill="#5858a8" />
<circle cx="55.92" cy="238.98" r="0.55" fill="#5858a8" />
<circle cx="68.41" cy="242.10" r="0.55" fill="#5858a8" />
<circle cx="64.96" cy="246.32" r="0.55" fill="#5858a8" />
<circle cx="65.56" cy="242.78" r="0.55" fill="#5858a8" />
<circle cx="57.36" cy="244.46" r="0.55" fill="#5858a8" />
<circle cx="53.28" cy="245.49" r="0.55" fill="#5858a8" />
<circle cx="61.52" cy="241.13" r="0.55" fill="#5858a8" />
<circle cx="66.72" cy="245.16" r="0.55" fill="#5858a8" />
<circle cx="74.94" cy="251.81" r="0.55" fill="#5858a8" />
<circle cx="64.19" cy="246.63" r="0.55" fill="#5858a8" />
<circle cx="66.57" cy="248.39" r="0.55" fill="#5858a8" />
<circle cx="65.48" cy="245.47" r="0.55" fill="#5858a8" />
<circle cx="103.08" cy="251.23" r="0.55" fill="#e0353a" />
<circle cx="114.84" cy="253.14" r="0.55" fill="#e0353a" />
<circle cx="111.76" cy="250.00" r="0.55" fill="#e0353a" />
<circle cx="108.85" cy="243.37" r="0.55" fill="#e0353a" />
<circle cx="104.20" cy="243.68" r="0.55" fill="#e0353a" />
<circle cx="114.69" cy="245.06" r="0.55" fill="#e0353a" />
<circle cx="110.12" cy="244.72" r="0.55" fill="#e0353a" />
<circle cx="110.25" cy="249.28" r="0.55" fill="#e0353a" />
<circle cx="102.54" cy="253.77" r="0.55" fill="#e0353a" />
<circle cx="123.00" cy="242.62" r="0.55" fill="#e0353a" />
<circle cx="105.80" cy="253.11" r="0.55" fill="#e0353a" />
<circle cx="102.49" cy="239.11" r="0.55" fill="#e0353a" />
<circle cx="108.38" cy="250.31" r="0.55" fill="#e0353a" />
<circle cx="102.08" cy="251.05" r="0.55" fill="#e0353a" />
<circle cx="100.46" cy="247.34" r="0.55" fill="#e0353a" />
<circle cx="112.80" cy="252.64" r="0.55" fill="#e0353a" />
<circle cx="107.46" cy="246.78" r="0.55" fill="#e0353a" />
<circle cx="102.17" cy="247.98" r="0.55" fill="#e0353a" />
<circle cx="116.28" cy="246.53" r="0.55" fill="#e0353a" />
<circle cx="100.17" cy="239.80" r="0.55" fill="#e0353a" />
<circle cx="101.31" cy="245.46" r="0.55" fill="#e0353a" />
<circle cx="118.12" cy="251.97" r="0.55" fill="#e0353a" />
<circle cx="107.88" cy="249.02" r="0.55" fill="#e0353a" />
<circle cx="109.30" cy="241.70" r="0.55" fill="#e0353a" />
<circle cx="106.48" cy="247.61" r="0.55" fill="#e0353a" />
<circle cx="105.71" cy="243.98" r="0.55" fill="#e0353a" />
<circle cx="105.33" cy="245.77" r="0.55" fill="#e0353a" />
<circle cx="110.65" cy="252.91" r="0.55" fill="#e0353a" />
<circle cx="100.39" cy="246.53" r="0.55" fill="#e0353a" />
<circle cx="102.43" cy="247.02" r="0.55" fill="#e0353a" />
<circle cx="104.32" cy="252.68" r="0.55" fill="#e0353a" />
<circle cx="114.32" cy="250.24" r="0.55" fill="#e0353a" />
<circle cx="101.37" cy="247.70" r="0.55" fill="#e0353a" />
<circle cx="107.89" cy="252.14" r="0.55" fill="#e0353a" />
<circle cx="98.41" cy="249.33" r="0.55" fill="#e0353a" />
<circle cx="106.66" cy="249.58" r="0.55" fill="#e0353a" />
<circle cx="94.00" cy="253.89" r="0.55" fill="#e0353a" />
<circle cx="107.20" cy="248.60" r="0.55" fill="#e0353a" />
<circle cx="105.10" cy="249.23" r="0.55" fill="#e0353a" />
<circle cx="107.08" cy="248.73" r="0.55" fill="#e0353a" />
<circle cx="109.78" cy="245.94" r="0.55" fill="#e0353a" />
<circle cx="114.20" cy="246.26" r="0.55" fill="#e0353a" />
<circle cx="94.00" cy="253.49" r="0.55" fill="#e0353a" />
<circle cx="105.31" cy="252.28" r="0.55" fill="#e0353a" />
<circle cx="104.42" cy="249.64" r="0.55" fill="#e0353a" />
<circle cx="99.09" cy="253.12" r="0.55" fill="#e0353a" />
<circle cx="113.17" cy="252.20" r="0.55" fill="#e0353a" />
<circle cx="112.57" cy="250.68" r="0.55" fill="#e0353a" />
<circle cx="98.64" cy="253.23" r="0.55" fill="#e0353a" />
<circle cx="120.22" cy="242.77" r="0.55" fill="#e0353a" />
<circle cx="101.27" cy="247.80" r="0.55" fill="#e0353a" />
<circle cx="111.04" cy="248.54" r="0.55" fill="#e0353a" />
<circle cx="103.95" cy="245.26" r="0.55" fill="#e0353a" />
<circle cx="105.56" cy="251.55" r="0.55" fill="#e0353a" />
<circle cx="94.83" cy="252.36" r="0.55" fill="#e0353a" />
<circle cx="110.20" cy="242.37" r="0.55" fill="#e0353a" />
<circle cx="117.18" cy="234.34" r="0.55" fill="#e25055" />
<circle cx="123.55" cy="237.38" r="0.55" fill="#e25055" />
<circle cx="123.28" cy="245.72" r="0.55" fill="#e25055" />
<circle cx="113.55" cy="237.81" r="0.55" fill="#e25055" />
<circle cx="117.43" cy="236.54" r="0.55" fill="#e25055" />
<circle cx="104.88" cy="244.92" r="0.55" fill="#e25055" />
<circle cx="113.92" cy="235.77" r="0.55" fill="#e25055" />
<circle cx="112.97" cy="244.63" r="0.55" fill="#e25055" />
<circle cx="120.98" cy="238.59" r="0.55" fill="#e25055" />
<circle cx="105.10" cy="248.12" r="0.55" fill="#e25055" />
<circle cx="117.50" cy="237.47" r="0.55" fill="#e25055" />
<circle cx="109.63" cy="237.20" r="0.55" fill="#e25055" />
<circle cx="52.36" cy="260.60" r="0.45" fill="#444" />
<circle cx="54.30" cy="267.39" r="0.45" fill="#444" />
<circle cx="46.39" cy="260.63" r="0.45" fill="#444" />
<circle cx="50.37" cy="254.82" r="0.45" fill="#444" />
<circle cx="52.27" cy="264.46" r="0.45" fill="#444" />
<circle cx="55.08" cy="262.25" r="0.45" fill="#444" />
<circle cx="51.22" cy="260.61" r="0.45" fill="#444" />
<circle cx="47.98" cy="261.54" r="0.45" fill="#444" />
<circle cx="47.28" cy="255.93" r="0.45" fill="#444" />
<circle cx="47.67" cy="267.61" r="0.45" fill="#444" />
<circle cx="51.99" cy="258.55" r="0.45" fill="#444" />
<circle cx="47.97" cy="261.19" r="0.45" fill="#444" />
<circle cx="48.98" cy="255.43" r="0.45" fill="#444" />
<circle cx="49.78" cy="258.24" r="0.45" fill="#444" />
<circle cx="50.57" cy="254.19" r="0.45" fill="#444" />
<circle cx="50.48" cy="259.82" r="0.45" fill="#444" />
<circle cx="54.33" cy="255.78" r="0.45" fill="#444" />
<circle cx="49.46" cy="266.10" r="0.45" fill="#444" />
<circle cx="53.48" cy="265.55" r="0.45" fill="#444" />
<circle cx="53.55" cy="262.34" r="0.45" fill="#444" />
<circle cx="54.64" cy="260.95" r="0.45" fill="#444" />
<circle cx="55.24" cy="264.11" r="0.45" fill="#444" />
<circle cx="45.94" cy="266.39" r="0.45" fill="#444" />
<circle cx="55.20" cy="262.90" r="0.45" fill="#444" />
<circle cx="46.08" cy="256.09" r="0.45" fill="#444" />
<circle cx="121.81" cy="265.80" r="0.45" fill="#444" />
<circle cx="121.66" cy="266.35" r="0.45" fill="#444" />
<circle cx="117.83" cy="265.22" r="0.45" fill="#444" />
<circle cx="119.06" cy="267.44" r="0.45" fill="#444" />
<circle cx="118.63" cy="266.89" r="0.45" fill="#444" />
<circle cx="121.30" cy="257.57" r="0.45" fill="#444" />
<circle cx="122.91" cy="257.49" r="0.45" fill="#444" />
<circle cx="118.90" cy="263.10" r="0.45" fill="#444" />
<circle cx="123.76" cy="260.40" r="0.45" fill="#444" />
<circle cx="118.29" cy="259.82" r="0.45" fill="#444" />
<circle cx="121.17" cy="262.36" r="0.45" fill="#444" />
<circle cx="117.38" cy="261.33" r="0.45" fill="#444" />
<circle cx="118.88" cy="263.99" r="0.45" fill="#444" />
<circle cx="125.14" cy="259.22" r="0.45" fill="#444" />
<circle cx="120.97" cy="266.59" r="0.45" fill="#444" />
<circle cx="123.73" cy="263.99" r="0.45" fill="#444" />
<circle cx="121.68" cy="256.67" r="0.45" fill="#444" />
<circle cx="122.21" cy="266.22" r="0.45" fill="#444" />
<circle cx="123.16" cy="267.43" r="0.45" fill="#444" />
<circle cx="119.42" cy="267.91" r="0.45" fill="#444" />
<circle cx="69.90" cy="226.80" r="0.55" fill="#555" />
<circle cx="47.00" cy="233.30" r="0.55" fill="#555" />
<circle cx="119.90" cy="225.50" r="0.55" fill="#666" />
<circle cx="111.00" cy="230.00" r="0.50" fill="#666" />
<circle cx="129.00" cy="258.80" r="0.55" fill="#555" />
<circle cx="73.00" cy="237.00" r="0.50" fill="#666" />
<circle cx="117.50" cy="231.00" r="0.50" fill="#777" />
<circle cx="124.00" cy="230.50" r="0.50" fill="#777" />
</g>
<rect x="34.7" y="200.2" width="106.80" height="75.90" fill="none" stroke="#1a1a1a" stroke-width="1.15"/>
<line x1="31.8" y1="202.30" x2="34.7" y2="202.30" stroke="#1a1a1a" stroke-width="0.9"/>
<text x="29.00" y="204.60" font-size="6.4" text-anchor="end" fill="#333" font-weight="normal" stroke="#333" stroke-width="0.18" >12</text>
<line x1="31.8" y1="220.00" x2="34.7" y2="220.00" stroke="#1a1a1a" stroke-width="0.9"/>
<text x="29.00" y="222.30" font-size="6.4" text-anchor="end" fill="#333" font-weight="normal" stroke="#333" stroke-width="0.18" >8</text>
<line x1="31.8" y1="237.80" x2="34.7" y2="237.80" stroke="#1a1a1a" stroke-width="0.9"/>
<text x="29.00" y="240.10" font-size="6.4" text-anchor="end" fill="#333" font-weight="normal" stroke="#333" stroke-width="0.18" >6</text>
<line x1="31.8" y1="255.40" x2="34.7" y2="255.40" stroke="#1a1a1a" stroke-width="0.9"/>
<text x="29.00" y="257.70" font-size="6.4" text-anchor="end" fill="#333" font-weight="normal" stroke="#333" stroke-width="0.18" >4</text>
<line x1="31.8" y1="273.20" x2="34.7" y2="273.20" stroke="#1a1a1a" stroke-width="0.9"/>
<text x="29.00" y="275.50" font-size="6.4" text-anchor="end" fill="#333" font-weight="normal" stroke="#333" stroke-width="0.18" >0</text>
<line x1="38.2" y1="276.1" x2="38.2" y2="278.90" stroke="#1a1a1a" stroke-width="0.9"/>
<text x="37.60" y="287.80" font-size="7.1" text-anchor="middle" fill="#333" font-weight="normal" stroke="#333" stroke-width="0.18" >−10</text>
<line x1="63.0" y1="276.1" x2="63.0" y2="278.90" stroke="#1a1a1a" stroke-width="0.9"/>
<text x="62.40" y="287.80" font-size="7.1" text-anchor="middle" fill="#333" font-weight="normal" stroke="#333" stroke-width="0.18" >−5</text>
<line x1="87.8" y1="276.1" x2="87.8" y2="278.90" stroke="#1a1a1a" stroke-width="0.9"/>
<text x="87.80" y="287.80" font-size="7.1" text-anchor="middle" fill="#333" font-weight="normal" stroke="#333" stroke-width="0.18" >0</text>
<line x1="112.6" y1="276.1" x2="112.6" y2="278.90" stroke="#1a1a1a" stroke-width="0.9"/>
<text x="112.60" y="287.80" font-size="7.1" text-anchor="middle" fill="#333" font-weight="normal" stroke="#333" stroke-width="0.18" >5</text>
<line x1="137.4" y1="276.1" x2="137.4" y2="278.90" stroke="#1a1a1a" stroke-width="0.9"/>
<text x="137.40" y="287.80" font-size="7.1" text-anchor="middle" fill="#333" font-weight="normal" stroke="#333" stroke-width="0.18" >10</text>
<text x="64.8" y="299.40" font-size="8" fill="#222" stroke="#222" stroke-width="0.35" textLength="46.2" lengthAdjust="spacingAndGlyphs">Log<tspan font-size="5.5" dy="1.6">2</tspan><tspan dy="-1.6">(fold change)</tspan></text>
<text transform="translate(13.9,238.30) rotate(-90)" x="0" y="0" font-size="7" text-anchor="middle" fill="#222" stroke="#222" stroke-width="0.35" textLength="33.5" lengthAdjust="spacingAndGlyphs">-Log<tspan font-size="5" dy="1.4">10</tspan><tspan dy="-1.4">(FDR)</tspan></text>
<text x="154.40" y="48.80" font-size="6.05" text-anchor="start" fill="#222" font-weight="normal" stroke="#222" stroke-width="0.18" >DEG (FDR&lt;0.05)</text>
<circle cx="149.30" cy="55.90" r="1.80" fill="#b0102c" />
<text x="154.40" y="58.00" font-size="6.05" text-anchor="start" fill="#222" font-weight="normal" stroke="#222" stroke-width="0.18" >Upregulation in</text>
<text x="154.40" y="66.10" font-size="6.05" text-anchor="start" fill="#222" font-weight="normal" stroke="#222" stroke-width="0.18" >posttreatment (326 genes)</text>
<circle cx="149.30" cy="73.60" r="1.80" fill="#1a2c55" />
<text x="154.40" y="75.70" font-size="6.05" text-anchor="start" fill="#222" font-weight="normal" stroke="#222" stroke-width="0.18" >Downregulation in</text>
<text x="154.40" y="83.80" font-size="6.05" text-anchor="start" fill="#222" font-weight="normal" stroke="#222" stroke-width="0.18" >posttreatment (155 genes)</text>
<text x="154.40" y="222.80" font-size="6.05" text-anchor="start" fill="#222" font-weight="normal" stroke="#222" stroke-width="0.18" >DEG (FDR&lt;0.05)</text>
<circle cx="149.30" cy="229.90" r="1.80" fill="#b0102c" />
<text x="154.40" y="232.00" font-size="6.05" text-anchor="start" fill="#222" font-weight="normal" stroke="#222" stroke-width="0.18" >Upregulation in</text>
<text x="154.40" y="240.10" font-size="6.05" text-anchor="start" fill="#222" font-weight="normal" stroke="#222" stroke-width="0.18" >posttreatment (60 genes)</text>
<circle cx="149.30" cy="247.60" r="1.80" fill="#1a2c55" />
<text x="154.40" y="249.70" font-size="6.05" text-anchor="start" fill="#222" font-weight="normal" stroke="#222" stroke-width="0.18" >Downregulation in</text>
<text x="154.40" y="257.80" font-size="6.05" text-anchor="start" fill="#222" font-weight="normal" stroke="#222" stroke-width="0.18" >posttreatment (47 genes)</text>
<text x="358.10" y="15.80" font-size="8.3" text-anchor="start" fill="#222" font-weight="normal" stroke="#222" stroke-width="0.18" >GO (BP) terms</text>
<text x="431.90" y="17.30" font-size="8.15" text-anchor="start" fill="#222" font-weight="normal" stroke="#222" stroke-width="0.18" >Upregulated</text>
<text x="421.90" y="29.30" font-size="6.05" text-anchor="end" fill="#222" font-weight="normal" stroke="#222" stroke-width="0.14" >*Mitochondrial translation</text>
<line x1="424.2" y1="27.70" x2="427.6" y2="27.70" stroke="#1a1a1a" stroke-width="0.9"/>
<text x="421.90" y="37.37" font-size="6.05" text-anchor="end" fill="#222" font-weight="normal" stroke="#222" stroke-width="0.14" >Translational termination</text>
<line x1="424.2" y1="35.77" x2="427.6" y2="35.77" stroke="#1a1a1a" stroke-width="0.9"/>
<text x="421.90" y="45.44" font-size="6.05" text-anchor="end" fill="#222" font-weight="normal" stroke="#222" stroke-width="0.14" >*Mitochondrial translational termination</text>
<line x1="424.2" y1="43.84" x2="427.6" y2="43.84" stroke="#1a1a1a" stroke-width="0.9"/>
<text x="421.90" y="53.51" font-size="6.05" text-anchor="end" fill="#222" font-weight="normal" stroke="#222" stroke-width="0.14" >*Nucleoside bisphosphate metabolic process</text>
<line x1="424.2" y1="51.91" x2="427.6" y2="51.91" stroke="#1a1a1a" stroke-width="0.9"/>
<text x="421.90" y="61.58" font-size="6.05" text-anchor="end" fill="#222" font-weight="normal" stroke="#222" stroke-width="0.14" >*Regulation of cholesterol metabolic process</text>
<line x1="424.2" y1="59.98" x2="427.6" y2="59.98" stroke="#1a1a1a" stroke-width="0.9"/>
<text x="421.90" y="69.65" font-size="6.05" text-anchor="end" fill="#222" font-weight="normal" stroke="#222" stroke-width="0.14" >*Mitochondrial gene expression</text>
<line x1="424.2" y1="68.05" x2="427.6" y2="68.05" stroke="#1a1a1a" stroke-width="0.9"/>
<text x="421.90" y="77.72" font-size="6.05" text-anchor="end" fill="#222" font-weight="normal" stroke="#222" stroke-width="0.14" >*Thioester metabolic process</text>
<line x1="424.2" y1="76.12" x2="427.6" y2="76.12" stroke="#1a1a1a" stroke-width="0.9"/>
<text x="421.90" y="85.79" font-size="6.05" text-anchor="end" fill="#222" font-weight="normal" stroke="#222" stroke-width="0.14" >*Branched chain amino acid metabolic process</text>
<line x1="424.2" y1="84.19" x2="427.6" y2="84.19" stroke="#1a1a1a" stroke-width="0.9"/>
<text x="421.90" y="93.86" font-size="6.05" text-anchor="end" fill="#222" font-weight="normal" stroke="#222" stroke-width="0.14" >*Nucleoside bisphosphate biosynthetic process</text>
<line x1="424.2" y1="92.26" x2="427.6" y2="92.26" stroke="#1a1a1a" stroke-width="0.9"/>
<text x="421.90" y="101.93" font-size="6.05" text-anchor="end" fill="#222" font-weight="normal" stroke="#222" stroke-width="0.14" >*Fatty acid beta oxidation</text>
<line x1="424.2" y1="100.33" x2="427.6" y2="100.33" stroke="#1a1a1a" stroke-width="0.9"/>
<text x="421.90" y="110.00" font-size="6.05" text-anchor="end" fill="#222" font-weight="normal" stroke="#222" stroke-width="0.14" >Telomerase RNA localization to Cajal body</text>
<line x1="424.2" y1="108.40" x2="427.6" y2="108.40" stroke="#1a1a1a" stroke-width="0.9"/>
<text x="421.90" y="118.07" font-size="6.05" text-anchor="end" fill="#222" font-weight="normal" stroke="#222" stroke-width="0.14" >*Sterol biosynthetic process</text>
<line x1="424.2" y1="116.47" x2="427.6" y2="116.47" stroke="#1a1a1a" stroke-width="0.9"/>
<text x="421.90" y="126.14" font-size="6.05" text-anchor="end" fill="#222" font-weight="normal" stroke="#222" stroke-width="0.14" >*Thioester biosynthetic process</text>
<line x1="424.2" y1="124.54" x2="427.6" y2="124.54" stroke="#1a1a1a" stroke-width="0.9"/>
<text x="421.90" y="134.21" font-size="6.05" text-anchor="end" fill="#222" font-weight="normal" stroke="#222" stroke-width="0.14" >*Very long chain fatty acid metabolic process</text>
<line x1="424.2" y1="132.61" x2="427.6" y2="132.61" stroke="#1a1a1a" stroke-width="0.9"/>
<text x="421.90" y="142.28" font-size="6.05" text-anchor="end" fill="#222" font-weight="normal" stroke="#222" stroke-width="0.14" >*Fatty acid metabolic process</text>
<line x1="424.2" y1="140.68" x2="427.6" y2="140.68" stroke="#1a1a1a" stroke-width="0.9"/>
<circle cx="478.20" cy="27.70" r="1.80" fill="#d0102a" />
<circle cx="471.50" cy="35.77" r="1.75" fill="#d0102a" />
<circle cx="469.80" cy="43.84" r="2.00" fill="#d0102a" />
<circle cx="466.90" cy="51.91" r="1.60" fill="#c8102a" />
<circle cx="463.10" cy="59.98" r="2.00" fill="#d01a2e" />
<circle cx="462.60" cy="68.05" r="1.65" fill="#cc1a30" />
<circle cx="453.40" cy="76.12" r="1.70" fill="#cc2038" />
<circle cx="444.50" cy="84.19" r="1.75" fill="#d23c5a" />
<circle cx="443.40" cy="92.26" r="1.60" fill="#d2426a" />
<circle cx="439.10" cy="100.33" r="1.60" fill="#d04a68" />
<circle cx="438.50" cy="108.40" r="1.90" fill="#cc5a7a" />
<circle cx="438.20" cy="116.47" r="1.90" fill="#cc5070" />
<circle cx="438.10" cy="124.54" r="1.60" fill="#cc3a58" />
<circle cx="431.20" cy="132.61" r="1.15" fill="#ddd0e0" stroke="#9a86a8" stroke-width="0.7"/>
<circle cx="429.60" cy="140.68" r="1.10" fill="#9a8aa8" />
<rect x="427.6" y="22.6" width="52.70" height="122.30" fill="none" stroke="#1a1a1a" stroke-width="1.1"/>
<line x1="428.10" y1="144.9" x2="428.10" y2="147.70" stroke="#1a1a1a" stroke-width="0.9"/>
<text x="428.10" y="156.70" font-size="6.3" text-anchor="middle" fill="#333" font-weight="normal" stroke="#333" stroke-width="0.18" >2.0</text>
<line x1="440.90" y1="144.9" x2="440.90" y2="147.70" stroke="#1a1a1a" stroke-width="0.9"/>
<text x="440.90" y="156.70" font-size="6.3" text-anchor="middle" fill="#333" font-weight="normal" stroke="#333" stroke-width="0.18" >2.1</text>
<line x1="453.70" y1="144.9" x2="453.70" y2="147.70" stroke="#1a1a1a" stroke-width="0.9"/>
<text x="453.70" y="156.70" font-size="6.3" text-anchor="middle" fill="#333" font-weight="normal" stroke="#333" stroke-width="0.18" >2.2</text>
<line x1="466.50" y1="144.9" x2="466.50" y2="147.70" stroke="#1a1a1a" stroke-width="0.9"/>
<text x="466.50" y="156.70" font-size="6.3" text-anchor="middle" fill="#333" font-weight="normal" stroke="#333" stroke-width="0.18" >2.3</text>
<line x1="479.30" y1="144.9" x2="479.30" y2="147.70" stroke="#1a1a1a" stroke-width="0.9"/>
<text x="479.30" y="156.70" font-size="6.3" text-anchor="middle" fill="#333" font-weight="normal" stroke="#333" stroke-width="0.18" >2.4</text>
<text x="449.2" y="168.50" font-size="8.2" fill="#222" stroke="#222" stroke-width="0.4" textLength="9.9" lengthAdjust="spacingAndGlyphs">NES</text>
<text x="358.10" y="198.80" font-size="8.3" text-anchor="start" fill="#222" font-weight="normal" stroke="#222" stroke-width="0.18" >GO (BP) terms</text>
<text x="431.90" y="201.70" font-size="8.15" text-anchor="start" fill="#222" font-weight="normal" stroke="#222" stroke-width="0.18" >Upregulated</text>
<text x="421.90" y="211.60" font-size="6.08" text-anchor="end" fill="#222" font-weight="normal" stroke="#222" stroke-width="0.14" >Cotranslational protein targeting to membrane</text>
<line x1="424.2" y1="209.40" x2="427.6" y2="209.40" stroke="#1a1a1a" stroke-width="0.9"/>
<text x="421.90" y="219.80" font-size="6.08" text-anchor="end" fill="#222" font-weight="normal" stroke="#222" stroke-width="0.14" >Establishment of protein localization to ER</text>
<line x1="424.2" y1="217.60" x2="427.6" y2="217.60" stroke="#1a1a1a" stroke-width="0.9"/>
<text x="421.90" y="228.00" font-size="6.08" text-anchor="end" fill="#222" font-weight="normal" stroke="#222" stroke-width="0.14" >Translational initiation</text>
<line x1="424.2" y1="225.80" x2="427.6" y2="225.80" stroke="#1a1a1a" stroke-width="0.9"/>
<text x="421.90" y="236.20" font-size="6.08" text-anchor="end" fill="#222" font-weight="normal" stroke="#222" stroke-width="0.14" >Protein localization to ER</text>
<line x1="424.2" y1="234.00" x2="427.6" y2="234.00" stroke="#1a1a1a" stroke-width="0.9"/>
<text x="421.90" y="244.40" font-size="6.08" text-anchor="end" fill="#222" font-weight="normal" stroke="#222" stroke-width="0.14" >Nuclear transcribed mRNA catabolic process</text>
<line x1="424.2" y1="242.20" x2="427.6" y2="242.20" stroke="#1a1a1a" stroke-width="0.9"/>
<text x="421.90" y="252.60" font-size="6.08" text-anchor="end" fill="#222" font-weight="normal" stroke="#222" stroke-width="0.14" >Protein targeting to membrane</text>
<line x1="424.2" y1="250.40" x2="427.6" y2="250.40" stroke="#1a1a1a" stroke-width="0.9"/>
<text x="421.90" y="260.80" font-size="6.08" text-anchor="end" fill="#222" font-weight="normal" stroke="#222" stroke-width="0.14" >Cytoplasmic translation</text>
<line x1="424.2" y1="258.60" x2="427.6" y2="258.60" stroke="#1a1a1a" stroke-width="0.9"/>
<text x="421.90" y="269.00" font-size="6.08" text-anchor="end" fill="#222" font-weight="normal" stroke="#222" stroke-width="0.14" >**Viral gene expression</text>
<line x1="424.2" y1="266.80" x2="427.6" y2="266.80" stroke="#1a1a1a" stroke-width="0.9"/>
<text x="421.90" y="277.20" font-size="6.08" text-anchor="end" fill="#222" font-weight="normal" stroke="#222" stroke-width="0.14" >Selective autophagy</text>
<line x1="424.2" y1="275.00" x2="427.6" y2="275.00" stroke="#1a1a1a" stroke-width="0.9"/>
<text x="421.90" y="285.40" font-size="6.08" text-anchor="end" fill="#222" font-weight="normal" stroke="#222" stroke-width="0.14" >**Regulation of CD4 positive alpha beta T cell differentiation</text>
<line x1="424.2" y1="283.20" x2="427.6" y2="283.20" stroke="#1a1a1a" stroke-width="0.9"/>
<text x="421.90" y="293.60" font-size="6.08" text-anchor="end" fill="#222" font-weight="normal" stroke="#222" stroke-width="0.14" >**Antigen processing and presentation</text>
<line x1="424.2" y1="291.40" x2="427.6" y2="291.40" stroke="#1a1a1a" stroke-width="0.9"/>
<text x="421.90" y="301.80" font-size="6.08" text-anchor="end" fill="#222" font-weight="normal" stroke="#222" stroke-width="0.14" >**Antigen processing and presentation of exogenous peptide antigen</text>
<line x1="424.2" y1="299.60" x2="427.6" y2="299.60" stroke="#1a1a1a" stroke-width="0.9"/>
<text x="421.90" y="310.00" font-size="6.08" text-anchor="end" fill="#222" font-weight="normal" stroke="#222" stroke-width="0.14" >**Antigen processing and presentation of peptide antigen</text>
<line x1="424.2" y1="307.80" x2="427.6" y2="307.80" stroke="#1a1a1a" stroke-width="0.9"/>
<text x="421.90" y="318.20" font-size="6.08" text-anchor="end" fill="#222" font-weight="normal" stroke="#222" stroke-width="0.14" >Regulation of response to ER stress</text>
<line x1="424.2" y1="316.00" x2="427.6" y2="316.00" stroke="#1a1a1a" stroke-width="0.9"/>
<text x="421.90" y="326.40" font-size="6.08" text-anchor="end" fill="#222" font-weight="normal" stroke="#222" stroke-width="0.14" >**Regulation of T helper cell differentiation</text>
<line x1="424.2" y1="324.20" x2="427.6" y2="324.20" stroke="#1a1a1a" stroke-width="0.9"/>
<circle cx="478.20" cy="209.40" r="1.80" fill="#e0604a" />
<circle cx="465.20" cy="217.60" r="2.00" fill="#d8604e" />
<circle cx="461.60" cy="225.80" r="2.00" fill="#e06a40" />
<circle cx="457.90" cy="234.00" r="1.90" fill="#d86050" />
<circle cx="457.40" cy="242.20" r="1.90" fill="#dc6850" />
<circle cx="446.30" cy="250.40" r="1.70" fill="#e07058" />
<circle cx="444.00" cy="258.60" r="1.70" fill="#dc6a5a" />
<circle cx="440.90" cy="266.80" r="1.70" fill="#dc6860" />
<circle cx="438.20" cy="275.00" r="1.60" fill="#dc6c64" />
<circle cx="434.40" cy="283.20" r="1.80" fill="#e06a6a" />
<circle cx="433.20" cy="291.40" r="1.70" fill="#e06c70" />
<circle cx="432.20" cy="299.60" r="1.60" fill="#e07074" />
<circle cx="431.30" cy="307.80" r="1.80" fill="#e07070" />
<circle cx="430.00" cy="316.00" r="1.50" fill="#e47478" />
<circle cx="429.80" cy="324.20" r="1.50" fill="#e07070" />
<rect x="427.6" y="206.4" width="52.70" height="123.00" fill="none" stroke="#1a1a1a" stroke-width="1.1"/>
<line x1="428.80" y1="329.4" x2="428.80" y2="332.20" stroke="#1a1a1a" stroke-width="0.9"/>
<text x="428.80" y="340.60" font-size="6.3" text-anchor="middle" fill="#333" font-weight="normal" stroke="#333" stroke-width="0.18" >2.2</text>
<line x1="439.12" y1="329.4" x2="439.12" y2="332.20" stroke="#1a1a1a" stroke-width="0.9"/>
<text x="439.12" y="340.60" font-size="6.3" text-anchor="middle" fill="#333" font-weight="normal" stroke="#333" stroke-width="0.18" >2.4</text>
<line x1="449.44" y1="329.4" x2="449.44" y2="332.20" stroke="#1a1a1a" stroke-width="0.9"/>
<text x="449.44" y="340.60" font-size="6.3" text-anchor="middle" fill="#333" font-weight="normal" stroke="#333" stroke-width="0.18" >2.6</text>
<line x1="459.76" y1="329.4" x2="459.76" y2="332.20" stroke="#1a1a1a" stroke-width="0.9"/>
<text x="459.76" y="340.60" font-size="6.3" text-anchor="middle" fill="#333" font-weight="normal" stroke="#333" stroke-width="0.18" >2.8</text>
<line x1="470.08" y1="329.4" x2="470.08" y2="332.20" stroke="#1a1a1a" stroke-width="0.9"/>
<text x="470.08" y="340.60" font-size="6.3" text-anchor="middle" fill="#333" font-weight="normal" stroke="#333" stroke-width="0.18" >3.0</text>
<line x1="480.40" y1="329.4" x2="480.40" y2="332.20" stroke="#1a1a1a" stroke-width="0.9"/>
<text x="480.40" y="340.60" font-size="6.3" text-anchor="middle" fill="#333" font-weight="normal" stroke="#333" stroke-width="0.18" >3.2</text>
<text x="449.2" y="352.40" font-size="8.2" fill="#222" stroke="#222" stroke-width="0.4" textLength="9.9" lengthAdjust="spacingAndGlyphs">NES</text>
<text x="484.80" y="55.70" font-size="6.1" text-anchor="start" fill="#333" font-weight="normal" stroke="#333" stroke-width="0.18" >FDR</text>
<rect x="485.1" y="59.4" width="5.4" height="27.00" fill="url(#gA)"/>
<text x="493.70" y="61.80" font-size="5.6" text-anchor="start" fill="#444" font-weight="normal" stroke="#444" stroke-width="0.18" textLength="12.2" lengthAdjust="spacingAndGlyphs">0.05</text>
<text x="493.70" y="67.12" font-size="5.6" text-anchor="start" fill="#444" font-weight="normal" stroke="#444" stroke-width="0.18" textLength="12.2" lengthAdjust="spacingAndGlyphs">0.04</text>
<text x="493.70" y="72.44" font-size="5.6" text-anchor="start" fill="#444" font-weight="normal" stroke="#444" stroke-width="0.18" textLength="12.2" lengthAdjust="spacingAndGlyphs">0.03</text>
<text x="493.70" y="77.76" font-size="5.6" text-anchor="start" fill="#444" font-weight="normal" stroke="#444" stroke-width="0.18" textLength="12.2" lengthAdjust="spacingAndGlyphs">0.02</text>
<text x="493.70" y="83.08" font-size="5.6" text-anchor="start" fill="#444" font-weight="normal" stroke="#444" stroke-width="0.18" textLength="12.2" lengthAdjust="spacingAndGlyphs">0.01</text>
<text x="493.70" y="88.40" font-size="5.6" text-anchor="start" fill="#444" font-weight="normal" stroke="#444" stroke-width="0.18" textLength="12.2" lengthAdjust="spacingAndGlyphs">0.00</text>
<text x="484.90" y="97.80" font-size="6.05" text-anchor="start" fill="#333" font-weight="normal" stroke="#333" stroke-width="0.18" >GeneRatio</text>
<circle cx="487.90" cy="103.90" r="1.60" fill="#111" />
<text x="493.80" y="105.90" font-size="5.6" text-anchor="start" fill="#444" font-weight="normal" stroke="#444" stroke-width="0.18" textLength="8.0" lengthAdjust="spacingAndGlyphs">0.4</text>
<circle cx="487.90" cy="109.10" r="1.90" fill="#111" />
<text x="493.80" y="111.10" font-size="5.6" text-anchor="start" fill="#444" font-weight="normal" stroke="#444" stroke-width="0.18" textLength="8.0" lengthAdjust="spacingAndGlyphs">0.5</text>
<circle cx="487.90" cy="114.30" r="2.10" fill="#111" />
<text x="493.80" y="116.30" font-size="5.6" text-anchor="start" fill="#444" font-weight="normal" stroke="#444" stroke-width="0.18" textLength="8.0" lengthAdjust="spacingAndGlyphs">0.6</text>
<text x="484.80" y="232.20" font-size="6.1" text-anchor="start" fill="#333" font-weight="normal" stroke="#333" stroke-width="0.18" >FDR</text>
<rect x="485.1" y="235.9" width="5.4" height="27.50" fill="url(#gB)"/>
<text x="493.70" y="238.30" font-size="5.6" text-anchor="start" fill="#444" font-weight="normal" stroke="#444" stroke-width="0.18" textLength="12.2" lengthAdjust="spacingAndGlyphs">0.05</text>
<text x="493.70" y="243.70" font-size="5.6" text-anchor="start" fill="#444" font-weight="normal" stroke="#444" stroke-width="0.18" textLength="12.2" lengthAdjust="spacingAndGlyphs">0.04</text>
<text x="493.70" y="249.10" font-size="5.6" text-anchor="start" fill="#444" font-weight="normal" stroke="#444" stroke-width="0.18" textLength="12.2" lengthAdjust="spacingAndGlyphs">0.03</text>
<text x="493.70" y="254.50" font-size="5.6" text-anchor="start" fill="#444" font-weight="normal" stroke="#444" stroke-width="0.18" textLength="12.2" lengthAdjust="spacingAndGlyphs">0.02</text>
<text x="493.70" y="259.90" font-size="5.6" text-anchor="start" fill="#444" font-weight="normal" stroke="#444" stroke-width="0.18" textLength="12.2" lengthAdjust="spacingAndGlyphs">0.01</text>
<text x="493.70" y="265.30" font-size="5.6" text-anchor="start" fill="#444" font-weight="normal" stroke="#444" stroke-width="0.18" textLength="12.2" lengthAdjust="spacingAndGlyphs">0.00</text>
<text x="484.90" y="274.30" font-size="6.05" text-anchor="start" fill="#333" font-weight="normal" stroke="#333" stroke-width="0.18" >GeneRatio</text>
<circle cx="487.90" cy="281.20" r="1.90" fill="#111" />
<text x="493.80" y="283.20" font-size="5.6" text-anchor="start" fill="#444" font-weight="normal" stroke="#444" stroke-width="0.18" textLength="12.3" lengthAdjust="spacingAndGlyphs">0.50</text>
<circle cx="487.90" cy="286.60" r="1.95" fill="#111" />
<text x="493.80" y="288.60" font-size="5.6" text-anchor="start" fill="#444" font-weight="normal" stroke="#444" stroke-width="0.18" textLength="12.3" lengthAdjust="spacingAndGlyphs">0.55</text>
<circle cx="487.90" cy="292.00" r="2.00" fill="#111" />
<text x="493.80" y="294.00" font-size="5.6" text-anchor="start" fill="#444" font-weight="normal" stroke="#444" stroke-width="0.18" textLength="12.3" lengthAdjust="spacingAndGlyphs">0.60</text>
<circle cx="487.90" cy="297.40" r="2.00" fill="#111" />
<text x="493.80" y="299.40" font-size="5.6" text-anchor="start" fill="#444" font-weight="normal" stroke="#444" stroke-width="0.18" textLength="12.3" lengthAdjust="spacingAndGlyphs">0.65</text>
<circle cx="487.90" cy="302.80" r="2.05" fill="#111" />
<text x="493.80" y="304.80" font-size="5.6" text-anchor="start" fill="#444" font-weight="normal" stroke="#444" stroke-width="0.18" textLength="12.3" lengthAdjust="spacingAndGlyphs">0.70</text>
</g></svg>
</body></html>
